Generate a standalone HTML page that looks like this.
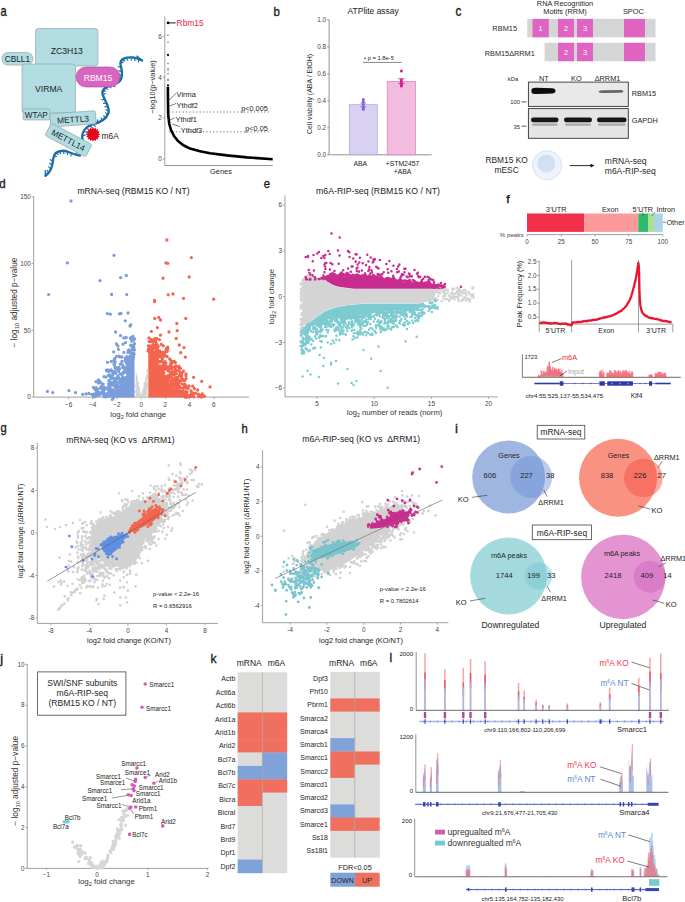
<!DOCTYPE html>
<html><head><meta charset="utf-8"><title>Figure</title>
<style>html,body{margin:0;padding:0;background:#fff;}svg{display:block;}text{font-family:"Liberation Sans", sans-serif;}</style>
</head><body>
<svg width="685" height="902" viewBox="0 0 685 902" font-family='"Liberation Sans", sans-serif'>
<rect width="685" height="902" fill="#fff"/>
<text transform="translate(0.50 15.70) scale(0.8 1)" font-size="13.8" fill="#1a1a1a" stroke="#1a1a1a" stroke-width="0.35">a</text><path d="M45.5,175.8 C49.5,173 52.5,167 53,160 C53.5,153 57,150.8 63,150.8 C69,150.8 73,155 80,155.5" fill="none" stroke="#1e6ea6" stroke-width="2.4" stroke-linecap="round"/><path d="M48.5,172.8l-1.8,-3.0M50.8,169.1l-2.4,-2.5M52.2,165.0l-2.8,-2.0M52.9,161.0l-3.1,-1.6M53.5,156.8l3.5,-0.3M55.5,153.2l3.2,1.3M59.0,151.3l2.1,2.8M63.0,150.8l1.2,3.2M67.2,151.5l0.3,3.5M71.1,153.0l-0.1,3.5M75.2,154.6l2.2,-2.7" stroke="#1e6ea6" stroke-width="1.1" fill="none"/><path d="M82.6,140 C81,133 85,127 93,124.2 C100,122.5 106,120 108.5,113 C110,106 104,100 102.5,94 C101.5,88 108,85.5 116,83.5 C123,81 122.5,72 120.6,65 C119.5,58.5 126,57 133,57.5 C137,58 140,59.5 142,60.4" fill="none" stroke="#1e6ea6" stroke-width="2.4" stroke-linecap="round"/><path d="M82.3,135.9l3.3,-1.0M83.5,131.8l3.5,0.3M86.1,128.2l3.1,1.5M89.7,125.7l2.7,2.2M93.5,124.1l2.0,2.8M97.5,122.9l0.1,-3.5M101.6,121.1l-0.5,-3.4M105.0,118.5l-1.4,-3.2M107.6,115.0l-2.3,-2.6M108.7,110.9l-3.2,-1.3M108.1,106.9l-3.5,-0.3M106.6,103.1l-3.5,0.3M104.7,99.4l-3.5,0.4M102.9,95.4l2.6,-2.3M102.6,91.2l3.5,-0.3M105.2,87.8l3.0,1.8M108.9,85.7l2.4,2.5M113.1,84.3l2.1,2.8M117.0,83.1l-0.3,-3.5M120.2,80.1l-2.1,-2.8M121.6,75.9l-3.0,-1.7M121.8,71.6l-3.3,-1.0M121.1,67.2l-3.4,-0.6M120.5,63.2l3.3,-1.1M122.2,59.6l3.1,1.6M126.1,57.8l1.9,2.9M130.4,57.4l1.3,3.2M134.5,57.7l0.6,3.4M138.5,58.9l0.0,3.5" stroke="#1e6ea6" stroke-width="1.1" fill="none"/><line x1="45.5" y1="175.8" x2="45.3" y2="170.2" stroke="#1e6ea6" stroke-width="1.5"/><line x1="142.0" y1="60.4" x2="136.5" y2="55.8" stroke="#1e6ea6" stroke-width="1.4"/><rect x="35.5" y="28.5" width="62.5" height="37.5" rx="3" fill="#b0dce2" stroke="#8a9ea2" stroke-width="0.6"/><text x="66.7" y="53.6" font-size="8.6" text-anchor="middle" fill="#222">ZC3H13</text><rect x="1.8" y="52.5" width="31.2" height="12.6" rx="6.3" fill="#b0dce2" stroke="#8a9ea2" stroke-width="0.6"/><text x="17.4" y="62.4" font-size="8.3" text-anchor="middle" fill="#222">CBLL1</text><rect x="22.0" y="64.0" width="53.5" height="49.0" rx="3" fill="#b0dce2" stroke="#8a9ea2" stroke-width="0.6"/><text x="48.7" y="92.0" font-size="8.6" text-anchor="middle" fill="#222">VIRMA</text><rect x="76.0" y="67.0" width="44.0" height="20.0" rx="10" fill="#d866c0" stroke="#a04c90" stroke-width="0.6"/><text x="98.0" y="80.6" font-size="8.6" text-anchor="middle" fill="#fff">RBM15</text><rect x="23.0" y="109.0" width="27.0" height="11.0" rx="2" fill="#b0dce2" stroke="#8a9ea2" stroke-width="0.6"/><text x="36.3" y="118.2" font-size="8.2" text-anchor="middle" fill="#222">WTAP</text><g transform="rotate(-4 73 118.8)"><rect x="50.3" y="112.2" width="45.6" height="13.2" rx="2" fill="#b0dce2" stroke="#8a9ea2" stroke-width="0.6"/><text x="73.0" y="122.5" font-size="8.4" text-anchor="middle" fill="#222">METTL3</text></g><g transform="rotate(28 68.5 140)"><rect x="45.5" y="133.0" width="46.0" height="14.0" rx="2" fill="#b0dce2" stroke="#8a9ea2" stroke-width="0.6"/><text x="68.5" y="143.2" font-size="8.4" text-anchor="middle" fill="#222">METTL14</text></g><polygon points="100.4,134.3 98.4,135.4 99.8,137.1 97.6,137.4 98.2,139.5 96.1,138.9 95.8,141.1 94.1,139.7 93.0,141.7 91.9,139.7 90.2,141.1 89.9,138.9 87.8,139.5 88.4,137.4 86.2,137.1 87.6,135.4 85.6,134.3 87.6,133.2 86.2,131.5 88.4,131.2 87.8,129.1 89.9,129.7 90.2,127.5 91.9,128.9 93.0,126.9 94.1,128.9 95.8,127.5 96.1,129.7 98.2,129.1 97.6,131.2 99.8,131.5 98.4,133.2" fill="#e8061f"/><text x="101.6" y="139.2" font-size="8.4" fill="#222">m6A</text><line x1="164.8" y1="16.3" x2="164.8" y2="165.5" stroke="#aaa" stroke-width="1.1"/><line x1="164.8" y1="165.5" x2="272.7" y2="165.5" stroke="#777" stroke-width="0.8"/><line x1="162.8" y1="159.0" x2="164.8" y2="159.0" stroke="#777" stroke-width="0.7"/><text x="161.8" y="161.3" font-size="6.4" text-anchor="end" fill="#444">0</text><line x1="162.8" y1="118.1" x2="164.8" y2="118.1" stroke="#777" stroke-width="0.7"/><text x="161.8" y="120.4" font-size="6.4" text-anchor="end" fill="#444">2</text><line x1="162.8" y1="77.2" x2="164.8" y2="77.2" stroke="#777" stroke-width="0.7"/><text x="161.8" y="79.5" font-size="6.4" text-anchor="end" fill="#444">4</text><line x1="162.8" y1="36.3" x2="164.8" y2="36.3" stroke="#777" stroke-width="0.7"/><text x="161.8" y="38.6" font-size="6.4" text-anchor="end" fill="#444">6</text><text x="155.4" y="87.0" font-size="7.4" text-anchor="middle" transform="rotate(-90 155.4 87.0)" fill="#262626">−log10(p−value)</text><text x="221.0" y="173.5" font-size="7.4" text-anchor="middle" fill="#262626">Genes</text><line x1="169" y1="112" x2="269.5" y2="112" stroke="#333" stroke-width="0.7" stroke-dasharray="1.2 2.2"/><line x1="169" y1="131.8" x2="269.5" y2="131.8" stroke="#333" stroke-width="0.7" stroke-dasharray="1.2 2.2"/><text x="267.8" y="111.3" font-size="7.3" text-anchor="end" fill="#222">p&lt;0.005</text><text x="267.8" y="131.3" font-size="7.3" text-anchor="end" fill="#222">p&lt;0.05</text><path d="M167.9,87 L168.0,100 L168.2,115 L169.3,124 L171,130 L174,136 L178,141 L183,145 L190,148.6 L200,151.3 L210,153.2 L227,155.4 L247,157.4 L272.7,159.2" fill="none" stroke="#000" stroke-width="2.6" stroke-linejoin="round"/><circle cx="168.0" cy="35.3" r="0.75" fill="#666"/><circle cx="168.0" cy="42.3" r="0.75" fill="#666"/><circle cx="168.0" cy="63.5" r="0.75" fill="#666"/><circle cx="168.0" cy="68.8" r="0.75" fill="#666"/><circle cx="168.0" cy="70.2" r="0.75" fill="#666"/><circle cx="168.0" cy="73.7" r="0.75" fill="#666"/><circle cx="168.0" cy="79.2" r="0.75" fill="#666"/><circle cx="168.0" cy="80.6" r="0.75" fill="#666"/><circle cx="168.0" cy="55.0" r="1.15" fill="#111"/><circle cx="168.0" cy="85.5" r="1.15" fill="#111"/><circle cx="168.0" cy="22.9" r="1.30" fill="#000"/><line x1="168.0" y1="22.9" x2="175.6" y2="22.9" stroke="#000" stroke-width="0.9"/><text x="176.6" y="25.6" font-size="8.4" fill="#e8243c">Rbm15</text><text x="176.6" y="97.2" font-size="7.4" fill="#222">Virma</text><line x1="168.0" y1="101.0" x2="176.0" y2="93.5" stroke="#222" stroke-width="0.6"/><text x="176.6" y="107.8" font-size="7.4" fill="#222">Ythdf2</text><line x1="168.5" y1="106.5" x2="176.0" y2="103.5" stroke="#222" stroke-width="0.6"/><text x="175.6" y="121.6" font-size="7.4" fill="#222">Ythdf1</text><line x1="169.5" y1="120.0" x2="174.5" y2="118.0" stroke="#222" stroke-width="0.6"/><text x="180.8" y="132.6" font-size="7.4" fill="#222">Ythdf3</text><line x1="172.0" y1="124.2" x2="180.0" y2="126.5" stroke="#222" stroke-width="0.6"/><text transform="translate(273.60 15.70) scale(0.85 1)" font-size="13.5" fill="#1a1a1a" stroke="#1a1a1a" stroke-width="0.35">b</text><text x="373.2" y="14.2" font-size="8.5" text-anchor="middle" fill="#222">ATPlite assay</text><line x1="329.1" y1="19.7" x2="329.1" y2="154.8" stroke="#777" stroke-width="0.8"/><line x1="329.1" y1="154.8" x2="431.6" y2="154.8" stroke="#777" stroke-width="0.8"/><line x1="327.1" y1="154.8" x2="329.1" y2="154.8" stroke="#777" stroke-width="0.7"/><text x="326.1" y="157.0" font-size="6.3" text-anchor="end" fill="#444">0.0</text><line x1="327.1" y1="127.8" x2="329.1" y2="127.8" stroke="#777" stroke-width="0.7"/><text x="326.1" y="130.0" font-size="6.3" text-anchor="end" fill="#444">0.2</text><line x1="327.1" y1="100.8" x2="329.1" y2="100.8" stroke="#777" stroke-width="0.7"/><text x="326.1" y="103.0" font-size="6.3" text-anchor="end" fill="#444">0.4</text><line x1="327.1" y1="73.9" x2="329.1" y2="73.9" stroke="#777" stroke-width="0.7"/><text x="326.1" y="76.1" font-size="6.3" text-anchor="end" fill="#444">0.6</text><line x1="327.1" y1="46.9" x2="329.1" y2="46.9" stroke="#777" stroke-width="0.7"/><text x="326.1" y="49.1" font-size="6.3" text-anchor="end" fill="#444">0.8</text><line x1="327.1" y1="19.9" x2="329.1" y2="19.9" stroke="#777" stroke-width="0.7"/><text x="326.1" y="22.1" font-size="6.3" text-anchor="end" fill="#444">1.0</text><text x="311.5" y="94.0" font-size="7.0" text-anchor="middle" transform="rotate(-90 311.5 94.0)" fill="#262626">Cell viability (ABA / EtOH)</text><rect x="349.3" y="104.7" width="28.0" height="50.1" fill="#d9d1f1" stroke="#b0a3e6" stroke-width="0.7"/><rect x="387.2" y="81.5" width="28.4" height="73.3" fill="#f2bcdf" stroke="#e07ac4" stroke-width="0.7"/><line x1="363.3" y1="103.0" x2="363.3" y2="106.8" stroke="#7a5fd0" stroke-width="0.8"/><line x1="360.5" y1="103.0" x2="366.1" y2="103.0" stroke="#7a5fd0" stroke-width="0.8"/><line x1="360.5" y1="106.8" x2="366.1" y2="106.8" stroke="#7a5fd0" stroke-width="0.8"/><line x1="401.4" y1="78.8" x2="401.4" y2="83.4" stroke="#d0208e" stroke-width="0.8"/><line x1="398.2" y1="78.8" x2="404.6" y2="78.8" stroke="#d0208e" stroke-width="0.8"/><line x1="398.2" y1="83.4" x2="404.6" y2="83.4" stroke="#d0208e" stroke-width="0.8"/><circle cx="363.3" cy="99.6" r="1.50" fill="#8462d4"/><circle cx="363.3" cy="101.8" r="1.50" fill="#8462d4"/><circle cx="363.3" cy="104.5" r="1.50" fill="#8462d4"/><circle cx="363.3" cy="107.5" r="1.50" fill="#8462d4"/><circle cx="363.3" cy="109.3" r="1.50" fill="#8462d4"/><circle cx="401.4" cy="71.0" r="1.50" fill="#d21f8e"/><circle cx="401.4" cy="80.0" r="1.50" fill="#d21f8e"/><circle cx="401.4" cy="82.0" r="1.50" fill="#d21f8e"/><circle cx="401.4" cy="84.5" r="1.50" fill="#d21f8e"/><circle cx="401.4" cy="86.0" r="1.50" fill="#d21f8e"/><text x="364.0" y="60.0" font-size="5.8" fill="#222">• p = 1.8e-5</text><line x1="363.0" y1="62.4" x2="401.5" y2="62.4" stroke="#333" stroke-width="0.6"/><text x="360.3" y="166.3" font-size="6.8" text-anchor="middle" fill="#222">ABA</text><text x="402.5" y="166.3" font-size="6.8" text-anchor="middle" fill="#222">+STM2457</text><text x="402.5" y="174.2" font-size="6.8" text-anchor="middle" fill="#222">+ABA</text><text transform="translate(455.60 16.10) scale(0.85 1)" font-size="13.8" fill="#1a1a1a" stroke="#1a1a1a" stroke-width="0.35">c</text><text x="565.0" y="5.6" font-size="7.4" text-anchor="middle" fill="#262626">RNA Recognition</text><text x="565.0" y="14.4" font-size="7.4" text-anchor="middle" fill="#262626">Motifs (RRM)</text><text x="633.4" y="14.4" font-size="7.4" text-anchor="middle" fill="#262626">SPOC</text><rect x="527.3" y="18.9" width="128.2" height="18.4" fill="#d5d5d5"/><rect x="544.6" y="42.8" width="110.9" height="18.4" fill="#d5d5d5"/><rect x="532.5" y="18.9" width="16.3" height="18.4" fill="#e065c3"/><text x="540.6" y="31.0" font-size="7.4" text-anchor="middle" fill="#fff">1</text><rect x="558.0" y="18.9" width="16.0" height="18.4" fill="#e065c3"/><text x="566.0" y="31.0" font-size="7.4" text-anchor="middle" fill="#fff">2</text><rect x="577.0" y="18.9" width="16.0" height="18.4" fill="#e065c3"/><text x="585.0" y="31.0" font-size="7.4" text-anchor="middle" fill="#fff">3</text><rect x="624.0" y="18.9" width="21.0" height="18.4" fill="#e065c3"/><rect x="558.0" y="42.8" width="16.0" height="18.4" fill="#e065c3"/><text x="566.0" y="55.0" font-size="7.4" text-anchor="middle" fill="#fff">2</text><rect x="577.0" y="42.8" width="16.0" height="18.4" fill="#e065c3"/><text x="585.0" y="55.0" font-size="7.4" text-anchor="middle" fill="#fff">3</text><rect x="624.0" y="42.8" width="21.0" height="18.4" fill="#e065c3"/><text x="504.7" y="31.3" font-size="7.4" text-anchor="middle" fill="#262626">RBM15</text><text x="509.8" y="55.6" font-size="7.3" text-anchor="middle" fill="#262626">RBM15ΔRRM1</text><text x="513.0" y="81.4" font-size="5.8" text-anchor="middle" fill="#262626">kDa</text><text x="543.8" y="80.8" font-size="7.3" text-anchor="middle" fill="#222">NT</text><text x="576.3" y="80.8" font-size="7.3" text-anchor="middle" fill="#222">KO</text><text x="607.5" y="80.8" font-size="7.3" text-anchor="middle" fill="#222">ΔRRM1</text><rect x="528.4" y="82.1" width="99.9" height="24.3" fill="#e9e9e9" stroke="#333" stroke-width="0.9"/><rect x="528.4" y="108.6" width="99.9" height="29.7" fill="#e4e4e4" stroke="#333" stroke-width="0.9"/><filter id="bl" x="-20%" y="-50%" width="140%" height="200%"><feGaussianBlur stdDeviation="0.7"/></filter><g filter="url(#bl)"><path d="M531.5,89.2 Q533,87.6 537,87.8 L552,88.2 Q555.5,88.6 555.5,90.8 Q555.5,93.2 552,93.6 L537,94 Q532.5,94 531.5,92.5 Z" fill="#080808"/><path d="M598.5,91.5 Q600,90.2 604,90.3 L621,89.9 Q623.5,90 623.5,91.3 Q623.5,92.7 621,92.8 L604,93 Q599.5,93 598.5,91.9 Z" fill="#666"/><rect x="531" y="117.6" width="27.5" height="4.6" rx="2.2" fill="#151515"/><rect x="532" y="123.4" width="25.5" height="2.4" rx="1.2" fill="#a8a8a8"/><rect x="564" y="117.6" width="28" height="4.6" rx="2.2" fill="#151515"/><rect x="565" y="123.4" width="26" height="2.4" rx="1.2" fill="#a8a8a8"/><rect x="597" y="117.6" width="29.5" height="4.6" rx="2.2" fill="#151515"/><rect x="598" y="123.4" width="27.5" height="2.4" rx="1.2" fill="#a8a8a8"/></g><text x="520.0" y="104.2" font-size="5.8" text-anchor="end" fill="#262626">100</text><line x1="521.5" y1="101.9" x2="526.5" y2="101.9" stroke="#333" stroke-width="0.8"/><text x="520.0" y="128.5" font-size="5.8" text-anchor="end" fill="#262626">35</text><line x1="521.5" y1="126.2" x2="526.5" y2="126.2" stroke="#333" stroke-width="0.8"/><text x="631.8" y="96.4" font-size="7.3" fill="#222">RBM15</text><text x="631.8" y="123.4" font-size="7.3" fill="#222">GAPDH</text><text x="506.6" y="163.0" font-size="8.4" text-anchor="middle" fill="#262626">RBM15 KO</text><text x="506.6" y="172.8" font-size="8.4" text-anchor="middle" fill="#262626">mESC</text><circle cx="547.0" cy="165.3" r="14.60" fill="#edf3fc" stroke="#c6d6f1" stroke-width="0.7"/><circle cx="546.3" cy="163.4" r="9.00" fill="#d2e0f5"/><line x1="569.7" y1="165.6" x2="592.0" y2="165.6" stroke="#111" stroke-width="0.9"/><polygon points="594.5,165.6 590.5,163.8 590.5,167.4" fill="#111"/><text x="604.8" y="163.8" font-size="8.5" fill="#262626">mRNA-seq</text><text x="604.8" y="173.6" font-size="8.5" fill="#262626">m6A-RIP-seq</text><text transform="translate(-0.80 187.90) scale(0.9 1)" font-size="12.8" fill="#1a1a1a" stroke="#1a1a1a" stroke-width="0.35">d</text><text x="133.5" y="194.4" font-size="8.6" text-anchor="middle" fill="#222">mRNA-seq (RBM15 KO / NT)</text><line x1="33.7" y1="196.3" x2="33.7" y2="397.1" stroke="#888" stroke-width="0.8"/><line x1="33.7" y1="397.1" x2="249.2" y2="397.1" stroke="#888" stroke-width="0.8"/><line x1="31.7" y1="397.1" x2="33.7" y2="397.1" stroke="#888" stroke-width="0.7"/><text x="30.9" y="399.3" font-size="6.4" text-anchor="end" fill="#444">0</text><line x1="31.7" y1="330.3" x2="33.7" y2="330.3" stroke="#888" stroke-width="0.7"/><text x="30.9" y="332.5" font-size="6.4" text-anchor="end" fill="#444">50</text><line x1="31.7" y1="263.5" x2="33.7" y2="263.5" stroke="#888" stroke-width="0.7"/><text x="30.9" y="265.7" font-size="6.4" text-anchor="end" fill="#444">100</text><line x1="31.7" y1="196.7" x2="33.7" y2="196.7" stroke="#888" stroke-width="0.7"/><text x="30.9" y="198.9" font-size="6.4" text-anchor="end" fill="#444">150</text><line x1="68.6" y1="397.1" x2="68.6" y2="399.1" stroke="#888" stroke-width="0.7"/><text x="68.6" y="406.5" font-size="6.4" text-anchor="middle" fill="#444">−6</text><line x1="92.8" y1="397.1" x2="92.8" y2="399.1" stroke="#888" stroke-width="0.7"/><text x="92.8" y="406.5" font-size="6.4" text-anchor="middle" fill="#444">−4</text><line x1="117.0" y1="397.1" x2="117.0" y2="399.1" stroke="#888" stroke-width="0.7"/><text x="117.0" y="406.5" font-size="6.4" text-anchor="middle" fill="#444">−2</text><line x1="141.2" y1="397.1" x2="141.2" y2="399.1" stroke="#888" stroke-width="0.7"/><text x="141.2" y="406.5" font-size="6.4" text-anchor="middle" fill="#444">0</text><line x1="165.4" y1="397.1" x2="165.4" y2="399.1" stroke="#888" stroke-width="0.7"/><text x="165.4" y="406.5" font-size="6.4" text-anchor="middle" fill="#444">2</text><line x1="189.6" y1="397.1" x2="189.6" y2="399.1" stroke="#888" stroke-width="0.7"/><text x="189.6" y="406.5" font-size="6.4" text-anchor="middle" fill="#444">4</text><line x1="213.8" y1="397.1" x2="213.8" y2="399.1" stroke="#888" stroke-width="0.7"/><text x="213.8" y="406.5" font-size="6.4" text-anchor="middle" fill="#444">6</text><text x="138.2" y="416.8" font-size="7.8" text-anchor="middle" fill="#333">log<tspan font-size="5.5" dy="2">2</tspan><tspan dy="-2"> fold change</tspan></text><text transform="translate(17.3 302.6) rotate(-90)" font-size="8.3" text-anchor="middle" fill="#333">− log<tspan font-size="5.8" dy="2">10</tspan><tspan dy="-2"> adjusted p−value</tspan></text><path d="M135.7,397 L135.7,369.5 L141.3,396.5 L147.5,369.5 L147.5,397 Z" fill="#d6d6d6"/><path d="M141.0 396.1h0M146.6 386.0h0M141.7 395.7h0M137.9 389.1h0M143.1 390.3h0M136.8 390.9h0M136.8 380.6h0M143.9 396.5h0M147.3 371.4h0M143.4 391.0h0M137.6 396.7h0M141.9 396.8h0M137.9 393.3h0M136.1 386.2h0M140.9 395.1h0M141.8 395.2h0M141.6 395.8h0M141.1 396.6h0M147.5 369.7h0M145.6 383.3h0M139.4 395.0h0M139.1 396.3h0M144.7 390.8h0M145.7 389.4h0M147.0 375.5h0M135.7 391.8h0M146.4 386.2h0M147.3 386.5h0M136.6 383.7h0M144.9 392.7h0M136.7 390.2h0M147.1 377.6h0M137.1 392.4h0M136.9 395.8h0M145.1 394.0h0M142.3 394.8h0M138.0 386.0h0M137.2 385.3h0M137.1 389.0h0M138.2 393.2h0M147.2 376.1h0M139.3 388.8h0M138.2 391.5h0M145.8 384.2h0M136.9 377.5h0M138.2 393.4h0M144.8 391.8h0M139.2 396.3h0M136.8 385.2h0M138.6 389.5h0M140.1 394.4h0M147.0 384.7h0M142.5 392.1h0M137.9 394.6h0M146.4 378.4h0M138.6 394.7h0M144.4 383.7h0M138.0 383.0h0M146.1 384.1h0M140.7 396.7h0" stroke="#d4d4d4" stroke-width="2.0" stroke-linecap="round" fill="none"/><path d="M113.0,396.5 L114.5,394.2 L116.0,392.0 L117.5,390.8 L119.0,389.6 L120.5,388.4 L122.0,386.5 L123.5,384.2 L125.0,382.0 L126.5,378.5 L128.0,375.0 L129.5,370.0 L131.0,365.0 L132.5,359.0 L134.0,354.3 L134.5,352.9 L134.5,397.5 L134.0,397.5 L132.5,397.5 L131.0,397.5 L129.5,397.5 L128.0,397.5 L126.5,397.5 L125.0,397.5 L123.5,397.5 L122.0,397.5 L120.5,397.5 L119.0,397.5 L117.5,397.5 L116.0,397.5 L114.5,397.5 L113.0,397.5Z" fill="#7a9edc"/><path d="M93.7 394.2h0M128.8 368.1h0M131.6 337.3h0M120.4 373.8h0M105.8 397.0h0M116.7 368.9h0M117.2 367.7h0M111.0 384.9h0M131.8 341.2h0M111.1 388.9h0M93.4 387.5h0M122.6 364.8h0M112.4 375.6h0M112.0 370.9h0M123.2 383.4h0M115.2 381.3h0M113.3 393.2h0M114.6 385.3h0M114.6 365.0h0M93.2 394.7h0M113.2 373.8h0M118.4 386.3h0M131.0 345.7h0M123.9 352.4h0M124.2 380.4h0M122.0 379.5h0M109.5 376.2h0M119.6 368.8h0M118.6 377.4h0M131.1 363.3h0M132.8 353.6h0M120.3 364.1h0M123.0 344.2h0M112.6 395.0h0M114.6 392.3h0M112.2 395.4h0M119.0 356.2h0M119.3 378.5h0M115.8 369.3h0M131.8 354.1h0M96.2 387.6h0M112.9 373.4h0M110.9 382.2h0M116.4 381.8h0M128.1 364.2h0M104.6 394.7h0M120.0 380.2h0M127.3 358.0h0M103.9 396.3h0M122.8 367.5h0M98.5 379.8h0M112.2 393.7h0M110.0 390.8h0M112.2 375.6h0M111.9 394.5h0M108.3 375.3h0M116.4 356.4h0M128.2 366.5h0M126.1 371.5h0M106.8 370.8h0M127.6 367.9h0M100.5 392.9h0M127.3 367.1h0M106.3 370.1h0M131.1 361.5h0M110.7 389.8h0M117.8 378.4h0M113.7 351.8h0M122.0 361.5h0M120.8 387.0h0M116.5 389.8h0M100.3 388.0h0M132.5 355.4h0M114.8 361.8h0M111.9 378.3h0M117.8 375.6h0M121.8 384.3h0M102.4 388.8h0M93.5 396.7h0M132.3 349.3h0M117.5 388.5h0M109.0 385.2h0M98.6 392.2h0M108.7 386.9h0M130.5 364.4h0M125.3 369.1h0M108.5 390.2h0M133.9 347.0h0M125.4 358.1h0M113.9 381.7h0M127.8 364.6h0M96.6 392.0h0M130.6 345.2h0M109.4 374.9h0M104.1 389.9h0M115.6 373.0h0M100.8 388.0h0M110.6 394.2h0M109.6 375.0h0M107.4 396.2h0M109.4 387.1h0M115.2 386.9h0M116.0 381.0h0M122.0 357.0h0M104.3 387.4h0M111.7 392.0h0M124.1 367.1h0M97.7 389.2h0M128.7 366.3h0M96.3 389.2h0M123.2 372.2h0M127.8 370.8h0M109.3 371.2h0M115.2 362.0h0M98.7 394.8h0M133.6 353.0h0M105.0 394.5h0M96.8 390.9h0M113.6 389.8h0M114.3 378.5h0M129.2 352.2h0M111.0 378.4h0M105.8 377.1h0M115.2 384.9h0M129.7 357.4h0M132.1 359.0h0M108.8 380.4h0M116.8 385.2h0M115.1 367.7h0M107.7 393.3h0M128.9 367.7h0M102.0 393.2h0M95.1 389.6h0M125.9 361.1h0M127.8 373.6h0M128.0 352.6h0M103.0 387.8h0M126.1 362.5h0M109.9 396.2h0M112.6 383.4h0M132.9 336.5h0M103.8 392.4h0M123.8 337.9h0M120.2 356.9h0M130.2 365.6h0M134.5 343.7h0M98.8 393.1h0M131.9 360.6h0M119.3 356.7h0M103.0 389.7h0M128.3 359.7h0M121.6 381.8h0M102.5 391.0h0M120.2 380.1h0M104.6 393.4h0M114.6 358.6h0M129.3 362.2h0M121.6 379.2h0M116.8 377.8h0M130.0 356.1h0M124.9 378.0h0M114.8 359.1h0M107.5 362.3h0M108.2 371.3h0M126.3 377.4h0M113.1 374.2h0M106.6 387.9h0M127.1 364.8h0M134.6 338.8h0M128.3 362.7h0M107.3 395.9h0M120.8 374.2h0M130.6 338.8h0M126.4 368.5h0M95.3 396.5h0M123.3 378.9h0M112.5 393.9h0M103.2 384.1h0M108.5 383.8h0M133.8 340.0h0M134.5 349.8h0M112.2 385.3h0M124.2 379.1h0M96.9 395.5h0M132.4 353.6h0M127.6 373.3h0M129.0 349.9h0M118.1 383.8h0M114.0 360.3h0M113.8 382.3h0M131.8 358.3h0M130.4 338.0h0M130.3 358.2h0M132.4 347.1h0M126.2 337.5h0M124.1 379.0h0M99.6 395.1h0M121.2 385.3h0M104.0 376.7h0M119.6 382.2h0M117.9 346.0h0M124.7 370.4h0M125.6 372.2h0M122.8 373.7h0M133.4 345.2h0M132.5 337.7h0M110.4 392.7h0M128.2 350.6h0M100.7 382.4h0M128.3 373.1h0M110.1 392.7h0M116.4 343.8h0M111.2 361.4h0M108.2 393.1h0M105.3 388.3h0M125.6 342.6h0M122.6 376.9h0M107.1 396.4h0M125.2 360.2h0M114.7 371.7h0M107.9 370.0h0M126.7 356.7h0M129.5 367.7h0M118.4 349.3h0M117.6 386.0h0M130.8 351.8h0M110.3 382.2h0M105.0 389.2h0M119.0 367.4h0M103.6 395.6h0M127.4 359.2h0M118.3 387.6h0M118.6 371.4h0M111.1 382.6h0M132.7 337.7h0M114.9 395.4h0M130.6 366.4h0M123.1 386.6h0M126.9 379.1h0M115.1 393.6h0M126.9 377.1h0M131.2 365.9h0M119.1 391.1h0M123.4 386.3h0M132.1 360.4h0M130.8 366.3h0M133.2 356.1h0M131.2 363.6h0M117.0 392.2h0M113.3 395.7h0M123.0 384.1h0M118.7 390.5h0M132.1 359.7h0M129.6 369.2h0M133.4 357.0h0M126.3 380.8h0M127.7 374.8h0M123.7 385.5h0M125.2 383.3h0M122.7 387.2h0M121.7 386.5h0M129.2 370.6h0M122.6 386.3h0M113.3 395.7h0M125.2 382.3h0M115.4 393.6h0M113.5 397.5h0M113.8 396.0h0M115.2 392.7h0M126.2 378.7h0M124.8 383.8h0M118.4 389.6h0M125.6 380.7h0M126.7 379.9h0M116.6 392.2h0M131.6 361.8h0M125.7 381.6h0M113.1 396.7h0M121.5 386.5h0M116.8 392.8h0M112.4 399.4h0M130.7 365.3h0M115.6 394.6h0M125.4 382.4h0M126.3 378.3h0M129.3 371.7h0M126.1 380.6h0M129.6 370.8h0M132.2 360.3h0M132.7 359.2h0M134.1 354.2h0M118.0 390.5h0M119.2 391.1h0M112.9 396.8h0M117.6 392.4h0M71.0 201.0h0M67.4 262.9h0M48.6 294.6h0M100.0 280.7h0M114.0 255.3h0M120.6 277.6h0M126.3 275.5h0M126.7 294.6h0M111.6 294.5h0M107.3 313.6h0M110.3 314.2h0M119.4 313.8h0M121.0 313.5h0M128.0 313.0h0M125.3 320.8h0M130.0 326.0h0M130.8 325.0h0M115.5 332.0h0M120.5 335.6h0M47.4 391.4h0M52.8 392.6h0M68.9 390.6h0M75.5 392.6h0M82.7 394.3h0M86.0 394.0h0M89.0 393.5h0M92.0 394.5h0M95.0 393.8h0M98.0 394.5h0M96.0 381.7h0M98.6 383.0h0M100.0 382.0h0M101.5 386.0h0M103.0 389.0h0M114.0 364.0h0M111.0 370.0h0M112.0 377.0h0M114.5 381.0h0" stroke="#7a9edc" stroke-width="3.3" stroke-linecap="round" fill="none"/><path d="M148.3,350.5 L149.8,349.2 L151.3,350.6 L152.8,352.5 L154.3,354.6 L155.8,357.6 L157.3,360.8 L158.8,364.8 L160.3,368.7 L161.8,372.2 L163.3,375.4 L164.8,377.4 L166.3,379.4 L167.8,381.2 L169.3,383.1 L170.8,384.9 L172.3,386.5 L173.8,388.1 L175.3,389.7 L176.8,390.9 L178.3,391.6 L179.8,392.4 L181.3,393.1 L182.8,394.0 L184.3,394.9 L185.8,395.9 L186.0,396.0 L186.0,397.5 L185.8,397.5 L184.3,397.5 L182.8,397.5 L181.3,397.5 L179.8,397.5 L178.3,397.5 L176.8,397.5 L175.3,397.5 L173.8,397.5 L172.3,397.5 L170.8,397.5 L169.3,397.5 L167.8,397.5 L166.3,397.5 L164.8,397.5 L163.3,397.5 L161.8,397.5 L160.3,397.5 L158.8,397.5 L157.3,397.5 L155.8,397.5 L154.3,397.5 L152.8,397.5 L151.3,397.5 L149.8,397.5 L148.3,397.5Z" fill="#f4654f"/><path d="M182.3 392.4h0M169.5 366.5h0M152.7 342.2h0M159.4 339.7h0M175.3 369.5h0M174.3 374.9h0M179.2 380.5h0M157.2 351.3h0M179.1 387.6h0M163.3 370.0h0M172.8 374.6h0M157.9 361.2h0M148.9 337.8h0M150.9 348.4h0M175.9 383.2h0M173.7 380.6h0M185.5 391.4h0M165.9 363.3h0M170.2 380.9h0M175.3 362.4h0M172.4 374.6h0M175.3 378.5h0M160.5 335.1h0M176.9 382.8h0M162.0 369.5h0M173.4 372.3h0M148.4 345.8h0M176.2 384.0h0M162.4 359.4h0M167.9 367.2h0M177.8 378.4h0M156.7 353.4h0M175.5 385.8h0M161.2 369.8h0M186.1 392.8h0M166.6 377.3h0M158.2 346.4h0M201.5 397.0h0M164.4 353.9h0M185.5 392.0h0M158.2 362.1h0M157.3 345.0h0M183.4 371.2h0M168.7 378.0h0M151.4 346.0h0M163.6 369.1h0M155.1 338.6h0M174.9 372.0h0M182.2 384.1h0M160.4 355.2h0M165.5 368.6h0M197.9 394.1h0M176.4 382.9h0M157.7 355.8h0M176.3 383.4h0M158.7 361.6h0M170.5 374.3h0M193.9 396.9h0M182.9 379.5h0M193.1 395.3h0M180.1 372.9h0M153.0 348.3h0M184.7 393.7h0M163.2 362.9h0M153.1 346.0h0M171.2 377.4h0M167.1 356.4h0M167.8 348.8h0M172.2 367.1h0M194.4 388.7h0M198.3 394.1h0M192.6 393.1h0M180.4 376.1h0M190.9 396.4h0M171.1 360.7h0M178.6 387.4h0M153.0 349.4h0M182.1 372.6h0M186.1 378.7h0M190.0 396.3h0M195.5 393.1h0M176.0 382.9h0M177.5 384.7h0M168.9 378.9h0M159.6 352.3h0M155.0 352.4h0M171.2 374.1h0M162.1 367.4h0M191.3 394.5h0M169.5 367.5h0M157.2 357.5h0M180.2 387.3h0M172.3 372.3h0M154.5 347.6h0M179.1 369.3h0M174.0 373.3h0M176.1 387.0h0M171.4 376.3h0M172.6 379.9h0M191.6 395.7h0M164.7 362.8h0M160.9 366.6h0M159.9 366.0h0M188.1 388.4h0M175.4 384.8h0M163.3 365.0h0M162.5 366.5h0M162.8 352.8h0M162.9 372.2h0M170.8 365.0h0M150.0 341.3h0M189.0 396.5h0M173.6 383.7h0M167.8 377.1h0M186.1 387.5h0M174.2 385.3h0M168.6 375.6h0M198.7 396.6h0M191.9 392.4h0M159.9 352.5h0M155.4 348.3h0M176.8 377.3h0M199.8 396.2h0M166.2 349.4h0M173.7 384.0h0M157.9 347.3h0M157.9 347.0h0M175.2 381.7h0M156.5 355.4h0M173.3 361.6h0M156.6 338.6h0M179.1 366.5h0M163.8 373.3h0M168.2 370.8h0M177.9 366.8h0M148.6 349.1h0M159.8 361.5h0M176.2 380.0h0M174.4 378.6h0M168.4 370.8h0M180.1 372.5h0M184.2 386.8h0M157.4 355.8h0M163.3 345.8h0M179.4 375.5h0M171.6 363.8h0M186.0 373.9h0M178.9 370.5h0M157.0 351.8h0M157.2 358.8h0M155.6 340.6h0M175.2 377.8h0M165.4 362.6h0M154.6 353.0h0M156.2 342.9h0M164.9 355.5h0M179.7 391.1h0M164.2 364.9h0M150.3 346.2h0M179.1 382.7h0M174.7 370.7h0M180.0 391.0h0M174.9 379.7h0M189.4 395.5h0M157.5 348.3h0M194.2 393.3h0M161.3 353.3h0M149.3 341.6h0M178.2 385.4h0M176.3 370.7h0M170.7 364.4h0M159.7 351.0h0M162.6 352.1h0M174.5 367.2h0M164.2 366.3h0M174.5 380.0h0M165.6 369.2h0M186.0 375.6h0M182.8 388.4h0M181.8 378.6h0M169.7 359.0h0M200.2 395.3h0M165.5 351.8h0M159.9 353.8h0M160.6 357.1h0M179.2 386.0h0M164.6 368.5h0M163.2 373.4h0M151.3 331.3h0M173.4 384.4h0M184.8 393.9h0M181.6 375.1h0M184.9 384.5h0M154.7 341.0h0M156.3 351.1h0M204.4 396.2h0M170.5 365.0h0M151.1 339.6h0M176.4 373.7h0M170.4 372.6h0M180.2 381.3h0M176.7 379.2h0M178.4 382.5h0M165.1 361.7h0M177.8 388.2h0M167.8 378.9h0M157.5 360.0h0M158.0 354.7h0M186.8 395.1h0M152.7 339.9h0M163.3 356.0h0M155.4 345.7h0M187.0 392.0h0M172.5 385.0h0M149.4 348.1h0M186.5 392.3h0M163.5 356.6h0M181.5 377.5h0M166.3 366.5h0M190.7 394.9h0M176.1 365.9h0M158.9 356.7h0M180.5 380.7h0M157.7 350.8h0M163.5 372.1h0M184.9 387.9h0M192.7 386.2h0M167.7 347.1h0M169.1 368.6h0M168.6 375.4h0M156.3 357.6h0M174.3 361.5h0M173.6 385.6h0M168.6 378.8h0M182.5 391.2h0M159.6 362.1h0M184.6 380.8h0M171.2 362.5h0M161.2 361.3h0M183.4 380.5h0M160.5 366.3h0M177.6 380.2h0M161.3 344.4h0M167.9 369.1h0M166.5 348.5h0M175.7 365.8h0M200.0 395.7h0M185.6 385.5h0M159.8 353.6h0M166.0 376.4h0M179.3 387.9h0M171.8 383.2h0M167.3 351.3h0M153.6 345.1h0M171.6 369.4h0M189.1 396.9h0M190.7 395.6h0M180.5 368.3h0M175.3 362.3h0M181.1 373.3h0M166.0 380.8h0M174.2 389.2h0M156.3 358.6h0M179.1 393.4h0M148.1 351.0h0M185.1 397.2h0M179.3 392.3h0M175.4 391.8h0M163.3 377.3h0M184.9 394.4h0M175.7 390.4h0M178.2 393.2h0M186.4 397.2h0M164.6 379.1h0M151.0 349.4h0M155.5 357.4h0M176.2 390.4h0M165.1 377.7h0M180.5 394.1h0M162.9 375.0h0M174.9 389.7h0M149.0 351.1h0M161.8 371.6h0M172.0 387.3h0M170.0 385.1h0M185.7 395.7h0M182.3 394.5h0M152.9 352.3h0M154.9 355.2h0M177.9 390.9h0M170.2 384.3h0M148.9 351.1h0M152.5 353.9h0M168.7 384.2h0M167.2 382.0h0M155.2 356.0h0M186.5 396.6h0M171.9 387.5h0M164.4 376.3h0M150.6 350.6h0M157.3 362.2h0M153.7 353.4h0M161.1 369.6h0M160.4 368.8h0M162.1 372.5h0M150.1 348.2h0M157.5 361.2h0M160.5 371.0h0M168.9 384.3h0M178.5 393.1h0M149.8 349.6h0M170.7 384.9h0M175.8 392.1h0M183.3 393.9h0M177.1 393.0h0M159.2 367.2h0M182.4 394.9h0M163.4 376.9h0M176.5 392.4h0M166.1 378.8h0M166.9 240.0h0M166.0 262.9h0M167.8 263.3h0M191.4 257.6h0M163.0 278.2h0M189.2 276.9h0M168.2 294.8h0M173.0 294.0h0M154.6 300.5h0M183.5 298.3h0M213.7 299.2h0M154.5 301.6h0M154.7 318.4h0M158.8 317.4h0M160.5 320.0h0M185.8 318.4h0M176.8 323.5h0M177.2 330.7h0M169.0 332.0h0M157.4 327.6h0M176.2 338.4h0M179.3 345.0h0M184.0 347.6h0M180.7 352.7h0M185.4 357.2h0M193.6 377.3h0M201.7 381.3h0M210.0 386.9h0M197.7 390.0h0M202.4 394.0h0M189.0 386.0h0M191.0 391.0h0" stroke="#f4654f" stroke-width="3.3" stroke-linecap="round" fill="none"/><text transform="translate(263.80 188.20) scale(0.85 1)" font-size="13.3" fill="#1a1a1a" stroke="#1a1a1a" stroke-width="0.35">e</text><text x="378.0" y="194.4" font-size="8.75" text-anchor="middle" fill="#222">m6A-RIP-seq (RBM15 KO / NT)</text><line x1="285.0" y1="195.4" x2="285.0" y2="396.9" stroke="#888" stroke-width="0.8"/><line x1="285.0" y1="396.9" x2="497.5" y2="396.9" stroke="#888" stroke-width="0.8"/><line x1="283.0" y1="388.0" x2="285.0" y2="388.0" stroke="#888" stroke-width="0.7"/><text x="282.0" y="390.2" font-size="6.4" text-anchor="end" fill="#444">−6</text><line x1="283.0" y1="342.3" x2="285.0" y2="342.3" stroke="#888" stroke-width="0.7"/><text x="282.0" y="344.5" font-size="6.4" text-anchor="end" fill="#444">−3</text><line x1="283.0" y1="296.6" x2="285.0" y2="296.6" stroke="#888" stroke-width="0.7"/><text x="282.0" y="298.8" font-size="6.4" text-anchor="end" fill="#444">0</text><line x1="283.0" y1="250.9" x2="285.0" y2="250.9" stroke="#888" stroke-width="0.7"/><text x="282.0" y="253.1" font-size="6.4" text-anchor="end" fill="#444">3</text><line x1="283.0" y1="205.2" x2="285.0" y2="205.2" stroke="#888" stroke-width="0.7"/><text x="282.0" y="207.4" font-size="6.4" text-anchor="end" fill="#444">6</text><line x1="317.0" y1="396.9" x2="317.0" y2="398.9" stroke="#888" stroke-width="0.7"/><text x="317.0" y="405.9" font-size="6.4" text-anchor="middle" fill="#444">5</text><line x1="374.2" y1="396.9" x2="374.2" y2="398.9" stroke="#888" stroke-width="0.7"/><text x="374.2" y="405.9" font-size="6.4" text-anchor="middle" fill="#444">10</text><line x1="431.4" y1="396.9" x2="431.4" y2="398.9" stroke="#888" stroke-width="0.7"/><text x="431.4" y="405.9" font-size="6.4" text-anchor="middle" fill="#444">15</text><line x1="488.6" y1="396.9" x2="488.6" y2="398.9" stroke="#888" stroke-width="0.7"/><text x="488.6" y="405.9" font-size="6.4" text-anchor="middle" fill="#444">20</text><text x="394.5" y="415.3" font-size="7.65" text-anchor="middle" fill="#333">log<tspan font-size="5.4" dy="2">2</tspan><tspan dy="-2"> number of reads (norm)</tspan></text><text transform="translate(274.2 296.7) rotate(-90)" font-size="7.7" text-anchor="middle" fill="#333">log<tspan font-size="5.8" dy="2">2</tspan><tspan dy="-2"> fold change</tspan></text><path d="M302.5,280.6 L304.5,278.4 L306.5,276.7 L308.5,275.2 L310.5,274.9 L312.5,276.0 L314.5,277.1 L316.5,278.5 L318.5,278.9 L320.5,279.1 L322.5,279.3 L324.5,279.7 L326.5,281.1 L328.5,282.5 L330.5,283.9 L332.5,285.0 L334.5,285.7 L336.5,286.4 L338.5,287.1 L340.5,287.4 L342.5,287.7 L344.5,287.9 L346.5,288.1 L348.5,288.4 L350.5,288.6 L352.5,288.9 L354.5,289.0 L356.5,289.0 L358.5,289.0 L360.5,289.0 L362.5,289.0 L364.5,289.0 L366.5,289.0 L368.5,289.0 L370.5,289.0 L372.5,289.0 L374.5,289.0 L376.5,289.0 L378.5,289.0 L380.5,289.0 L382.5,289.0 L384.5,289.0 L386.5,289.0 L388.5,289.0 L390.5,289.0 L392.5,289.0 L394.5,289.0 L396.5,289.0 L398.5,289.0 L400.5,289.0 L402.5,289.0 L404.5,289.0 L406.5,289.0 L408.5,289.0 L410.5,289.0 L412.5,289.0 L414.5,289.0 L416.5,289.0 L418.5,289.0 L420.5,289.0 L422.5,289.0 L424.5,289.0 L426.5,289.0 L428.5,289.0 L430.5,289.0 L432.5,289.1 L434.0,289.2 L434.0,300.1 L432.5,300.6 L430.5,301.0 L428.5,301.4 L426.5,301.8 L424.5,302.2 L422.5,302.6 L420.5,303.0 L418.5,303.4 L416.5,303.4 L414.5,303.4 L412.5,303.4 L410.5,303.4 L408.5,303.4 L406.5,303.4 L404.5,303.4 L402.5,303.4 L400.5,303.4 L398.5,303.4 L396.5,303.4 L394.5,303.4 L392.5,303.4 L390.5,303.4 L388.5,303.4 L386.5,303.4 L384.5,303.4 L382.5,303.4 L380.5,303.4 L378.5,303.4 L376.5,303.4 L374.5,303.4 L372.5,303.4 L370.5,303.4 L368.5,303.4 L366.5,303.5 L364.5,303.6 L362.5,303.7 L360.5,303.8 L358.5,303.9 L356.5,304.0 L354.5,304.1 L352.5,304.3 L350.5,304.6 L348.5,304.9 L346.5,305.2 L344.5,305.5 L342.5,305.8 L340.5,306.1 L338.5,306.5 L336.5,307.1 L334.5,307.6 L332.5,308.2 L330.5,308.9 L328.5,309.7 L326.5,310.6 L324.5,311.4 L322.5,312.7 L320.5,314.1 L318.5,315.5 L316.5,317.0 L314.5,318.6 L312.5,320.1 L310.5,321.7 L308.5,323.0 L306.5,324.1 L304.5,325.2 L302.5,326.3Z" fill="#d4d4d4"/><path d="M310.0,322.4 L312.0,320.8 L314.0,319.3 L316.0,317.7 L318.0,316.2 L320.0,314.8 L322.0,313.4 L324.0,311.9 L326.0,311.1 L328.0,310.2 L330.0,309.4 L332.0,308.7 L334.0,308.1 L336.0,307.5 L338.0,306.9 L340.0,306.5 L342.0,306.2 L344.0,305.9 L346.0,305.6 L348.0,305.3 L350.0,305.0 L352.0,304.7 L354.0,304.5 L356.0,304.4 L358.0,304.2 L360.0,304.1 L362.0,304.0 L364.0,303.9 L366.0,303.8 L368.0,303.7 L370.0,303.7 L372.0,303.7 L374.0,303.7 L376.0,303.7 L378.0,303.7 L380.0,303.7 L382.0,303.7 L384.0,303.7 L386.0,303.7 L388.0,303.7 L390.0,303.7 L392.0,303.7 L394.0,303.7 L396.0,303.7 L398.0,303.7 L400.0,303.7 L402.0,303.7 L404.0,303.7 L406.0,303.7 L408.0,303.7 L410.0,303.7 L412.0,303.7 L414.0,303.7 L416.0,303.7 L418.0,303.7 L420.0,303.4 L422.0,303.0 L424.0,302.6 L424.0,304.2 L422.0,304.8 L420.0,305.3 L418.0,305.9 L416.0,306.5 L414.0,307.1 L412.0,307.8 L410.0,308.4 L408.0,308.7 L406.0,309.0 L404.0,309.3 L402.0,309.6 L400.0,309.9 L398.0,310.2 L396.0,310.5 L394.0,310.7 L392.0,310.9 L390.0,311.1 L388.0,311.3 L386.0,311.5 L384.0,311.8 L382.0,312.0 L380.0,312.3 L378.0,312.5 L376.0,312.8 L374.0,313.1 L372.0,313.4 L370.0,313.6 L368.0,313.9 L366.0,314.1 L364.0,314.3 L362.0,314.5 L360.0,314.7 L358.0,314.9 L356.0,315.1 L354.0,315.3 L352.0,315.7 L350.0,316.1 L348.0,316.4 L346.0,316.8 L344.0,317.2 L342.0,317.6 L340.0,318.0 L338.0,318.3 L336.0,318.5 L334.0,318.8 L332.0,319.0 L330.0,319.2 L328.0,319.5 L326.0,319.7 L324.0,319.9 L322.0,320.3 L320.0,320.7 L318.0,321.0 L316.0,321.4 L314.0,321.9 L312.0,322.3 L310.0,322.8Z" fill="#7ccbd1"/><path d="M320.0,279.5 L322.0,278.8 L324.0,278.2 L326.0,277.7 L328.0,277.3 L330.0,276.9 L332.0,276.6 L334.0,276.5 L336.0,276.3 L338.0,276.2 L340.0,276.1 L342.0,276.2 L344.0,276.2 L346.0,276.2 L348.0,276.3 L350.0,276.4 L352.0,276.4 L354.0,276.5 L356.0,276.5 L358.0,276.6 L360.0,276.6 L362.0,276.8 L364.0,277.1 L366.0,277.3 L368.0,277.5 L370.0,277.8 L372.0,278.0 L374.0,278.2 L376.0,278.4 L378.0,278.7 L380.0,278.9 L382.0,279.2 L384.0,279.4 L386.0,279.7 L388.0,279.9 L390.0,280.2 L392.0,280.5 L394.0,280.7 L396.0,281.0 L398.0,281.3 L400.0,281.6 L402.0,282.0 L404.0,282.4 L406.0,282.7 L408.0,283.1 L410.0,283.4 L412.0,283.7 L414.0,284.0 L416.0,284.3 L418.0,284.5 L420.0,284.8 L422.0,285.1 L424.0,285.3 L426.0,285.6 L428.0,285.9 L430.0,286.2 L432.0,286.5 L434.0,286.8 L436.0,287.1 L438.0,287.3 L440.0,287.6 L442.0,287.8 L444.0,288.1 L444.0,289.0 L442.0,289.0 L440.0,289.0 L438.0,289.0 L436.0,289.0 L434.0,288.9 L432.0,288.8 L430.0,288.7 L428.0,288.7 L426.0,288.7 L424.0,288.7 L422.0,288.7 L420.0,288.7 L418.0,288.7 L416.0,288.7 L414.0,288.7 L412.0,288.7 L410.0,288.7 L408.0,288.7 L406.0,288.7 L404.0,288.7 L402.0,288.7 L400.0,288.7 L398.0,288.7 L396.0,288.7 L394.0,288.7 L392.0,288.7 L390.0,288.7 L388.0,288.7 L386.0,288.7 L384.0,288.7 L382.0,288.7 L380.0,288.7 L378.0,288.7 L376.0,288.7 L374.0,288.7 L372.0,288.7 L370.0,288.7 L368.0,288.7 L366.0,288.7 L364.0,288.7 L362.0,288.7 L360.0,288.7 L358.0,288.7 L356.0,288.7 L354.0,288.7 L352.0,288.5 L350.0,288.3 L348.0,288.0 L346.0,287.8 L344.0,287.5 L342.0,287.3 L340.0,287.0 L338.0,286.6 L336.0,285.9 L334.0,285.2 L332.0,284.5 L330.0,283.3 L328.0,281.9 L326.0,280.5 L324.0,279.2 L322.0,279.0 L320.0,278.8Z" fill="#c92c8f"/><path d="M302.2 322.5h0M302.6 333.8h0M302.4 332.7h0M300.7 307.1h0M303.0 317.3h0M302.9 287.3h0M301.8 294.8h0M302.0 313.1h0M300.6 293.1h0M301.3 332.3h0M302.5 289.9h0M302.6 288.8h0M302.1 288.1h0M300.6 329.8h0M301.1 293.1h0M303.1 329.9h0M301.3 334.8h0M301.9 319.0h0M301.1 333.7h0M302.3 335.1h0M302.8 297.7h0M301.5 290.3h0M301.0 284.6h0M301.4 314.8h0M300.6 319.0h0M301.4 298.4h0M302.6 307.9h0M301.4 307.9h0M302.4 284.2h0M303.0 282.3h0M302.5 328.3h0M300.6 325.1h0M301.5 313.4h0M300.6 283.6h0M301.1 334.5h0M301.1 323.3h0M302.9 333.8h0M301.5 300.9h0M301.9 324.4h0M300.9 322.9h0M302.6 329.1h0M300.7 334.0h0M300.8 300.1h0M302.1 332.4h0M301.4 332.8h0M302.0 298.5h0M301.4 290.9h0M300.8 289.3h0M302.3 336.8h0M301.0 283.7h0M303.1 310.9h0M301.6 294.3h0M302.1 327.3h0M301.7 304.6h0M300.7 332.3h0M300.7 308.6h0M302.7 288.3h0M302.4 334.2h0M302.2 325.1h0M300.9 305.3h0M301.0 328.3h0M301.3 306.4h0M303.1 328.7h0M303.0 306.4h0M301.8 321.9h0M301.8 297.3h0M301.6 289.2h0M301.5 336.3h0M303.0 316.1h0M301.8 300.0h0M300.8 296.2h0M302.6 329.6h0M301.5 325.0h0M302.5 319.9h0M302.3 323.5h0M301.5 320.5h0M301.3 308.2h0M302.5 319.7h0M301.3 334.0h0M302.2 313.5h0M434.5 293.8h0M444.0 292.1h0M452.5 290.1h0M459.9 290.3h0M447.9 292.5h0M463.5 289.9h0M448.0 289.7h0M468.8 291.9h0M473.0 288.1h0M454.7 294.1h0M440.6 289.8h0M471.5 294.8h0M461.7 291.4h0M463.2 299.1h0M465.2 293.4h0M460.6 295.6h0M458.9 290.7h0M459.5 291.4h0M435.1 299.3h0M451.6 292.4h0M442.8 291.9h0M459.2 300.9h0M452.9 298.3h0M436.2 299.6h0M446.7 299.0h0M441.7 301.0h0M452.6 296.2h0M458.5 293.2h0M443.5 288.9h0M434.0 295.8h0M445.1 295.8h0M438.6 289.9h0M449.0 301.0h0M458.5 300.2h0M455.8 296.7h0M457.2 288.1h0M466.7 295.6h0M466.5 292.5h0M448.8 299.5h0M457.8 293.6h0M472.3 287.9h0M458.3 296.6h0M469.7 301.5h0M438.3 293.6h0M458.6 299.5h0M459.2 289.0h0M449.0 295.5h0M443.1 297.4h0M472.9 296.2h0M472.4 288.7h0M457.8 297.9h0M473.2 294.6h0M450.6 297.0h0M473.4 294.6h0M445.5 294.8h0M438.9 292.8h0M451.7 297.4h0M465.3 289.9h0M434.5 294.0h0M445.0 288.4h0M465.3 298.1h0M444.7 299.3h0M473.6 297.4h0M458.3 294.9h0M459.8 293.0h0M463.7 299.8h0M464.4 297.3h0M455.3 296.8h0M445.9 294.1h0M452.6 296.4h0M463.8 293.2h0M435.5 298.0h0M452.2 288.7h0M469.5 293.9h0M434.6 290.6h0M451.1 293.4h0M462.3 292.6h0M453.3 288.7h0M449.4 296.0h0M468.1 298.7h0M445.9 289.9h0M436.6 289.8h0M461.8 295.4h0M445.5 290.6h0M470.4 299.5h0M453.1 293.8h0M453.9 296.9h0M440.1 293.3h0M466.5 300.5h0M443.2 290.0h0M465.7 292.2h0M435.0 291.4h0M473.1 287.5h0M462.0 300.8h0M467.7 298.4h0M459.8 288.2h0M462.5 299.6h0M445.7 288.6h0M440.0 293.0h0M450.6 299.2h0M458.9 300.9h0M438.3 296.2h0M436.9 300.7h0M457.0 291.1h0M469.1 299.6h0M451.3 297.1h0M458.0 294.6h0M471.5 296.3h0M436.2 291.7h0M440.0 292.7h0M454.2 288.8h0M456.2 292.8h0M444.5 293.8h0M444.2 291.0h0M454.7 299.6h0M443.4 296.3h0M463.5 299.0h0M462.5 292.3h0M437.4 292.1h0M437.6 299.8h0M315.1 278.2h0M321.3 279.5h0M309.1 274.4h0M302.6 280.2h0M303.2 280.7h0M322.9 279.2h0M306.9 277.4h0M323.4 279.3h0M320.1 280.0h0M315.7 278.5h0M307.2 276.7h0M315.5 278.3h0M310.5 275.8h0M320.3 279.0h0M319.7 279.4h0M320.7 279.3h0M315.0 277.5h0M318.3 279.3h0M304.1 279.9h0M306.5 277.8h0M321.6 279.5h0M318.7 280.2h0M312.3 275.3h0M315.6 278.2h0M312.2 276.8h0M305.4 278.4h0M310.2 275.2h0M321.4 280.1h0M307.6 276.5h0M305.6 278.0h0M307.2 276.4h0M302.7 279.7h0M310.1 274.0h0M317.1 278.7h0M312.4 275.2h0M304.6 278.1h0M308.4 275.1h0M318.0 279.8h0M306.4 277.9h0M307.1 277.3h0" stroke="#d4d4d4" stroke-width="2.5" stroke-linecap="round" fill="none"/><path d="M355.1 337.8h0M350.9 318.8h0M362.8 316.8h0M393.2 321.0h0M327.8 321.6h0M386.3 329.6h0M383.3 316.2h0M421.2 305.6h0M316.0 338.5h0M356.2 315.8h0M372.1 335.0h0M368.7 317.1h0M319.8 321.4h0M412.4 312.0h0M416.6 307.0h0M337.0 319.1h0M354.7 316.0h0M338.4 322.8h0M344.2 317.8h0M313.3 348.5h0M329.6 326.4h0M355.3 322.3h0M318.7 324.1h0M321.4 328.8h0M414.9 312.9h0M407.5 310.1h0M311.0 331.2h0M365.0 322.1h0M352.3 325.3h0M392.4 327.1h0M344.4 322.5h0M404.0 310.8h0M322.3 323.4h0M319.1 337.4h0M403.2 311.7h0M323.9 320.7h0M337.2 319.2h0M358.3 323.1h0M337.2 319.1h0M389.6 311.8h0M332.0 321.6h0M352.0 316.5h0M357.4 317.9h0M395.5 316.8h0M412.1 315.1h0M396.4 317.0h0M359.9 330.5h0M384.4 330.6h0M392.7 320.7h0M339.8 334.4h0M353.0 316.5h0M316.6 322.7h0M339.2 329.7h0M341.8 318.3h0M396.8 316.6h0M312.2 323.0h0M324.0 323.9h0M407.9 324.0h0M379.4 314.0h0M358.3 318.5h0M347.0 317.2h0M376.2 327.8h0M392.6 311.6h0M370.0 314.9h0M390.6 315.5h0M416.9 316.3h0M322.6 323.4h0M414.2 310.9h0M358.9 319.9h0M397.3 326.6h0M370.2 334.6h0M377.5 313.4h0M402.6 313.1h0M315.0 348.3h0M312.8 331.9h0M364.4 332.2h0M354.2 317.0h0M340.9 319.4h0M373.7 316.4h0M395.4 312.2h0M349.5 318.2h0M422.0 315.3h0M406.7 315.8h0M355.1 316.3h0M404.6 313.9h0M313.3 323.4h0M320.4 334.9h0M412.5 308.8h0M400.7 312.3h0M387.5 326.6h0M380.7 325.9h0M352.3 316.2h0M367.9 322.1h0M330.2 323.6h0M345.5 317.5h0M344.9 321.1h0M363.8 326.0h0M354.9 338.2h0M402.8 324.7h0M388.7 320.6h0M370.7 328.0h0M350.7 324.7h0M387.1 317.4h0M341.7 318.4h0M319.0 324.8h0M375.7 325.6h0M391.2 313.4h0M415.9 308.3h0M391.3 311.7h0M395.6 319.3h0M419.0 317.9h0M388.1 325.7h0M393.9 318.2h0M333.0 326.1h0M412.1 309.3h0M421.1 309.8h0M354.2 315.9h0M353.9 316.7h0M384.1 328.6h0M413.7 313.7h0M353.5 316.3h0M388.2 317.9h0M391.3 314.3h0M411.0 309.4h0M344.1 319.5h0M380.5 329.4h0M328.3 330.2h0M397.1 311.9h0M316.2 330.7h0M404.5 322.8h0M392.7 314.7h0M357.9 321.9h0M413.0 309.5h0M341.3 327.1h0M420.2 306.4h0M312.5 323.2h0M373.7 321.5h0M330.1 320.7h0M377.4 322.0h0M388.4 322.3h0M316.1 328.4h0M405.0 325.1h0M345.6 334.6h0M383.2 329.8h0M335.3 331.1h0M405.7 313.4h0M320.6 322.2h0M327.0 320.4h0M326.5 330.0h0M321.1 336.4h0M393.7 323.7h0M401.4 319.1h0M415.3 321.3h0M380.9 331.9h0M320.9 321.4h0M316.4 323.1h0M352.1 321.2h0M387.3 322.9h0M318.6 325.9h0M371.5 317.1h0M322.5 330.2h0M352.1 327.2h0M366.0 335.2h0M417.7 306.7h0M396.4 320.4h0M343.0 318.3h0M364.1 317.7h0M393.8 327.0h0M352.9 318.1h0M366.4 325.4h0M399.7 316.4h0M343.0 320.7h0M406.5 314.0h0M314.8 327.1h0M336.4 329.9h0M317.4 323.7h0M320.0 327.3h0M422.2 309.4h0M353.4 336.3h0M319.6 324.7h0M402.2 310.2h0M397.1 313.3h0M310.9 324.9h0M361.7 318.4h0M368.4 314.5h0M334.1 342.7h0M359.9 320.4h0M318.8 323.6h0M418.8 313.2h0M367.4 314.6h0M354.2 330.0h0M359.0 323.4h0M412.8 314.6h0M382.1 312.6h0M311.7 339.3h0M356.5 333.3h0M404.0 324.1h0M352.5 339.4h0M396.0 325.5h0M326.0 336.1h0M357.5 337.2h0M423.3 305.6h0M357.5 317.3h0M363.0 316.8h0M385.6 312.5h0M328.5 325.3h0M317.5 325.6h0M412.2 320.6h0M331.6 319.6h0M404.3 325.4h0M377.9 313.5h0M336.2 339.7h0M416.8 306.9h0M330.3 324.4h0M339.7 332.2h0M351.9 330.3h0M326.5 327.2h0M421.1 312.6h0M319.4 321.7h0M383.0 315.3h0M351.4 321.7h0M375.9 333.1h0M336.7 326.9h0M339.3 325.8h0M393.1 311.7h0M364.3 326.0h0M309.9 339.8h0M357.2 321.4h0M379.2 326.0h0M315.4 329.0h0M313.4 326.7h0M348.8 316.9h0M343.2 322.8h0M384.3 329.5h0M351.6 322.9h0M391.0 328.4h0M418.2 320.8h0M343.7 318.5h0M416.2 307.2h0M360.6 327.5h0M369.8 317.5h0M415.3 308.7h0M372.4 328.7h0M324.9 323.6h0M365.8 321.8h0M332.8 324.6h0M315.9 322.3h0M348.3 317.5h0M420.3 306.8h0M340.7 333.1h0M394.2 312.6h0M404.4 316.5h0M353.7 325.2h0M337.3 320.7h0M409.8 312.1h0M412.2 308.8h0M324.8 320.5h0M394.1 317.1h0M310.1 323.4h0M403.8 314.1h0M409.2 309.1h0M376.7 313.6h0M391.9 318.6h0M379.4 314.0h0M418.1 306.6h0M316.4 334.6h0M319.7 321.4h0M361.9 324.6h0M411.6 316.7h0M317.0 333.0h0M406.0 309.9h0M395.8 312.3h0M343.3 317.9h0M396.2 315.9h0M412.7 311.5h0M326.9 321.4h0M339.3 340.2h0M332.6 319.7h0M349.6 316.9h0M357.9 324.4h0M383.8 313.0h0M325.0 326.7h0M388.0 315.8h0M374.9 331.2h0M325.7 322.2h0M365.8 321.1h0M412.5 313.0h0M385.2 315.7h0M399.2 322.9h0M342.8 318.3h0M338.8 321.9h0M411.3 309.7h0M381.4 321.1h0M419.0 306.4h0M397.5 312.9h0M320.8 331.7h0M406.1 315.2h0M314.7 348.1h0M353.2 325.5h0M392.3 312.8h0M356.0 318.2h0M320.0 321.4h0M391.4 314.8h0M409.0 309.2h0M343.7 318.6h0M417.5 315.9h0M412.1 312.4h0M321.0 325.7h0M335.0 319.3h0M374.0 315.5h0M321.4 328.0h0M416.3 320.5h0M362.6 315.3h0M397.4 311.2h0M370.8 314.3h0M422.5 309.3h0M359.3 317.1h0M372.4 334.3h0M358.2 316.5h0M368.2 332.9h0M352.9 325.5h0M414.7 309.2h0M402.3 315.0h0M325.0 320.5h0M417.0 310.1h0M360.0 334.4h0M375.0 318.8h0M341.7 331.4h0M338.5 324.2h0M396.2 317.7h0M324.4 321.5h0M388.9 322.2h0M320.8 347.6h0M324.3 321.2h0M319.3 326.7h0M380.3 328.0h0M327.8 332.6h0M321.1 330.0h0M338.0 322.0h0M315.0 336.4h0M323.1 336.1h0M347.7 325.3h0M382.5 317.4h0M409.5 322.7h0M341.4 321.0h0M409.8 309.3h0M357.3 319.5h0M421.3 305.8h0M384.3 323.8h0M392.8 311.4h0M417.5 308.1h0M407.1 316.6h0M357.4 331.7h0M386.7 314.4h0M393.2 316.2h0M390.8 318.9h0M400.5 310.9h0M365.9 314.7h0M399.9 320.9h0M405.3 309.8h0M370.6 319.1h0M322.7 321.8h0M421.1 316.0h0M336.4 335.8h0M383.9 315.4h0M383.1 313.5h0M340.5 318.5h0M384.5 319.1h0M394.5 315.9h0M359.0 317.6h0M393.6 313.9h0M377.6 325.2h0M360.1 326.0h0M316.1 323.9h0M405.7 310.0h0M315.5 322.1h0M397.1 311.2h0M361.7 319.5h0M401.3 314.3h0M369.0 314.4h0M400.5 320.7h0M380.7 327.1h0M379.6 323.5h0M406.9 315.8h0M311.3 344.6h0M422.8 305.7h0M316.6 325.0h0M320.5 324.8h0M319.3 322.7h0M309.4 328.6h0M343.5 330.5h0M353.7 316.6h0M418.6 318.0h0M388.3 312.8h0M355.3 320.5h0M356.0 315.7h0M361.4 328.5h0M388.7 326.3h0M387.5 323.4h0M409.1 322.7h0M400.2 313.5h0M384.9 320.9h0M410.5 316.9h0M360.0 316.1h0M346.7 318.8h0M387.4 323.6h0M331.1 326.8h0M405.6 311.9h0M319.9 331.1h0M350.7 317.0h0M342.1 318.2h0M326.1 325.0h0M321.1 321.1h0M372.2 333.7h0M404.9 311.6h0M415.3 307.4h0M326.3 320.3h0M315.7 331.9h0M396.1 315.2h0M401.4 313.8h0M414.7 313.2h0M370.7 314.8h0M358.0 320.0h0M403.6 310.9h0M342.9 333.9h0M317.2 329.6h0M334.3 330.2h0M377.4 313.4h0M393.0 314.5h0M345.9 334.7h0M398.6 312.5h0M386.9 312.3h0M368.7 314.6h0M382.7 329.6h0M382.2 312.6h0M368.0 319.3h0M360.0 315.8h0M341.0 323.2h0M317.2 334.1h0M337.0 321.1h0M319.4 323.8h0M416.1 308.4h0M320.0 324.4h0M417.7 306.7h0M348.4 318.0h0M387.4 316.2h0M320.3 341.1h0M346.7 328.4h0M361.1 332.4h0M315.7 323.5h0M341.8 319.9h0M403.5 314.3h0M348.9 322.9h0M406.3 314.9h0M360.9 325.0h0M379.7 316.3h0M358.0 315.9h0M359.5 332.9h0M344.2 320.9h0M378.4 320.3h0M329.2 325.0h0M393.4 311.4h0M321.5 336.1h0M413.1 308.1h0M318.4 332.1h0M341.7 328.5h0M312.9 328.4h0M327.6 322.9h0M388.8 316.9h0M407.1 321.1h0M380.2 327.6h0M329.4 325.6h0M345.7 326.7h0M321.8 341.7h0M351.6 330.7h0M417.4 319.8h0M353.9 333.0h0M423.7 305.1h0M395.0 320.9h0M361.6 316.9h0M328.9 324.2h0M416.2 309.5h0M338.4 328.1h0M359.3 324.0h0M361.3 317.0h0M313.1 341.0h0M384.8 313.5h0M366.4 322.1h0M366.9 332.5h0M398.5 312.4h0M348.0 325.8h0M327.7 342.4h0M314.2 329.2h0M340.4 325.1h0M314.2 323.8h0M422.7 313.8h0M334.4 324.4h0M312.7 323.2h0M331.1 344.0h0M344.9 319.1h0M316.5 322.2h0M423.5 312.5h0M414.8 318.1h0M399.0 311.8h0M328.4 321.9h0M316.5 322.7h0M391.8 316.1h0M310.2 325.9h0M406.7 321.4h0M392.9 321.4h0M413.9 312.6h0M353.1 323.7h0M341.5 318.3h0M338.9 323.8h0M322.8 320.9h0M337.4 322.2h0M419.1 309.7h0M405.2 319.0h0M377.1 315.4h0M354.2 318.3h0M381.9 327.5h0M399.9 312.1h0M326.2 320.3h0M376.2 314.5h0M309.6 326.0h0M335.3 320.2h0M385.4 319.0h0M341.4 331.0h0M332.7 340.6h0M322.7 330.0h0M390.1 322.1h0M365.0 331.7h0M381.4 322.5h0M318.1 322.5h0M362.6 321.7h0M319.9 336.0h0M348.9 322.2h0M369.0 329.7h0M343.7 325.3h0M378.6 322.0h0M344.9 319.5h0M363.1 323.1h0M383.1 312.8h0M360.3 322.4h0M331.4 319.9h0M415.8 307.2h0M366.3 316.6h0M312.6 324.8h0M327.6 324.2h0M413.6 308.0h0M349.4 328.1h0M380.9 312.7h0M335.3 321.1h0M411.9 311.5h0M338.6 324.4h0M364.8 315.3h0M385.7 322.5h0M363.9 321.4h0M397.6 327.2h0M379.5 313.0h0M367.1 324.2h0M347.1 328.2h0M351.3 325.3h0M379.6 322.2h0M415.4 314.9h0M390.6 321.2h0M335.5 328.4h0M380.3 312.9h0M395.7 312.1h0M365.6 320.8h0M392.1 322.6h0M362.8 334.8h0M359.9 322.6h0M423.0 306.5h0M391.1 329.0h0M318.7 337.7h0M384.0 318.2h0M399.8 323.5h0M325.9 326.4h0M379.8 323.0h0M419.2 315.5h0M404.3 310.0h0M358.0 334.6h0M417.8 315.0h0M347.4 331.1h0M370.1 323.9h0M382.3 327.8h0M391.1 329.6h0M365.8 320.1h0M384.6 318.6h0M314.6 347.4h0M345.7 323.4h0M313.9 323.5h0M415.8 308.3h0M343.3 333.6h0M336.8 329.9h0M374.4 330.7h0M363.8 317.3h0M338.8 322.0h0M309.0 323.9h0M326.1 322.8h0M397.4 326.8h0M349.7 318.2h0M342.7 327.5h0M364.1 315.2h0M369.2 315.9h0M325.6 336.4h0M321.1 326.2h0M397.1 316.3h0M409.5 310.7h0M417.8 306.6h0M411.9 311.2h0M309.4 325.4h0M422.7 312.3h0M393.8 323.5h0M309.7 326.1h0M362.6 333.6h0M413.4 308.3h0M422.5 309.5h0M344.0 318.0h0M430.8 307.9h0M427.9 306.4h0M434.8 307.9h0M425.9 306.1h0M434.8 305.1h0M429.0 307.5h0M437.6 307.3h0M428.7 310.8h0M434.6 300.8h0M437.4 309.0h0M432.3 302.7h0M431.9 311.9h0M435.6 301.1h0M434.9 300.6h0M429.5 302.6h0M432.3 305.6h0M424.5 313.3h0M430.8 302.9h0M429.6 306.2h0M436.5 307.4h0M424.7 306.9h0M434.2 305.4h0M430.7 302.4h0M435.0 305.0h0M434.7 305.4h0M306.9 349.2h0M307.2 328.4h0M309.9 326.1h0M306.0 340.9h0M303.2 350.5h0M306.3 342.9h0M301.8 349.2h0M303.2 341.5h0M307.5 330.8h0M303.0 333.4h0M309.8 339.3h0M305.0 338.9h0M306.7 329.7h0M301.2 331.9h0M306.0 339.4h0M309.8 338.2h0M308.6 351.2h0M305.2 334.7h0M305.0 333.4h0M307.7 337.8h0M301.7 353.6h0M305.5 344.5h0M305.7 339.3h0M306.0 326.9h0M301.7 345.9h0M303.8 328.3h0M308.2 343.1h0M307.8 332.3h0M301.8 346.8h0M302.5 343.4h0M307.1 329.7h0M300.5 345.9h0M308.0 338.1h0M309.9 327.1h0M307.4 333.8h0M306.0 331.0h0M302.7 339.7h0M306.3 349.6h0M306.2 336.3h0M306.7 340.0h0M304.4 331.0h0M307.0 332.7h0M300.9 335.5h0M303.9 343.3h0M306.7 335.8h0M308.3 330.5h0M303.8 345.5h0M307.0 333.8h0M308.9 323.8h0M305.6 348.2h0M308.9 326.9h0M308.2 336.3h0M309.4 329.9h0M306.8 340.4h0M309.9 329.8h0M304.2 328.0h0M307.0 325.5h0M308.6 326.1h0M302.3 353.1h0M305.2 344.9h0M303.8 330.8h0M304.0 353.4h0M302.3 351.5h0M308.9 340.5h0M303.0 345.2h0M309.1 337.7h0M302.6 341.6h0M309.6 337.3h0M301.9 330.9h0M306.5 325.4h0M300.5 341.4h0M302.9 337.9h0M301.2 342.3h0M306.9 330.9h0M306.0 337.3h0M308.0 337.7h0M306.6 338.1h0M308.3 325.2h0M301.6 350.5h0M308.4 323.9h0M309.0 338.2h0M308.6 341.4h0M304.1 327.9h0M307.8 342.1h0M305.0 330.8h0M304.0 351.7h0M304.9 329.4h0M309.9 350.3h0M302.2 330.6h0M307.4 332.5h0M302.5 376.5h0M307.6 370.8h0M310.5 374.6h0M318.8 376.9h0M323.3 366.0h0M319.6 355.0h0M324.0 358.0h0M338.0 383.5h0M347.5 369.0h0M356.5 381.0h0M351.5 383.0h0M353.5 385.0h0M336.0 361.0h0M331.0 362.7h0M331.0 364.6h0M363.5 350.0h0M380.7 371.0h0M387.6 387.7h0M371.2 358.8h0M378.5 346.4h0M388.5 328.5h0M405.6 341.4h0M416.7 336.8h0M402.0 313.5h0M430.0 309.0h0M437.0 308.5h0M433.0 307.5h0M413.0 323.0h0M407.0 329.0h0" stroke="#7ccbd1" stroke-width="2.5" stroke-linecap="round" fill="none"/><path d="M371.4 270.3h0M343.2 270.3h0M333.6 275.6h0M381.4 276.9h0M430.2 285.6h0M433.3 286.0h0M353.0 275.8h0M349.3 252.3h0M355.7 261.7h0M441.7 285.7h0M330.8 274.1h0M328.4 276.2h0M351.9 275.7h0M400.2 278.6h0M345.7 275.2h0M324.9 277.3h0M366.4 276.7h0M378.2 277.7h0M413.1 283.0h0M424.9 276.7h0M435.1 286.3h0M435.1 285.7h0M428.8 284.6h0M380.7 278.0h0M411.0 282.3h0M428.7 282.5h0M365.1 276.6h0M342.6 273.7h0M356.8 271.1h0M305.7 277.1h0M430.0 279.0h0M401.4 275.9h0M389.4 260.9h0M415.6 282.3h0M374.4 260.0h0M382.2 274.3h0M348.1 268.4h0M373.4 259.5h0M445.0 284.0h0M438.1 286.8h0M315.2 278.5h0M420.8 282.3h0M340.9 275.5h0M340.0 275.4h0M325.1 266.6h0M332.0 275.9h0M391.8 279.8h0M421.7 281.4h0M427.9 282.1h0M407.3 282.0h0M364.2 275.2h0M359.9 257.8h0M366.0 265.0h0M393.3 280.0h0M334.5 270.9h0M415.5 283.4h0M340.0 274.1h0M369.3 275.4h0M434.5 284.8h0M343.9 274.6h0M376.1 277.8h0M359.9 276.0h0M396.9 269.1h0M430.8 284.2h0M358.9 271.7h0M382.8 278.6h0M380.7 275.9h0M332.6 273.7h0M422.1 281.6h0M351.1 275.4h0M393.2 277.0h0M346.7 273.1h0M361.9 270.4h0M428.0 284.9h0M380.3 274.7h0M398.4 280.5h0M339.6 255.5h0M325.4 269.1h0M341.4 272.5h0M368.2 276.6h0M329.7 254.1h0M310.4 279.4h0M408.4 281.8h0M332.3 264.2h0M442.4 287.3h0M404.0 280.7h0M444.7 286.8h0M430.3 283.4h0M323.4 275.5h0M403.8 281.6h0M317.3 253.4h0M434.3 284.4h0M313.9 270.6h0M443.4 285.5h0M405.1 280.6h0M393.5 265.7h0M374.9 277.7h0M325.3 255.0h0M404.3 268.7h0M325.7 277.2h0M400.6 279.8h0M369.8 276.8h0M411.9 276.3h0M406.6 281.0h0M373.7 276.2h0M370.2 276.4h0M370.7 257.6h0M417.2 283.8h0M398.9 271.4h0M353.3 258.6h0M436.7 286.6h0M392.5 278.9h0M370.3 273.5h0M425.3 282.6h0M429.4 285.4h0M416.6 283.0h0M330.5 263.1h0M385.8 278.8h0M430.1 284.7h0M399.4 264.5h0M350.8 271.8h0M381.5 278.0h0M379.8 259.9h0M402.6 281.2h0M400.7 277.2h0M356.6 268.6h0M357.6 264.4h0M359.3 262.5h0M346.6 275.5h0M351.1 275.7h0M427.5 276.8h0M363.3 276.1h0M428.5 280.3h0M339.2 274.8h0M374.6 277.6h0M334.5 274.2h0M321.7 278.2h0M389.7 279.0h0M433.2 280.0h0M398.8 280.5h0M411.4 282.5h0M426.8 284.4h0M401.9 274.3h0M403.4 274.7h0M352.9 275.7h0M356.6 254.5h0M310.2 278.9h0M348.3 273.6h0M426.9 285.1h0M319.6 279.0h0M352.6 266.4h0M368.4 270.9h0M376.8 277.0h0M362.1 276.2h0M438.3 284.6h0M318.7 279.1h0M414.6 281.7h0M409.8 276.5h0M325.4 262.9h0M333.2 275.8h0M409.6 274.7h0M347.4 274.3h0M407.8 282.0h0M367.3 254.7h0M323.2 255.9h0M429.2 277.7h0M339.3 275.3h0M366.3 276.6h0M434.5 285.1h0M422.9 283.3h0M374.8 259.1h0M322.5 277.7h0M424.9 282.9h0M414.5 270.0h0M413.1 280.1h0M410.2 280.6h0M335.7 274.9h0M434.5 285.3h0M309.5 273.0h0M444.1 286.6h0M373.9 275.6h0M393.3 275.8h0M373.4 261.7h0M429.2 281.7h0M406.6 276.4h0M332.6 273.0h0M342.3 275.3h0M438.0 286.7h0M419.1 277.2h0M361.7 276.2h0M329.8 269.5h0M404.3 281.1h0M388.9 279.4h0M397.1 272.2h0M414.6 281.0h0M385.3 279.0h0M342.3 273.9h0M315.1 279.5h0M439.0 285.2h0M383.7 272.3h0M426.6 282.8h0M364.8 275.2h0M440.9 283.0h0M326.3 263.0h0M395.0 279.5h0M402.2 281.1h0M409.4 280.1h0M386.9 279.2h0M431.5 279.5h0M411.6 282.7h0M406.2 282.1h0M381.5 277.7h0M371.0 276.7h0M314.9 277.3h0M338.2 275.5h0M351.4 275.7h0M308.1 257.0h0M312.7 261.3h0M363.8 276.4h0M365.1 273.6h0M312.8 275.4h0M306.0 278.9h0M404.5 272.2h0M329.9 274.6h0M437.6 286.5h0M321.5 278.0h0M426.2 284.7h0M398.2 266.5h0M392.0 279.7h0M372.3 276.7h0M372.1 272.3h0M441.6 285.7h0M376.2 266.7h0M376.0 277.7h0M398.8 280.5h0M334.7 274.3h0M372.9 277.5h0M355.5 254.3h0M376.4 276.8h0M369.0 269.4h0M375.4 276.4h0M386.3 278.7h0M400.6 279.9h0M403.8 281.0h0M394.4 280.0h0M372.9 274.9h0M307.1 279.5h0M369.4 267.1h0M418.6 276.7h0M417.9 272.7h0M332.4 275.9h0M324.4 264.6h0M331.5 275.2h0M324.4 258.0h0M334.3 275.5h0M388.2 272.8h0M310.4 274.6h0M379.2 274.7h0M377.2 267.4h0M420.2 276.9h0M351.3 275.8h0M370.9 277.3h0M394.1 278.1h0M409.5 274.1h0M407.6 277.3h0M351.6 266.4h0M394.5 280.0h0M426.7 284.2h0M379.3 278.1h0M421.4 283.2h0M408.9 273.6h0M377.7 273.9h0M369.9 276.8h0M416.9 273.8h0M309.9 279.5h0M370.8 277.2h0M366.4 275.8h0M338.7 263.7h0M386.4 264.1h0M332.2 274.6h0M391.4 271.3h0M364.9 276.4h0M359.0 271.6h0M440.4 285.7h0M423.2 278.7h0M365.0 273.6h0M421.7 280.3h0M361.0 275.9h0M407.4 282.0h0M342.1 275.2h0M401.1 276.7h0M436.2 285.3h0M372.7 262.5h0M324.4 272.2h0M443.2 287.2h0M326.3 277.0h0M308.8 269.9h0M362.7 263.3h0M422.0 284.5h0M347.9 275.2h0M353.0 274.8h0M323.6 279.0h0M351.9 275.8h0M362.5 275.3h0M376.6 279.4h0M386.4 279.5h0M443.1 286.5h0M333.5 276.9h0M336.8 276.1h0M432.9 286.4h0M356.0 277.0h0M387.3 278.7h0M358.1 275.3h0M431.9 286.1h0M436.8 285.7h0M391.3 280.4h0M331.8 275.9h0M366.4 275.8h0M408.0 281.3h0M390.8 278.7h0M355.0 276.1h0M369.6 278.3h0M327.7 277.7h0M370.4 278.2h0M423.1 284.8h0M368.4 277.9h0M378.3 277.6h0M341.0 275.1h0M409.1 283.9h0M372.1 276.7h0M368.2 277.3h0M416.7 284.0h0M357.1 274.6h0M329.7 276.6h0M400.3 282.0h0M412.3 284.3h0M326.6 276.8h0M363.1 277.6h0M430.7 284.3h0M383.6 280.0h0M370.9 277.8h0M336.3 276.7h0M356.0 275.7h0M393.4 280.3h0M434.4 287.2h0M402.8 280.7h0M441.1 286.2h0M370.9 278.0h0M328.6 277.7h0M362.6 275.5h0M365.8 276.8h0M327.1 276.9h0M330.2 275.7h0M433.9 287.2h0M431.9 285.2h0M336.6 276.5h0M330.3 276.0h0M442.6 286.3h0M340.8 276.9h0M357.7 274.9h0M348.2 274.5h0M346.1 274.2h0M323.9 277.2h0M377.7 276.6h0M417.0 282.8h0M328.9 277.9h0M381.4 277.7h0M336.5 276.4h0M418.5 283.1h0M433.0 284.6h0M429.4 284.0h0M386.7 278.0h0M337.7 277.0h0M409.7 282.6h0M328.7 275.8h0M416.9 282.4h0M357.5 276.4h0M431.5 285.3h0M355.6 274.9h0M412.5 283.0h0M381.9 279.2h0M349.9 275.3h0M381.4 278.7h0M373.8 276.7h0M339.5 275.7h0M388.3 278.0h0M386.5 280.4h0M407.5 283.7h0M362.5 276.5h0M396.8 280.4h0M344.8 275.3h0M385.3 279.7h0M350.0 276.0h0M418.2 284.6h0M343.9 275.4h0M356.4 275.6h0M328.7 277.2h0M357.4 275.0h0M387.7 278.8h0M348.5 274.9h0M335.1 274.9h0M431.7 286.9h0M358.8 275.4h0M347.0 276.4h0M369.9 275.8h0M425.2 286.2h0M413.3 283.2h0M432.8 286.8h0M388.2 278.2h0M361.8 276.5h0M382.7 279.6h0M327.3 276.2h0M405.3 280.8h0M424.9 284.5h0M434.4 287.1h0M423.8 285.5h0M400.9 279.9h0M420.5 283.7h0M356.4 277.2h0M390.3 279.0h0M331.5 233.5h0M339.7 237.6h0M305.7 257.0h0M308.0 256.0h0M313.5 255.0h0M319.0 252.0h0M321.3 258.0h0M328.3 250.9h0M338.0 250.5h0M348.0 251.0h0M349.5 257.1h0M355.8 261.4h0M357.5 267.6h0M368.5 261.4h0M378.5 268.5h0M387.6 269.2h0M405.5 268.8h0M418.2 276.0h0M461.0 286.7h0M434.0 282.0h0M441.0 285.5h0M437.0 286.0h0" stroke="#c92c8f" stroke-width="2.5" stroke-linecap="round" fill="none"/><text transform="translate(506.30 203.00) scale(1.15 1)" font-size="10.8" fill="#1a1a1a" stroke="#1a1a1a" stroke-width="0.35">f</text><rect x="527.0" y="213.5" width="57.3" height="18.4" fill="#f0304b"/><rect x="584.3" y="213.5" width="54.0" height="18.4" fill="#fb9a9b"/><rect x="638.3" y="213.5" width="10.2" height="18.4" fill="#2fb96b"/><rect x="648.5" y="213.5" width="5.5" height="18.4" fill="#addf8f"/><rect x="654.0" y="213.5" width="8.8" height="18.4" fill="#a9d3e8"/><text x="556.2" y="211.6" font-size="7.3" text-anchor="middle" fill="#262626">3’UTR</text><text x="610.3" y="211.6" font-size="7.3" text-anchor="middle" fill="#262626">Exon</text><text x="642.8" y="211.6" font-size="7.3" text-anchor="middle" fill="#262626">5’UTR</text><text x="656.4" y="211.6" font-size="7.3" fill="#262626">Intron</text><text x="666.4" y="225.4" font-size="7.3" fill="#262626">Other</text><line x1="643.0" y1="212.5" x2="643.0" y2="216.5" stroke="#333" stroke-width="0.6"/><line x1="655.5" y1="211.8" x2="651.5" y2="216.0" stroke="#333" stroke-width="0.6"/><line x1="663.0" y1="222.3" x2="666.0" y2="222.3" stroke="#333" stroke-width="0.6"/><line x1="527.0" y1="234.6" x2="662.8" y2="234.6" stroke="#888" stroke-width="0.8"/><line x1="527.0" y1="234.6" x2="527.0" y2="236.6" stroke="#888" stroke-width="0.7"/><text x="527.0" y="244.0" font-size="6.3" text-anchor="middle" fill="#444">0</text><line x1="561.3" y1="234.6" x2="561.3" y2="236.6" stroke="#888" stroke-width="0.7"/><text x="561.3" y="244.0" font-size="6.3" text-anchor="middle" fill="#444">25</text><line x1="595.0" y1="234.6" x2="595.0" y2="236.6" stroke="#888" stroke-width="0.7"/><text x="595.0" y="244.0" font-size="6.3" text-anchor="middle" fill="#444">50</text><line x1="628.8" y1="234.6" x2="628.8" y2="236.6" stroke="#888" stroke-width="0.7"/><text x="628.8" y="244.0" font-size="6.3" text-anchor="middle" fill="#444">75</text><line x1="662.8" y1="234.6" x2="662.8" y2="236.6" stroke="#888" stroke-width="0.7"/><text x="662.8" y="244.0" font-size="6.3" text-anchor="middle" fill="#444">100</text><text x="523.5" y="236.6" font-size="6.2" text-anchor="end" fill="#444">% peaks</text><line x1="539.2" y1="260.8" x2="539.2" y2="332.4" stroke="#777" stroke-width="0.7"/><line x1="539.2" y1="324.1" x2="672.8" y2="324.1" stroke="#777" stroke-width="0.7"/><line x1="537.2" y1="317.2" x2="539.2" y2="317.2" stroke="#777" stroke-width="0.7"/><text x="536.4" y="319.4" font-size="6.3" text-anchor="end" fill="#444">0.5</text><line x1="537.2" y1="303.2" x2="539.2" y2="303.2" stroke="#777" stroke-width="0.7"/><text x="536.4" y="305.4" font-size="6.3" text-anchor="end" fill="#444">1.0</text><line x1="537.2" y1="289.2" x2="539.2" y2="289.2" stroke="#777" stroke-width="0.7"/><text x="536.4" y="291.4" font-size="6.3" text-anchor="end" fill="#444">1.5</text><line x1="537.2" y1="275.5" x2="539.2" y2="275.5" stroke="#777" stroke-width="0.7"/><text x="536.4" y="277.7" font-size="6.3" text-anchor="end" fill="#444">2.0</text><line x1="537.2" y1="261.6" x2="539.2" y2="261.6" stroke="#777" stroke-width="0.7"/><text x="536.4" y="263.8" font-size="6.3" text-anchor="end" fill="#444">2.5</text><line x1="571.6" y1="260.0" x2="571.6" y2="332.4" stroke="#777" stroke-width="0.7"/><line x1="638.5" y1="260.0" x2="638.5" y2="332.4" stroke="#777" stroke-width="0.7"/><line x1="672.8" y1="324.1" x2="672.8" y2="332.4" stroke="#777" stroke-width="0.7"/><text x="555.5" y="333.3" font-size="7.0" text-anchor="middle" fill="#262626">5’UTR</text><text x="606.3" y="333.3" font-size="7.0" text-anchor="middle" fill="#262626">Exon</text><text x="656.2" y="333.3" font-size="7.0" text-anchor="middle" fill="#262626">3’UTR</text><text x="521.8" y="294.0" font-size="7.3" text-anchor="middle" transform="rotate(-90 521.8 294.0)" fill="#262626">Peak Frequency (%)</text><path d="M539.4,322.6 L540.1,322.8 L540.8,322.7 L541.5,322.8 L542.2,322.8 L542.9,322.4 L543.6,322.4 L544.3,322.8 L545.0,322.5 L545.7,322.6 L546.4,323.1 L547.1,322.9 L547.8,323.2 L548.5,323.1 L549.2,323.4 L549.9,323.2 L550.6,323.4 L551.3,323.5 L552.0,323.3 L552.7,323.3 L553.4,323.2 L554.1,322.8 L554.8,323.2 L555.5,323.1 L556.2,323.1 L556.9,323.0 L557.6,323.6 L558.3,323.5 L559.0,323.8 L559.7,324.0 L560.4,323.9 L561.1,324.0 L561.8,323.7 L562.5,323.9 L563.2,323.6 L563.9,323.9 L564.6,323.8 L565.3,323.4 L566.0,323.7 L566.7,323.9 L567.4,324.6 L568.1,324.4 L568.8,324.7 L569.5,324.7 L570.2,325.1 L570.9,325.3 L571.6,325.2 L572.3,322.8 L573.0,322.4 L573.7,322.5 L574.4,322.4 L575.1,322.4 L575.8,322.3 L576.5,322.4 L577.2,322.1 L577.9,321.8 L578.6,322.1 L579.3,322.1 L580.0,322.0 L580.7,321.8 L581.4,321.8 L582.1,321.4 L582.8,321.7 L583.5,321.4 L584.2,321.2 L584.9,321.0 L585.6,321.3 L586.3,321.3 L587.0,320.7 L587.7,321.1 L588.4,320.7 L589.1,320.5 L589.8,320.5 L590.5,320.7 L591.2,320.6 L591.9,320.0 L592.6,320.2 L593.3,319.7 L594.0,320.0 L594.7,319.7 L595.4,319.9 L596.1,319.8 L596.8,319.4 L597.5,319.5 L598.2,319.0 L598.9,318.7 L599.6,318.9 L600.3,318.4 L601.0,318.3 L601.7,318.2 L602.4,318.1 L603.1,317.6 L603.8,317.3 L604.5,317.6 L605.2,317.1 L605.9,317.4 L606.6,317.2 L607.3,316.7 L608.0,316.6 L608.7,316.5 L609.4,316.4 L610.1,316.2 L610.8,315.9 L611.5,315.7 L612.2,315.6 L612.9,315.1 L613.6,314.8 L614.3,314.7 L615.0,314.1 L615.7,313.8 L616.4,313.8 L617.1,313.1 L617.8,312.7 L618.5,312.0 L619.2,311.9 L619.9,311.6 L620.6,310.8 L621.3,310.8 L622.0,310.2 L622.7,309.2 L623.4,308.9 L624.1,308.2 L624.8,307.5 L625.5,306.6 L626.2,306.1 L626.9,305.1 L627.6,303.5 L628.3,302.4 L629.0,301.6 L629.7,300.2 L630.4,298.2 L630.7,297.8 L630.9,297.3 L631.2,296.4 L631.4,295.5 L631.7,294.6 L631.9,293.8 L632.2,293.1 L632.4,292.0 L632.7,291.1 L632.9,290.4 L633.2,289.0 L633.4,288.3 L633.7,287.5 L633.9,286.3 L634.2,285.2 L634.4,284.6 L634.7,283.2 L634.9,282.2 L635.2,281.4 L635.4,280.5 L635.7,279.0 L635.9,277.7 L636.2,276.4 L636.4,275.4 L636.7,273.8 L636.9,272.5 L637.2,270.4 L637.4,268.7 L637.7,267.1 L637.9,265.7 L638.2,264.2 L638.4,262.8 L638.7,265.3 L638.9,268.0 L639.2,278.4 L639.4,288.4 L639.7,296.6 L639.9,300.1 L640.2,303.1 L640.4,305.7 L640.7,306.8 L640.9,308.2 L641.2,309.2 L641.4,310.0 L641.7,310.8 L641.9,311.8 L642.2,312.1 L642.9,313.4 L643.6,314.1 L644.3,314.8 L645.0,315.4 L645.7,316.1 L646.4,315.9 L647.1,316.2 L647.8,317.1 L648.5,317.4 L649.2,317.8 L649.9,317.7 L650.6,318.1 L651.3,318.3 L652.0,318.0 L652.7,318.4 L653.4,318.6 L654.1,318.7 L654.8,318.8 L655.5,318.8 L656.2,319.0 L656.9,319.1 L657.6,319.2 L658.3,319.6 L659.0,319.6 L659.7,320.1 L660.4,319.8 L661.1,320.5 L661.8,320.5 L662.5,320.8 L663.2,320.9 L663.9,321.0 L664.6,321.0 L665.3,320.8 L666.0,321.3 L666.7,321.1 L667.4,321.3 L668.1,321.7 L668.8,321.8 L669.5,321.8 L670.2,322.3 L670.9,322.2 L671.6,322.2" fill="none" stroke="#ea1530" stroke-width="2.3" stroke-linejoin="round"/><line x1="522.4" y1="354.4" x2="522.4" y2="377.3" stroke="#444" stroke-width="0.7"/><line x1="522.4" y1="377.3" x2="680.8" y2="377.3" stroke="#444" stroke-width="0.8"/><text x="524.4" y="358.6" font-size="5.8" fill="#222">1723</text><path d="M538.0,377.3V376.0M538.5,377.3V375.0M539.0,377.3V375.1M539.5,377.3V375.8M540.0,377.3V375.4M540.5,377.3V375.5M541.0,377.3V370.4M541.5,377.3V370.5M542.0,377.3V374.2M542.5,377.3V374.0M543.0,377.3V370.8M543.5,377.3V371.2M544.0,377.3V371.4M544.5,377.3V372.9M545.0,377.3V371.6M545.5,377.3V371.6M546.0,377.3V371.7M546.5,377.3V373.6M547.0,377.3V367.4M547.5,377.3V365.6M548.0,377.3V370.6M548.5,377.3V365.7M549.0,377.3V361.5M549.5,377.3V361.7M550.0,377.3V366.1M550.5,377.3V366.6M551.0,377.3V369.5M551.5,377.3V370.5M552.0,377.3V368.5M552.5,377.3V366.4M553.0,377.3V370.7M553.5,377.3V370.3M554.0,377.3V367.9M554.5,377.3V367.4M555.0,377.3V367.6M555.5,377.3V369.4M556.0,377.3V369.4M556.5,377.3V369.5M557.0,377.3V368.7M557.5,377.3V371.6M558.0,377.3V368.9M558.5,377.3V368.6M559.0,377.3V368.5M559.5,377.3V369.6M560.0,377.3V371.9M560.5,377.3V371.6M561.0,377.3V368.5M561.5,377.3V372.7M562.0,377.3V369.7M562.5,377.3V373.4M563.0,377.3V373.6M599.4,377.3V372.3M599.9,377.3V370.7M600.4,377.3V371.6M600.9,377.3V370.4M601.4,377.3V370.3M601.9,377.3V373.5M602.4,377.3V374.1M602.9,377.3V369.4M603.4,377.3V372.2M603.9,377.3V372.3M606.8,377.3V372.9M607.3,377.3V373.7M607.8,377.3V372.1M608.3,377.3V373.4M608.8,377.3V373.9M609.3,377.3V372.1M609.8,377.3V370.1M610.3,377.3V370.5M610.8,377.3V370.6M611.3,377.3V373.0M611.8,377.3V371.5M612.3,377.3V372.7M612.8,377.3V373.2M613.3,377.3V373.7M613.8,377.3V373.0M614.3,377.3V370.1M614.8,377.3V370.4M615.3,377.3V370.5M615.8,377.3V370.5M616.3,377.3V373.1M616.8,377.3V372.5M617.3,377.3V371.2M617.8,377.3V370.8M618.3,377.3V370.3M618.8,377.3V370.2M619.3,377.3V373.8M619.8,377.3V371.2M620.3,377.3V371.0M620.8,377.3V371.6M621.3,377.3V373.2M621.8,377.3V371.8M622.3,377.3V373.8M622.8,377.3V370.0M623.3,377.3V370.3M623.8,377.3V371.5M624.3,377.3V372.6M624.8,377.3V370.1M625.3,377.3V371.4M625.8,377.3V370.2M626.3,377.3V370.3M626.8,377.3V371.6M627.3,377.3V372.0M627.8,377.3V371.3M628.3,377.3V372.0M628.8,377.3V373.3M629.3,377.3V372.6M629.8,377.3V370.5M630.3,377.3V374.1M630.8,377.3V374.1M631.3,377.3V371.2M631.8,377.3V372.7M632.3,377.3V371.5M632.8,377.3V371.8M649.0,377.3V374.8M649.5,377.3V374.7M650.0,377.3V374.6M650.5,377.3V374.4M651.0,377.3V374.7M651.5,377.3V374.4M652.0,377.3V376.1M652.5,377.3V375.1M655.0,377.3V372.8M655.5,377.3V373.5M656.0,377.3V375.4M656.5,377.3V373.3M657.0,377.3V373.4M657.5,377.3V373.4M658.0,377.3V372.0M658.5,377.3V372.2M659.0,377.3V373.2M659.5,377.3V371.7M660.0,377.3V371.7M660.5,377.3V372.0M661.0,377.3V374.4M661.5,377.3V372.5M662.0,377.3V374.8M662.5,377.3V373.1M663.0,377.3V372.4M663.5,377.3V374.5M664.0,377.3V374.0M664.5,377.3V372.5M665.0,377.3V373.2M665.5,377.3V372.8M666.0,377.3V375.3" stroke="#f25563" stroke-width="0.65" fill="none"/><path d="M541.0,377.3V375.5M541.5,377.3V375.6M542.0,377.3V376.0M542.5,377.3V375.0M543.0,377.3V376.4M543.5,377.3V375.4M544.0,377.3V374.9M544.5,377.3V376.1M545.0,377.3V375.3M545.5,377.3V375.3M546.0,377.3V376.3M546.5,377.3V375.6M547.0,377.3V375.2M547.5,377.3V375.5M548.0,377.3V375.1M548.5,377.3V376.0M549.0,377.3V375.8M549.5,377.3V376.1M550.0,377.3V375.4M550.5,377.3V374.9M551.0,377.3V375.3M551.5,377.3V375.1M552.0,377.3V375.6M552.5,377.3V375.1M553.0,377.3V376.1M553.5,377.3V375.7M554.0,377.3V375.2M554.5,377.3V375.1M555.0,377.3V375.5M555.5,377.3V376.1M556.0,377.3V375.8M556.5,377.3V375.9M557.0,377.3V375.8M557.5,377.3V375.0M558.0,377.3V375.9M558.5,377.3V374.9M559.0,377.3V374.9M559.5,377.3V376.2M560.0,377.3V375.6M560.5,377.3V375.4M561.0,377.3V376.3M561.5,377.3V375.5M562.0,377.3V374.9M562.5,377.3V376.1" stroke="#b0a0a0" stroke-width="0.65" fill="none"/><text x="562.0" y="360.0" font-size="7.3" fill="#f0283c">m6A</text><line x1="552.0" y1="362.4" x2="561.6" y2="358.6" stroke="#222" stroke-width="0.6"/><text x="567.9" y="374.3" font-size="7.3" fill="#aaa">Input</text><line x1="559.7" y1="376.0" x2="567.0" y2="371.0" stroke="#222" stroke-width="0.6"/><line x1="534.4" y1="383.5" x2="559.7" y2="383.5" stroke="#2b3aa6" stroke-width="1.6"/><line x1="559.7" y1="383.5" x2="599.4" y2="383.5" stroke="#6a74c4" stroke-width="0.9"/><line x1="604.8" y1="383.5" x2="649.0" y2="383.5" stroke="#6a74c4" stroke-width="0.9"/><line x1="652.2" y1="383.5" x2="655.2" y2="383.5" stroke="#6a74c4" stroke-width="0.9"/><line x1="655.2" y1="383.5" x2="670.8" y2="383.5" stroke="#2b3aa6" stroke-width="1.6"/><rect x="559.7" y="381.3" width="3.7" height="4.4" fill="#2b3aa6"/><rect x="599.4" y="381.3" width="5.4" height="4.4" fill="#2b3aa6"/><rect x="607.3" y="381.3" width="25.6" height="4.4" fill="#2b3aa6"/><rect x="649.0" y="381.3" width="3.2" height="4.4" fill="#2b3aa6"/><rect x="611.6" y="382.8" width="0.8" height="1.4" fill="#fff"/><rect x="619.6" y="382.8" width="0.8" height="1.4" fill="#fff"/><rect x="627.6" y="382.8" width="0.8" height="1.4" fill="#fff"/><rect x="574.6" y="382.8" width="0.8" height="1.4" fill="#2b3aa6"/><rect x="582.6" y="382.8" width="0.8" height="1.4" fill="#2b3aa6"/><rect x="590.6" y="382.8" width="0.8" height="1.4" fill="#2b3aa6"/><rect x="639.6" y="382.8" width="0.8" height="1.4" fill="#2b3aa6"/><rect x="644.6" y="382.8" width="0.8" height="1.4" fill="#2b3aa6"/><text x="525.4" y="398.4" font-size="6.2" fill="#222">chr4:55,525,137-55,534,475</text><text x="636.6" y="398.4" font-size="6.8" text-anchor="middle" fill="#222">Klf4</text><text transform="translate(0.50 432.40) scale(0.82 1)" font-size="13.6" fill="#1a1a1a" stroke="#1a1a1a" stroke-width="0.35">g</text><text x="120.5" y="442.6" font-size="8.6" text-anchor="middle" fill="#222">mRNA-seq (KO vs  ΔRRM1)</text><line x1="37.3" y1="442.8" x2="37.3" y2="623.4" stroke="#888" stroke-width="0.8"/><line x1="37.3" y1="623.4" x2="218.0" y2="623.4" stroke="#888" stroke-width="0.8"/><line x1="35.3" y1="618.0" x2="37.3" y2="618.0" stroke="#888" stroke-width="0.7"/><text x="34.3" y="620.2" font-size="6.3" text-anchor="end" fill="#444">-8</text><line x1="50.7" y1="623.4" x2="50.7" y2="625.4" stroke="#888" stroke-width="0.7"/><text x="50.7" y="632.6" font-size="6.3" text-anchor="middle" fill="#444">-8</text><line x1="35.3" y1="575.5" x2="37.3" y2="575.5" stroke="#888" stroke-width="0.7"/><text x="34.3" y="577.7" font-size="6.3" text-anchor="end" fill="#444">-4</text><line x1="89.3" y1="623.4" x2="89.3" y2="625.4" stroke="#888" stroke-width="0.7"/><text x="89.3" y="632.6" font-size="6.3" text-anchor="middle" fill="#444">-4</text><line x1="35.3" y1="533.0" x2="37.3" y2="533.0" stroke="#888" stroke-width="0.7"/><text x="34.3" y="535.2" font-size="6.3" text-anchor="end" fill="#444">0</text><line x1="127.9" y1="623.4" x2="127.9" y2="625.4" stroke="#888" stroke-width="0.7"/><text x="127.9" y="632.6" font-size="6.3" text-anchor="middle" fill="#444">0</text><line x1="35.3" y1="490.5" x2="37.3" y2="490.5" stroke="#888" stroke-width="0.7"/><text x="34.3" y="492.7" font-size="6.3" text-anchor="end" fill="#444">4</text><line x1="166.5" y1="623.4" x2="166.5" y2="625.4" stroke="#888" stroke-width="0.7"/><text x="166.5" y="632.6" font-size="6.3" text-anchor="middle" fill="#444">4</text><line x1="35.3" y1="448.0" x2="37.3" y2="448.0" stroke="#888" stroke-width="0.7"/><text x="34.3" y="450.2" font-size="6.3" text-anchor="end" fill="#444">8</text><line x1="205.1" y1="623.4" x2="205.1" y2="625.4" stroke="#888" stroke-width="0.7"/><text x="205.1" y="632.6" font-size="6.3" text-anchor="middle" fill="#444">8</text><text x="129.0" y="642.6" font-size="7.4" text-anchor="middle" fill="#222">log2 fold change (KO/NT)</text><text x="23.5" y="530.9" font-size="7.05" text-anchor="middle" transform="rotate(-90 23.5 530.9)" fill="#222">log2 fold change (ΔRRM1/NT)</text><path d="M92.1,529.4 L99.6,522.0 L114.4,517.0 L126.8,512.0 L134.3,503.3 L144.2,500.9 L154.1,499.6 L164.0,503.3 L161.6,514.5 L156.6,524.4 L146.7,534.4 L141.7,544.3 L139.3,554.2 L131.8,564.1 L121.9,566.6 L112.0,564.1 L104.5,561.7 L97.0,554.2 L92.1,544.3Z" fill="#d2d2d2" stroke="#d2d2d2" stroke-width="2" stroke-linejoin="round"/><path d="M122.9 512.3h0M159.4 525.4h0M132.4 507.1h0M154.5 532.0h0M152.9 528.1h0M162.8 503.0h0M139.7 540.5h0M135.1 504.9h0M139.5 508.5h0M123.4 564.2h0M97.5 555.3h0M154.4 499.3h0M151.2 524.1h0M161.0 506.0h0M121.5 514.7h0M91.5 545.4h0M161.0 519.9h0M156.5 525.5h0M130.7 514.0h0M135.0 504.0h0M115.5 563.4h0M100.7 549.1h0M120.6 566.0h0M126.5 568.4h0M113.3 513.1h0M129.9 509.3h0M94.4 545.1h0M162.1 501.0h0M164.3 521.1h0M159.0 504.4h0M98.3 527.4h0M94.0 531.0h0M156.3 528.7h0M121.9 566.5h0M130.8 504.0h0M142.1 550.2h0M126.9 513.0h0M94.1 544.3h0M158.4 499.6h0M110.5 517.2h0M103.6 522.2h0M164.8 499.9h0M135.8 562.3h0M87.9 538.4h0M157.2 508.5h0M142.7 543.3h0M94.8 554.6h0M136.9 502.8h0M98.0 554.5h0M110.1 562.8h0M115.5 569.3h0M100.5 522.2h0M139.0 501.6h0M125.3 515.0h0M103.1 518.2h0M96.1 533.0h0M122.8 568.1h0M92.3 538.3h0M149.8 531.4h0M130.6 506.8h0M104.4 559.8h0M145.7 546.3h0M165.4 514.5h0M149.5 498.1h0M148.9 533.1h0M96.3 530.5h0M133.5 561.1h0M142.1 543.8h0M137.9 553.2h0M138.4 499.9h0M158.2 508.4h0M116.5 514.8h0M109.2 519.2h0M159.7 517.7h0M119.3 517.4h0M114.7 514.3h0M148.6 534.1h0M133.8 507.4h0M123.9 514.1h0M129.4 562.7h0M143.3 533.7h0M98.7 554.5h0M116.4 565.1h0M158.5 521.2h0M102.7 521.1h0M129.9 566.0h0M137.9 501.8h0M97.3 521.7h0M165.1 506.2h0M147.5 504.9h0M156.8 531.4h0M109.4 517.0h0M145.0 546.1h0M91.9 536.5h0M150.1 499.3h0M147.5 538.5h0M103.5 523.2h0M161.5 496.5h0M152.1 500.9h0M105.2 520.0h0M105.2 521.7h0M162.9 519.6h0M137.4 548.7h0M160.0 516.8h0M152.2 531.2h0M134.0 505.8h0M99.2 520.5h0M131.0 563.6h0M107.3 563.0h0M134.0 500.9h0M166.6 505.8h0M92.4 537.4h0M106.4 517.0h0M128.3 564.6h0M96.5 552.0h0M119.0 569.0h0M134.4 557.1h0M136.3 562.6h0M136.9 504.6h0M141.8 548.3h0M107.8 556.0h0M92.0 527.4h0M150.6 499.2h0M120.2 516.9h0M144.5 535.1h0M93.0 541.7h0M123.4 567.3h0M92.3 538.9h0M131.1 563.7h0M137.6 553.3h0M134.6 561.0h0M153.5 505.1h0M138.5 503.0h0M135.2 561.3h0M128.2 508.2h0M164.9 504.0h0M89.8 542.3h0M140.2 548.5h0M144.1 501.9h0M142.6 503.3h0M128.1 511.3h0M108.8 563.2h0M92.0 543.6h0M153.8 527.8h0M96.3 521.5h0M134.9 501.0h0M92.6 527.6h0M149.9 499.9h0M157.7 518.5h0M116.8 514.6h0M113.0 563.1h0M98.9 519.7h0M125.8 509.6h0M134.1 506.0h0M111.4 561.0h0M93.0 555.4h0M94.3 526.2h0M94.7 550.6h0M122.1 566.5h0M101.4 519.9h0M107.1 565.1h0M159.2 523.4h0M110.7 564.6h0M158.7 502.9h0M147.2 497.3h0M103.2 517.3h0M102.5 517.5h0M127.7 510.6h0M141.7 502.1h0M154.3 526.4h0M135.0 561.0h0M110.7 517.1h0M90.2 545.4h0M133.6 562.7h0M126.4 566.4h0M105.3 562.1h0M132.8 508.1h0M148.3 532.0h0M138.6 550.5h0M152.4 524.2h0M123.6 515.8h0M91.6 550.6h0M134.0 559.9h0M98.2 548.2h0M145.1 529.0h0M166.5 506.8h0M95.7 542.0h0M92.8 526.6h0M159.7 499.3h0M119.8 568.1h0M136.8 553.1h0M145.1 529.9h0M98.7 553.0h0M139.1 532.8h0M116.1 565.4h0M162.6 497.9h0M106.3 518.5h0M147.0 533.0h0M107.7 563.5h0M96.9 525.9h0M162.3 513.2h0M136.7 558.1h0M133.8 509.9h0M147.9 528.7h0M94.6 551.8h0M135.3 503.0h0M164.2 513.8h0M120.5 569.3h0M138.4 555.4h0M161.7 503.1h0M155.5 525.9h0M156.3 518.9h0M98.5 524.9h0M109.6 566.1h0M124.5 566.8h0M166.4 496.8h0M160.1 506.2h0M143.1 541.3h0M142.4 539.7h0M133.2 504.6h0M124.6 564.9h0M100.2 519.3h0M162.3 503.9h0M160.5 521.7h0M165.4 506.4h0M134.6 564.0h0M99.3 556.5h0M137.0 500.4h0M115.1 563.5h0M125.5 506.1h0M102.5 558.7h0M149.7 499.6h0M137.4 551.5h0M141.3 505.0h0M134.6 561.1h0M131.4 508.9h0M154.3 527.2h0M134.9 562.5h0M155.9 499.0h0M127.1 509.1h0M119.7 518.3h0M161.1 510.8h0M115.8 519.0h0M93.8 524.6h0M127.3 567.3h0M154.5 528.4h0M89.9 537.6h0M137.5 552.0h0M162.5 500.5h0M136.8 551.8h0M160.3 520.5h0M113.2 564.5h0M94.1 525.3h0M130.9 504.3h0M143.4 542.7h0M155.5 526.2h0M123.6 513.9h0M154.8 497.9h0M132.5 507.4h0M120.8 514.9h0M88.8 550.1h0M104.6 568.5h0M149.4 535.5h0M86.7 559.2h0M95.2 561.0h0M122.8 567.1h0M114.3 565.7h0M151.0 497.8h0M163.8 496.1h0M106.5 569.7h0M160.6 517.9h0M107.7 572.4h0M103.6 565.8h0M162.4 531.6h0M86.8 556.3h0M119.9 567.5h0M87.0 538.4h0M98.0 587.6h0M93.6 549.9h0M126.4 507.6h0M153.3 494.7h0M103.7 564.8h0M96.2 569.5h0M108.3 566.1h0M91.7 547.5h0M143.1 498.0h0M105.3 569.6h0M93.5 576.8h0M174.0 485.3h0M98.5 565.9h0M68.9 560.8h0M154.1 489.0h0M164.9 511.8h0M81.8 578.3h0M166.9 516.3h0M186.0 494.7h0M98.8 568.9h0M179.9 500.0h0M93.4 569.3h0M93.8 549.3h0M90.2 563.0h0M82.9 550.8h0M141.1 550.3h0M93.1 560.3h0M100.3 557.8h0M164.8 496.0h0M104.7 565.4h0M76.6 541.7h0M81.1 560.9h0M89.1 537.1h0M146.6 541.1h0M185.9 499.4h0M149.1 532.1h0M92.4 586.8h0M87.5 562.9h0M110.4 511.3h0M109.1 563.4h0M150.4 496.7h0M107.2 563.4h0M170.4 503.9h0M123.1 506.9h0M113.8 575.3h0M113.1 566.4h0M81.5 588.0h0M91.0 540.9h0M125.6 499.4h0M81.9 577.4h0M181.4 478.5h0M141.8 563.2h0M98.4 563.6h0M182.9 511.0h0M88.4 566.2h0M92.6 569.9h0M89.8 547.9h0M98.7 563.4h0M81.4 549.6h0M152.9 542.8h0M164.7 490.8h0M89.3 586.1h0M152.4 537.0h0M158.9 531.0h0M96.2 559.1h0M85.5 568.2h0M180.5 473.2h0M98.3 564.7h0M154.7 529.7h0M101.7 566.2h0M89.9 571.0h0M67.4 585.8h0M99.2 561.2h0M150.7 496.3h0M119.8 513.5h0M53.9 586.7h0M70.8 592.3h0M86.4 560.3h0M88.5 566.4h0M165.2 516.1h0M156.1 528.1h0M177.2 503.5h0M99.1 561.3h0M159.6 521.3h0M123.8 510.7h0M167.1 496.8h0M80.2 593.1h0M172.6 515.5h0M162.0 512.7h0M173.6 507.7h0M117.9 514.2h0M151.1 534.8h0M174.2 514.9h0M106.3 564.0h0M148.6 533.7h0M95.1 558.7h0M148.0 497.9h0M169.2 479.9h0M169.8 511.1h0M97.2 558.2h0M149.6 538.7h0M174.0 480.5h0M172.7 474.0h0M155.2 494.5h0M179.4 515.4h0M112.4 564.5h0M83.2 563.4h0M83.6 564.3h0M100.8 572.6h0M72.7 583.8h0M90.6 554.7h0M174.4 493.5h0M158.9 521.0h0M64.0 581.6h0M116.1 513.1h0M167.5 495.1h0M61.5 583.2h0M187.6 502.6h0M151.1 544.5h0M169.4 497.4h0M151.8 539.6h0M150.5 485.5h0M77.8 562.2h0M82.3 566.1h0M150.5 498.6h0M164.7 484.9h0M80.9 554.6h0M88.3 553.5h0M94.1 570.7h0M150.1 492.7h0M64.6 603.6h0M94.7 582.2h0M90.3 572.1h0M169.6 495.4h0M187.1 483.3h0M99.2 567.7h0M88.7 538.5h0M184.2 478.6h0M73.1 572.1h0M176.2 482.0h0M179.2 477.4h0M152.7 496.5h0M84.5 570.7h0M166.8 503.2h0M146.9 538.8h0M91.4 521.2h0M153.4 529.9h0M101.2 573.3h0M109.2 578.7h0M122.6 508.1h0M86.0 565.7h0M64.7 596.3h0M91.3 539.4h0M96.7 553.7h0M103.3 574.7h0M101.4 575.6h0M167.5 514.3h0M74.0 567.2h0M154.7 536.6h0M90.3 574.7h0M150.4 534.2h0M139.2 496.2h0M114.0 512.9h0M182.1 494.8h0M131.7 501.7h0M91.8 573.8h0M99.8 566.6h0M100.6 512.3h0M96.1 558.1h0M149.4 533.0h0M185.0 481.2h0M89.5 572.4h0M58.5 582.1h0M165.3 508.9h0M69.9 554.6h0M112.5 512.5h0M147.9 539.5h0M111.7 565.2h0M90.7 561.6h0M82.7 562.3h0M130.8 506.0h0M160.6 500.5h0M95.7 559.9h0M178.1 496.7h0M95.5 558.3h0M97.7 557.0h0M84.2 577.8h0M121.3 513.4h0M78.6 549.6h0M123.6 511.8h0M168.8 465.5h0M71.1 561.7h0M166.1 505.3h0M95.5 568.8h0M174.2 504.0h0M157.2 497.6h0M180.8 465.0h0M89.7 571.2h0M140.8 548.4h0M164.4 504.1h0M94.7 579.2h0M106.2 571.3h0M92.7 569.0h0M154.8 486.4h0M145.9 536.3h0M147.6 536.3h0M169.0 517.1h0M91.0 548.0h0M133.7 503.8h0M82.7 544.5h0M162.7 497.3h0M93.9 571.7h0M148.1 560.9h0M96.4 571.6h0M117.2 511.2h0M98.4 561.5h0M95.1 560.5h0M92.6 553.3h0M90.5 580.5h0M87.3 559.8h0M160.9 490.3h0M92.9 560.2h0M91.4 557.2h0M170.5 501.9h0M115.1 565.9h0M94.6 557.0h0M85.4 541.7h0M77.8 579.3h0M153.7 499.5h0M126.8 504.6h0M165.4 500.2h0M154.9 495.2h0M86.0 544.5h0M162.6 491.8h0M97.5 567.8h0M118.5 511.4h0M92.4 551.3h0M97.4 576.2h0M106.2 571.4h0M93.1 569.5h0M187.8 482.2h0M167.0 504.3h0M82.4 580.4h0M157.5 486.1h0M97.8 558.2h0M181.7 484.7h0M153.8 487.3h0M171.4 508.6h0M157.2 496.9h0M170.8 492.5h0M95.4 561.2h0M159.6 500.2h0M99.1 556.9h0M163.6 513.0h0M97.2 571.7h0M151.1 541.1h0M90.1 542.3h0M150.2 535.9h0M97.0 555.7h0M109.4 573.3h0M101.2 565.4h0M122.0 500.2h0M107.8 572.9h0M178.3 487.0h0M91.6 554.5h0M111.4 568.5h0M119.1 493.3h0M103.0 560.2h0M82.1 558.2h0M161.9 518.9h0M92.2 574.2h0M92.8 568.8h0M86.5 587.5h0M120.1 580.6h0M164.1 502.9h0M101.5 574.0h0M83.1 564.6h0M132.1 501.6h0M128.4 502.1h0M108.1 564.5h0M168.8 499.8h0M158.8 522.6h0M176.7 513.8h0M179.4 507.1h0M168.8 488.7h0M91.9 523.6h0M156.9 525.3h0M150.0 538.3h0M152.1 531.4h0M106.7 571.2h0M161.6 486.2h0M102.4 584.4h0M78.6 567.6h0M163.3 496.4h0M88.6 572.6h0M142.8 493.4h0M165.4 538.5h0M72.5 592.7h0M93.6 565.1h0M165.1 519.8h0M104.5 564.5h0M149.9 498.5h0M155.6 497.0h0M158.2 500.9h0M110.5 568.0h0M158.9 492.8h0M87.2 562.5h0M158.8 520.4h0M133.1 504.2h0M126.0 504.6h0M177.2 489.8h0M93.8 549.1h0M82.3 559.8h0M172.0 528.3h0M81.8 569.7h0M104.3 577.5h0M100.9 560.4h0M159.7 520.2h0M91.0 523.7h0M91.0 565.0h0M148.5 538.0h0M183.8 494.9h0M146.0 548.3h0M105.1 586.1h0M88.8 581.2h0M152.3 540.8h0M160.8 526.2h0M105.0 562.9h0M93.7 561.8h0M83.7 547.4h0M156.0 490.3h0M95.3 567.1h0M166.4 506.4h0M163.0 521.9h0M168.7 507.7h0M91.8 547.4h0M198.2 487.0h0M127.5 499.9h0M149.1 541.8h0M90.5 553.0h0M60.7 580.6h0M153.8 538.1h0M150.6 499.5h0M129.6 507.2h0M139.7 558.2h0M168.0 526.9h0M150.4 537.5h0M175.5 506.0h0M187.1 489.6h0M92.5 567.8h0M178.9 492.1h0M68.1 571.4h0M95.9 563.4h0M90.4 564.5h0M143.5 500.5h0M105.2 563.6h0M121.1 513.4h0M94.2 570.9h0M92.1 574.6h0M92.6 575.1h0M178.4 513.3h0M198.9 484.1h0M191.5 480.0h0M87.2 557.7h0M164.0 509.5h0M168.7 478.5h0M152.1 496.5h0M169.5 489.6h0M77.2 572.0h0M61.1 584.4h0M84.7 580.4h0M125.5 510.5h0M180.3 463.3h0M95.5 559.1h0M163.4 514.9h0M177.9 489.6h0M181.4 492.7h0M168.4 519.1h0M130.0 570.7h0M115.0 513.4h0M154.9 542.8h0M176.2 475.6h0M122.9 510.5h0M151.4 533.3h0M181.7 492.8h0M90.4 537.9h0M75.7 547.4h0M161.9 488.9h0M88.2 565.7h0M165.0 503.1h0M154.8 531.0h0M178.9 503.2h0M163.4 497.4h0M93.7 586.5h0M167.3 494.6h0M168.7 494.6h0M156.3 545.5h0M193.7 480.2h0M119.8 512.0h0M124.4 504.3h0M143.9 547.2h0M94.6 552.3h0M103.0 580.9h0M158.4 522.9h0M122.1 501.3h0M87.3 559.9h0M91.2 577.2h0M97.2 561.9h0M158.6 488.6h0M149.9 549.0h0M158.3 521.0h0M166.2 511.3h0M77.6 568.3h0M91.5 539.5h0M171.7 506.4h0M120.5 568.3h0M103.1 567.5h0M150.5 538.4h0M165.0 521.5h0M171.9 503.7h0M110.4 564.9h0M183.7 489.4h0M170.2 499.8h0M188.7 495.6h0M148.2 536.8h0M97.5 564.2h0M80.2 580.1h0M176.9 482.2h0M86.8 572.1h0M117.5 569.0h0M178.3 503.3h0M86.0 570.2h0M110.5 515.0h0M67.9 568.9h0M77.8 570.1h0M99.6 575.6h0M87.1 586.2h0M92.1 564.6h0M178.1 491.8h0M163.2 524.3h0M90.6 587.1h0M173.6 497.0h0M149.2 543.8h0M87.7 562.2h0M171.4 510.3h0M155.5 493.5h0M167.8 510.5h0M147.6 535.9h0M158.6 539.1h0M103.2 573.0h0M94.0 548.5h0M168.1 518.8h0M92.3 562.9h0M136.2 502.2h0M90.3 545.8h0M127.0 574.9h0M171.4 530.8h0M167.2 511.4h0M126.2 510.0h0M111.0 573.6h0M89.0 556.7h0M87.9 567.9h0M103.9 566.9h0M154.4 499.1h0M201.8 484.3h0M93.3 578.2h0M99.8 573.7h0M196.8 486.1h0M91.1 564.8h0M180.0 472.3h0M174.0 502.9h0M59.5 557.6h0M151.0 540.6h0M155.5 495.3h0M122.5 513.2h0M132.3 491.0h0M109.6 568.7h0M176.3 512.8h0M116.9 570.9h0M86.3 532.8h0M96.8 580.0h0M160.3 517.1h0M101.2 564.3h0M78.3 557.9h0M100.3 568.5h0M192.6 500.5h0M86.3 565.3h0M166.7 534.8h0M83.9 575.8h0M82.7 557.3h0M167.8 513.8h0M154.4 498.0h0M153.5 498.2h0M68.9 565.5h0M186.8 505.1h0M163.6 527.8h0M102.8 575.5h0M180.2 479.8h0M163.5 505.8h0M105.2 565.9h0M168.3 496.5h0M92.0 576.4h0M87.1 573.6h0M91.4 550.1h0M91.8 546.9h0M83.1 531.6h0M85.0 556.3h0M81.8 528.3h0M91.7 545.5h0M88.0 543.1h0M91.1 522.2h0M83.9 553.9h0M85.5 536.3h0M90.1 532.2h0M89.2 548.9h0M88.6 550.3h0M78.8 531.2h0M82.0 556.4h0M89.9 546.2h0M77.8 535.9h0M81.2 545.9h0M90.3 533.0h0M84.7 531.9h0M77.3 543.0h0M78.0 556.7h0M82.0 547.5h0M86.2 547.9h0M83.2 522.9h0M80.8 542.6h0M86.8 531.9h0M88.1 542.7h0M87.5 554.6h0M83.9 556.6h0M77.6 532.8h0M78.1 546.0h0M77.8 537.7h0M77.3 552.7h0M86.2 549.2h0M83.4 528.0h0M80.8 545.1h0M89.3 542.3h0M82.2 536.3h0M89.0 555.0h0M86.8 525.3h0M82.5 540.5h0M81.9 537.8h0M82.1 523.7h0M82.3 554.8h0M60.8 606.6h0M77.1 589.6h0M68.3 598.4h0M76.7 589.0h0M60.0 608.0h0M67.6 599.2h0M85.4 579.6h0M58.3 609.5h0M71.3 595.2h0M74.7 592.0h0M82.3 582.9h0M67.9 599.1h0M75.5 590.6h0M85.2 580.9h0M74.6 591.7h0M59.3 609.1h0M67.7 600.3h0M77.4 588.7h0M75.2 590.1h0M80.0 585.4h0M62.4 604.8h0M84.1 582.5h0M130.2 573.8h0M125.8 597.7h0M127.9 590.7h0M96.5 600.3h0M106.5 576.2h0M127.0 582.3h0M100.0 573.6h0M136.3 574.7h0M104.4 595.7h0M124.1 571.5h0M123.8 587.3h0M114.2 592.7h0M104.4 577.7h0M120.1 587.7h0M123.8 572.0h0M103.5 598.9h0M123.1 586.8h0M135.6 586.3h0M106.9 584.0h0M102.4 586.3h0M129.8 573.4h0M110.0 584.8h0M107.4 576.6h0M123.9 577.3h0M98.5 604.0h0M127.1 602.3h0M97.2 579.8h0M120.2 597.6h0M96.7 598.9h0M120.3 605.3h0M182.0 483.6h0M187.3 476.9h0M182.0 481.8h0M173.2 489.9h0M179.1 488.5h0M169.9 496.4h0M175.7 489.4h0M177.1 488.6h0M195.0 470.1h0M178.0 486.2h0M185.2 478.9h0M166.3 493.5h0M168.9 492.3h0M169.8 493.0h0M176.9 488.5h0M182.3 482.8h0M194.7 469.3h0M192.1 471.0h0M192.0 472.2h0M179.6 484.8h0M175.9 485.7h0M172.0 492.5h0M166.3 492.5h0M167.9 494.3h0M174.5 489.6h0M190.4 469.6h0M179.2 484.8h0M180.3 483.4h0M177.8 484.0h0M190.0 473.8h0M47.0 527.0h0M55.0 529.0h0M60.0 527.0h0M66.0 525.0h0M73.0 523.0h0M80.0 520.0h0M85.0 522.0h0M45.5 519.5h0" stroke="#d2d2d2" stroke-width="2.7" stroke-linecap="round" fill="none"/><path d="M128.6,531.5 L133.5,525.0 L139.4,520.4 L145.2,516.0 L152.2,510.0 L155.7,508.6 L159.2,509.8 L159.8,512.5 L156.6,516.8 L153.2,520.4 L148.5,523.4 L141.7,526.8 L134.7,529.7 L129.2,532.2Z" fill="#f4654f" stroke="#f4654f" stroke-width="1.5" stroke-linejoin="round"/><path d="M138.1 529.8h0M151.5 523.7h0M149.2 509.0h0M150.6 508.7h0M132.2 525.6h0M143.8 514.7h0M144.4 515.2h0M150.7 524.9h0M134.8 532.4h0M134.6 531.6h0M162.2 512.1h0M162.9 509.5h0M156.7 507.0h0M130.8 528.4h0M135.6 531.6h0M159.4 508.1h0M144.7 513.8h0M158.1 518.1h0M160.0 508.4h0M148.8 510.8h0M129.5 532.5h0M158.4 515.9h0M147.9 526.7h0M143.2 515.3h0M147.3 512.0h0M134.6 523.1h0M161.4 514.0h0M149.9 524.8h0M160.4 509.4h0M143.2 514.2h0M155.9 505.4h0M159.3 507.0h0M156.9 517.0h0M135.9 530.6h0M152.2 506.7h0M139.4 511.0h0M144.0 511.0h0M149.0 510.5h0M158.6 513.4h0M162.7 509.9h0M165.0 515.7h0M145.2 501.7h0M149.9 498.2h0M153.5 501.5h0M158.6 494.7h0M162.7 501.1h0M167.4 493.5h0M169.2 490.6h0M175.2 481.8h0M185.1 479.8h0M195.8 467.4h0M181.0 486.0h0M171.0 489.0h0" stroke="#f4654f" stroke-width="2.9" stroke-linecap="round" fill="none"/><path d="M127.7,533.6 L121.9,535.5 L114.9,536.6 L109.0,538.4 L104.6,541.6 L102.6,546.0 L103.6,550.2 L107.8,552.5 L113.5,551.3 L118.0,548.0 L121.5,542.4 L125.2,536.9Z" fill="#5e8fe4" stroke="#5e8fe4" stroke-width="1.5" stroke-linejoin="round"/><path d="M112.0 552.0h0M122.0 533.2h0M105.0 551.0h0M119.4 545.8h0M127.9 536.6h0M107.3 553.2h0M100.9 544.9h0M110.8 537.0h0M110.6 553.9h0M101.8 544.2h0M122.9 541.9h0M106.3 553.8h0M123.2 542.1h0M109.1 554.2h0M108.9 553.8h0M121.3 542.9h0M119.6 547.4h0M108.5 554.7h0M103.1 548.8h0M125.5 537.1h0M107.3 552.6h0M103.8 542.0h0M121.2 535.0h0M118.5 533.7h0M108.1 538.9h0M119.4 545.8h0M108.4 538.7h0M103.1 544.6h0M109.6 552.2h0M104.8 551.1h0M69.3 536.1h0M71.8 546.8h0M66.0 567.1h0M92.6 576.6h0M83.4 560.4h0M92.0 559.0h0M94.6 555.5h0M96.2 548.4h0M98.0 549.0h0M95.0 554.2h0M98.5 556.6h0M107.8 557.2h0M112.5 556.6h0M116.6 558.9h0" stroke="#5e8fe4" stroke-width="2.9" stroke-linecap="round" fill="none"/><line x1="47.3" y1="581.2" x2="195.5" y2="492.5" stroke="#666" stroke-width="0.7"/><text x="153.0" y="596.0" font-size="5.9" fill="#222">p-value &lt; 2.2e-16</text><text x="153.0" y="608.4" font-size="5.9" fill="#222">R = 0.6562916</text><text transform="translate(241.50 433.10) scale(0.92 1)" font-size="12.2" fill="#1a1a1a" stroke="#1a1a1a" stroke-width="0.35">h</text><text x="361.2" y="441.6" font-size="8.6" text-anchor="middle" fill="#222">m6A-RIP-seq (KO vs  ΔRRM1)</text><line x1="262.6" y1="450.1" x2="262.6" y2="622.7" stroke="#888" stroke-width="0.8"/><line x1="262.6" y1="622.7" x2="448.4" y2="622.7" stroke="#888" stroke-width="0.8"/><line x1="260.6" y1="605.5" x2="262.6" y2="605.5" stroke="#888" stroke-width="0.7"/><text x="259.6" y="607.7" font-size="6.3" text-anchor="end" fill="#444">-4</text><line x1="290.1" y1="622.7" x2="290.1" y2="624.7" stroke="#888" stroke-width="0.7"/><text x="290.1" y="631.9" font-size="6.3" text-anchor="middle" fill="#444">-4</text><line x1="260.6" y1="570.9" x2="262.6" y2="570.9" stroke="#888" stroke-width="0.7"/><text x="259.6" y="573.1" font-size="6.3" text-anchor="end" fill="#444">-2</text><line x1="326.9" y1="622.7" x2="326.9" y2="624.7" stroke="#888" stroke-width="0.7"/><text x="326.9" y="631.9" font-size="6.3" text-anchor="middle" fill="#444">-2</text><line x1="260.6" y1="536.3" x2="262.6" y2="536.3" stroke="#888" stroke-width="0.7"/><text x="259.6" y="538.5" font-size="6.3" text-anchor="end" fill="#444">0</text><line x1="363.7" y1="622.7" x2="363.7" y2="624.7" stroke="#888" stroke-width="0.7"/><text x="363.7" y="631.9" font-size="6.3" text-anchor="middle" fill="#444">0</text><line x1="260.6" y1="501.7" x2="262.6" y2="501.7" stroke="#888" stroke-width="0.7"/><text x="259.6" y="503.9" font-size="6.3" text-anchor="end" fill="#444">2</text><line x1="400.5" y1="622.7" x2="400.5" y2="624.7" stroke="#888" stroke-width="0.7"/><text x="400.5" y="631.9" font-size="6.3" text-anchor="middle" fill="#444">2</text><line x1="260.6" y1="467.1" x2="262.6" y2="467.1" stroke="#888" stroke-width="0.7"/><text x="259.6" y="469.3" font-size="6.3" text-anchor="end" fill="#444">4</text><line x1="437.3" y1="622.7" x2="437.3" y2="624.7" stroke="#888" stroke-width="0.7"/><text x="437.3" y="631.9" font-size="6.3" text-anchor="middle" fill="#444">4</text><text x="361.0" y="642.6" font-size="7.4" text-anchor="middle" fill="#222">log2 fold change (KO/NT)</text><text x="248.6" y="526.2" font-size="7.1" text-anchor="middle" transform="rotate(-90 248.6 526.2)" fill="#222">log2 fold change (ΔRRM1/NT)</text><path d="M309.3,551.4 L318.1,540.9 L332.1,532.1 L342.6,525.1 L356.6,519.9 L370.7,514.6 L384.7,509.3 L395.2,505.8 L402.2,507.6 L398.7,516.4 L388.2,525.1 L377.7,535.6 L367.2,546.1 L356.6,554.9 L346.1,561.9 L335.6,567.2 L325.1,570.7 L314.6,567.2Z" fill="#d2d2d2" stroke="#d2d2d2" stroke-width="2" stroke-linejoin="round"/><path d="M386.2 530.6h0M362.8 514.7h0M368.5 540.1h0M342.7 522.1h0M372.1 543.7h0M310.3 559.5h0M394.6 525.6h0M372.4 538.6h0M368.7 514.4h0M318.9 543.3h0M378.4 535.2h0M333.8 570.0h0M314.0 570.0h0M329.4 532.6h0M319.0 542.3h0M349.5 522.3h0M321.9 569.6h0M373.2 512.6h0M356.1 520.1h0M392.3 521.4h0M369.3 514.0h0M328.9 535.0h0M316.1 546.9h0M387.9 528.8h0M331.6 533.2h0M372.7 514.7h0M317.9 540.8h0M345.5 525.4h0M372.1 544.3h0M381.8 511.0h0M389.6 523.5h0M319.6 538.0h0M401.8 515.4h0M329.9 536.3h0M326.5 567.6h0M400.7 507.5h0M373.0 516.3h0M337.9 525.9h0M398.1 517.4h0M323.8 536.9h0M379.4 534.3h0M396.4 503.8h0M395.8 519.2h0M316.0 558.7h0M397.6 513.9h0M342.3 563.5h0M374.6 514.2h0M359.8 551.2h0M376.3 537.9h0M349.5 556.4h0M312.8 558.6h0M341.9 566.1h0M316.2 565.3h0M383.5 533.3h0M393.8 518.4h0M360.0 555.0h0M353.3 522.5h0M381.7 530.4h0M383.7 529.0h0M314.2 562.2h0M322.4 541.8h0M385.0 530.5h0M309.5 552.4h0M313.7 565.1h0M394.9 509.2h0M333.0 529.3h0M318.0 546.4h0M344.7 562.1h0M353.4 522.7h0M342.7 562.2h0M353.0 553.1h0M354.3 561.1h0M335.5 567.0h0M329.6 569.2h0M376.7 537.3h0M376.2 513.5h0M376.6 510.0h0M347.2 523.5h0M323.0 538.1h0M327.1 536.5h0M394.9 508.5h0M387.1 522.6h0M402.2 510.2h0M312.0 546.4h0M321.7 537.5h0M358.8 520.8h0M370.2 514.9h0M402.1 507.3h0M386.9 507.9h0M353.2 524.5h0M318.0 545.7h0M380.5 515.9h0M331.4 535.9h0M312.1 561.3h0M375.7 512.9h0M354.8 520.0h0M345.8 566.0h0M387.6 508.0h0M325.7 567.9h0M344.6 525.8h0M347.1 525.1h0M341.1 566.0h0M365.0 516.2h0M378.1 541.3h0M353.5 518.5h0M344.8 567.4h0M401.0 506.5h0M349.2 559.2h0M338.1 528.2h0M339.4 527.8h0M386.9 507.3h0M396.4 506.3h0M351.0 557.6h0M392.4 520.8h0M321.0 567.0h0M324.1 535.6h0M325.7 566.0h0M391.4 522.7h0M386.1 505.7h0M308.0 553.3h0M399.2 518.3h0M389.6 524.0h0M389.2 524.8h0M318.4 566.2h0M354.6 520.6h0M329.9 567.3h0M370.2 517.1h0M327.9 574.1h0M341.8 563.2h0M337.3 564.1h0M355.6 516.8h0M312.0 567.0h0M380.0 511.5h0M372.5 514.3h0M388.8 525.5h0M368.6 539.6h0M375.4 536.7h0M372.3 543.3h0M379.9 510.9h0M345.0 561.4h0M322.1 566.4h0M319.3 540.9h0M394.3 504.3h0M397.4 510.4h0M395.5 520.2h0M356.6 521.2h0M320.3 542.5h0M355.3 555.5h0M368.0 545.8h0M325.4 543.3h0M398.2 505.9h0M313.3 559.8h0M359.1 551.7h0M340.6 563.7h0M384.6 508.8h0M374.9 514.7h0M382.1 532.7h0M320.5 542.3h0M391.5 524.4h0M328.7 570.4h0M314.5 568.4h0M338.5 525.7h0M375.4 538.3h0M390.3 521.9h0M345.9 521.6h0M309.1 547.6h0M373.6 538.8h0M357.1 552.3h0M310.7 559.6h0M380.2 514.3h0M315.0 564.2h0M324.4 540.0h0M386.3 527.2h0M352.5 562.9h0M389.5 527.0h0M370.3 540.7h0M378.2 536.2h0M311.0 566.5h0M374.4 535.6h0M385.7 506.5h0M343.7 565.9h0M325.0 567.8h0M322.7 567.2h0M398.3 518.9h0M365.3 513.7h0M380.5 507.4h0M349.0 522.9h0M346.5 519.0h0M335.3 532.3h0M335.6 565.4h0M357.2 519.8h0M348.5 522.3h0M388.3 524.9h0M366.1 550.0h0M381.3 508.7h0M310.9 552.1h0M346.2 521.9h0M346.7 526.1h0M357.3 522.7h0M393.3 506.3h0M409.7 500.8h0M373.7 540.6h0M363.1 513.3h0M376.8 538.0h0M315.6 541.9h0M313.1 567.4h0M341.1 566.8h0M295.4 561.0h0M364.1 561.0h0M401.0 512.8h0M294.6 577.7h0M393.4 524.1h0M324.2 571.7h0M333.3 568.6h0M381.7 507.8h0M312.2 538.0h0M380.9 538.8h0M404.5 511.1h0M384.9 533.5h0M393.7 520.9h0M408.9 515.6h0M358.9 515.6h0M310.6 566.5h0M405.9 528.0h0M366.0 549.6h0M399.9 519.3h0M326.0 535.2h0M410.1 521.4h0M341.1 525.4h0M337.3 527.4h0M385.4 539.5h0M400.8 520.5h0M393.4 528.1h0M313.6 544.9h0M384.0 531.2h0M362.5 555.1h0M327.0 526.9h0M378.3 540.9h0M359.1 554.4h0M389.7 535.8h0M311.8 564.3h0M304.8 556.6h0M423.8 511.1h0M400.1 535.1h0M361.3 555.7h0M411.4 501.5h0M400.6 524.6h0M370.6 550.6h0M407.8 514.2h0M407.2 513.9h0M302.1 567.7h0M303.4 551.2h0M332.1 529.6h0M403.1 524.2h0M392.1 532.1h0M384.8 528.7h0M350.0 566.8h0M313.9 574.6h0M336.1 569.0h0M306.7 569.9h0M400.0 517.2h0M394.7 497.0h0M301.5 557.6h0M312.3 560.9h0M373.9 541.3h0M368.2 556.0h0M357.1 519.5h0M307.4 553.9h0M375.4 538.0h0M314.0 570.9h0M311.1 549.2h0M369.0 545.5h0M384.4 529.7h0M408.3 522.3h0M403.8 533.8h0M357.8 564.5h0M319.2 588.2h0M335.9 574.1h0M360.1 553.5h0M303.3 562.8h0M385.4 538.5h0M316.4 536.1h0M359.4 518.1h0M363.1 553.7h0M360.3 556.8h0M306.3 571.3h0M346.6 523.6h0M302.5 556.3h0M387.9 531.8h0M334.6 520.6h0M383.7 532.8h0M404.8 506.7h0M382.4 510.0h0M407.2 496.6h0M406.6 507.5h0M413.9 532.5h0M377.7 535.6h0M377.7 535.8h0M365.7 516.2h0M387.5 526.8h0M333.7 572.0h0M283.0 566.7h0M391.9 506.7h0M390.1 530.6h0M394.5 537.4h0M318.0 538.5h0M376.7 548.7h0M370.2 544.4h0M384.3 537.3h0M373.0 512.3h0M306.3 549.9h0M336.6 528.7h0M396.2 523.8h0M385.2 531.1h0M366.9 506.3h0M397.1 519.7h0M388.5 504.5h0M321.7 534.7h0M313.1 564.2h0M387.5 533.7h0M392.0 534.4h0M379.8 541.6h0M415.6 506.6h0M367.5 545.9h0M403.9 501.2h0M395.0 503.1h0M366.5 511.2h0M361.2 561.3h0M309.7 542.3h0M386.6 526.8h0M340.1 518.0h0M367.5 513.0h0M388.6 531.1h0M374.8 540.5h0M398.5 529.4h0M403.5 520.4h0M376.9 540.7h0M300.8 569.4h0M369.6 549.1h0M384.4 529.4h0M412.9 519.1h0M379.9 533.8h0M372.3 545.2h0M370.6 511.8h0M367.1 548.8h0M407.3 519.8h0M410.6 510.8h0M428.3 511.2h0M368.5 556.5h0M405.1 512.4h0M390.3 534.1h0M377.0 541.5h0M405.1 516.5h0M306.1 557.2h0M368.9 548.0h0M386.3 538.6h0M401.6 505.4h0M407.5 531.3h0M385.5 532.9h0M307.8 564.3h0M327.4 571.8h0M341.1 566.5h0M361.4 554.3h0M292.2 556.0h0M383.5 547.0h0M405.2 529.7h0M390.6 524.4h0M365.5 550.3h0M327.2 571.7h0M390.6 540.6h0M308.2 555.0h0M300.8 573.8h0M399.6 506.5h0M365.5 554.4h0M383.7 530.4h0M403.4 516.1h0M381.0 544.5h0M306.6 571.0h0M381.2 541.9h0M380.3 533.3h0M400.3 514.1h0M373.9 545.9h0M365.3 547.8h0M397.7 504.8h0M387.4 527.1h0M379.2 537.8h0M309.2 547.6h0M338.6 523.8h0M318.8 539.1h0M363.1 514.1h0M362.4 502.2h0M369.5 551.9h0M401.9 513.3h0M301.7 564.5h0M394.1 521.1h0M397.7 517.6h0M366.5 548.9h0M414.1 502.8h0M352.7 519.9h0M322.4 533.9h0M375.9 540.9h0M363.0 510.5h0M341.6 565.8h0M409.7 505.8h0M396.0 523.5h0M430.0 505.5h0M370.7 544.7h0M307.4 571.8h0M311.9 577.2h0M283.6 571.6h0M382.9 547.2h0M368.5 550.5h0M351.0 562.2h0M307.1 573.1h0M389.9 524.7h0M378.4 535.2h0M302.0 560.7h0M379.2 537.5h0M384.9 535.8h0M308.2 554.3h0M382.0 535.3h0M311.6 561.3h0M383.8 530.9h0M392.8 526.0h0M368.0 548.8h0M377.0 545.1h0M408.3 523.2h0M387.9 530.0h0M372.3 550.8h0M395.4 523.1h0M300.9 564.4h0M361.2 553.5h0M391.6 522.5h0M294.4 558.4h0M288.2 578.3h0M385.2 531.4h0M382.7 531.5h0M375.1 506.6h0M389.6 528.0h0M398.8 517.3h0M356.7 555.0h0M383.3 530.7h0M365.2 514.0h0M339.5 568.0h0M393.4 526.4h0M305.2 564.8h0M402.5 495.4h0M368.3 506.3h0M312.6 561.5h0M379.6 537.3h0M380.9 532.8h0M387.3 536.4h0M356.6 564.0h0M402.5 517.8h0M343.7 511.8h0M378.0 506.5h0M358.4 554.1h0M348.8 520.5h0M396.4 522.5h0M388.1 530.2h0M402.7 511.6h0M339.2 565.6h0M393.0 526.1h0M398.8 520.0h0M315.7 542.9h0M357.0 558.4h0M366.9 515.0h0M382.6 533.0h0M393.0 530.1h0M399.5 517.5h0M306.3 567.2h0M301.5 560.9h0M402.2 501.8h0M402.0 539.0h0M360.5 552.1h0M367.1 547.8h0M350.6 521.7h0M393.4 528.0h0M354.3 563.1h0M394.3 504.7h0M413.1 503.8h0M332.6 531.7h0M304.7 558.5h0M375.3 547.5h0M307.6 562.3h0M351.5 521.2h0M307.6 542.8h0M309.4 572.3h0M384.5 541.1h0M310.8 568.4h0M378.2 547.7h0M315.9 570.2h0M389.3 535.2h0M385.3 547.2h0M382.2 535.4h0M406.3 506.2h0M372.2 552.2h0M382.6 538.1h0M352.7 516.6h0M390.4 525.7h0M387.4 529.0h0M304.8 560.4h0M307.2 556.7h0M313.6 536.9h0M382.1 507.2h0M389.5 527.7h0M327.7 534.0h0M393.9 522.2h0M386.8 533.0h0M350.3 517.7h0M378.6 535.6h0M303.0 553.5h0M376.3 539.9h0M316.9 570.0h0M308.9 558.5h0M377.9 544.7h0M397.6 519.7h0M372.6 542.5h0M379.7 504.0h0M375.2 541.6h0M377.4 544.9h0M393.2 536.0h0M380.2 507.8h0M310.5 545.0h0M323.7 534.9h0M326.6 572.2h0M383.8 532.6h0M400.7 533.2h0M385.3 534.4h0M381.6 540.0h0M310.3 557.9h0M399.5 525.1h0M350.0 520.0h0M329.3 530.1h0M310.0 564.4h0M376.6 545.7h0M369.4 544.8h0M377.0 538.6h0M318.7 570.6h0M362.0 553.0h0M393.3 527.4h0M361.5 551.5h0M389.9 524.9h0M298.0 574.0h0M385.2 530.5h0M288.6 558.3h0M293.3 563.3h0M358.8 555.8h0M381.6 531.8h0M340.5 572.4h0M342.2 523.2h0M397.7 523.4h0M351.0 520.3h0M373.9 544.2h0M393.2 505.8h0M374.9 541.6h0M400.3 539.6h0M314.4 576.4h0M386.7 529.2h0M373.7 542.9h0M392.9 523.1h0M375.2 541.4h0M394.3 526.5h0M388.9 537.3h0M375.7 548.0h0M368.7 549.7h0M384.5 541.0h0M405.0 510.9h0M396.2 519.5h0M395.6 524.3h0M359.0 518.0h0M358.0 514.9h0M310.7 559.7h0M310.4 559.5h0M418.9 496.0h0M321.9 574.1h0M375.2 540.3h0M372.4 548.0h0M389.6 524.0h0M357.7 558.0h0M331.9 530.5h0M398.1 526.2h0M385.5 503.6h0M366.3 514.7h0M364.7 549.7h0M366.7 557.9h0M397.3 528.2h0M302.8 559.8h0M402.2 513.0h0M371.3 543.7h0M404.3 505.9h0M383.0 530.5h0M300.2 565.9h0M393.0 501.7h0M403.4 506.1h0M325.1 572.3h0M310.2 559.3h0M416.2 504.2h0M308.3 563.6h0M407.8 502.1h0M303.0 553.7h0M422.8 513.6h0M393.5 522.7h0M306.6 558.3h0M403.4 524.6h0M370.4 553.6h0M388.9 530.3h0M313.0 537.0h0M292.8 563.9h0M372.4 546.1h0M381.5 532.5h0M389.7 501.2h0M396.7 528.1h0M381.4 548.2h0M382.4 539.0h0M358.8 518.7h0M373.2 543.5h0M352.5 520.1h0M395.1 523.9h0M380.3 506.9h0M305.1 504.8h0M284.1 530.7h0M412.0 495.3h0M435.5 515.3h0M402.0 491.0h0M330.0 575.0h0M340.0 578.0h0M350.0 573.0h0M360.0 566.0h0M366.0 561.0h0" stroke="#d2d2d2" stroke-width="2.7" stroke-linecap="round" fill="none"/><path d="M370.7,525.1 L381.2,521.6 L391.7,516.4 L402.2,512.9 L409.2,511.8 L407.5,518.1 L395.2,523.4 L381.2,526.9 L370.7,527.9Z" fill="#c92c8f" stroke="#c92c8f" stroke-width="1.6" stroke-linejoin="round"/><path d="M393.8 506.1h0M391.5 516.1h0M393.0 513.6h0M406.7 520.1h0M391.6 513.4h0M391.4 513.2h0M387.8 500.2h0M381.0 521.0h0M396.6 526.6h0M401.0 513.0h0M396.3 513.8h0M391.7 513.7h0M412.0 515.5h0M379.2 516.3h0M411.1 510.0h0M408.5 523.1h0M380.2 516.3h0M401.6 512.0h0M414.3 515.0h0M392.6 526.2h0M400.8 512.9h0M372.5 523.6h0M394.4 513.1h0M397.1 523.9h0M391.1 515.4h0M379.2 522.2h0M395.0 515.3h0M403.2 511.0h0M389.4 513.0h0M377.3 514.7h0M387.2 516.8h0M368.3 525.2h0M402.5 512.4h0M407.6 520.7h0M379.1 516.2h0M377.1 521.5h0M413.7 514.0h0M398.1 522.7h0M392.2 524.2h0M415.6 512.0h0M397.7 513.0h0M410.0 510.4h0M368.4 525.6h0M368.2 526.4h0M417.4 512.6h0M390.8 511.9h0M408.4 519.9h0M380.9 518.4h0M410.5 509.0h0M391.1 524.9h0M380.5 517.4h0M395.9 523.8h0M380.4 516.2h0M388.2 510.2h0M404.4 520.6h0M382.4 520.1h0M391.9 515.4h0M417.4 506.9h0M395.3 527.1h0M399.9 511.7h0M379.0 517.1h0M387.5 526.8h0M375.6 519.0h0M410.4 512.9h0M409.7 511.6h0M402.8 510.7h0M401.4 522.0h0M409.5 510.9h0M368.7 524.5h0M400.0 511.6h0M441.8 466.6h0M419.7 469.0h0M412.7 472.6h0M412.0 474.0h0M436.5 482.4h0M402.2 500.6h0M397.0 498.8h0M405.0 503.0h0M414.0 506.0h0M418.0 507.5h0M410.0 500.0h0" stroke="#c92c8f" stroke-width="2.8" stroke-linecap="round" fill="none"/><path d="M312.0,551.0 L325.0,546.0 L340.0,543.0 L352.0,541.5 L357.0,543.0 L354.0,548.0 L342.0,552.0 L328.0,556.0 L315.0,559.0Z" fill="#79c4cc" stroke="#79c4cc" stroke-width="1.6" stroke-linejoin="round"/><path d="M308.4 556.3h0M327.8 540.1h0M356.6 545.4h0M310.8 547.9h0M339.9 542.8h0M325.6 541.7h0M327.5 558.6h0M336.3 542.5h0M359.1 543.2h0M329.1 556.4h0M308.3 560.8h0M315.9 559.2h0M321.6 547.2h0M339.2 542.1h0M335.7 543.5h0M353.6 549.4h0M340.6 552.5h0M343.2 540.7h0M337.5 541.5h0M309.3 552.6h0M312.4 558.1h0M311.5 563.7h0M344.8 551.1h0M343.1 554.1h0M339.1 542.1h0M314.2 557.5h0M313.4 554.8h0M339.3 540.8h0M340.6 552.4h0M343.7 542.1h0M321.6 564.5h0M311.9 547.1h0M311.6 559.5h0M323.5 542.5h0M315.6 561.8h0M311.3 555.4h0M332.4 556.0h0M332.9 542.5h0M314.6 559.5h0M356.6 540.3h0M325.4 545.3h0M312.6 559.5h0M358.4 544.0h0M310.3 549.0h0M313.7 558.4h0M295.9 584.4h0M285.8 584.0h0M281.2 581.7h0M303.6 579.0h0M301.1 566.1h0M293.6 559.5h0M300.3 578.6h0M302.6 580.9h0M311.4 584.7h0M308.6 569.2h0M293.1 573.8h0M296.8 585.6h0M328.4 573.2h0M310.7 547.2h0M302.5 572.7h0M305.0 583.1h0M304.4 584.5h0M291.0 589.1h0M300.9 581.5h0M296.4 572.0h0M303.7 572.3h0M296.5 572.3h0M309.7 571.3h0M286.6 590.3h0M290.5 581.0h0M308.8 580.4h0M298.7 593.2h0M309.9 568.1h0M290.4 573.8h0M309.4 585.5h0M283.7 584.9h0M311.5 563.5h0M313.5 565.1h0M306.0 578.8h0M300.1 586.3h0M295.7 571.9h0M293.8 568.5h0M297.0 587.6h0M316.2 570.5h0M288.4 585.1h0M314.4 570.8h0M282.5 584.0h0M297.8 576.2h0M301.7 592.5h0M307.6 578.8h0M307.6 574.1h0M296.0 578.7h0M298.5 572.6h0M310.8 571.2h0M291.6 578.9h0M290.8 581.8h0M310.6 575.8h0M297.9 561.6h0M309.6 576.6h0M301.2 582.6h0M296.3 574.2h0M295.9 581.4h0M314.9 568.1h0M302.0 582.1h0M309.1 579.0h0M307.6 577.8h0M313.6 568.4h0M313.6 571.5h0M283.0 587.5h0M318.2 574.9h0M302.3 568.8h0M295.5 581.0h0M296.2 581.4h0M310.7 587.3h0M290.1 570.9h0M292.2 592.6h0M296.1 580.2h0M318.0 572.9h0M298.2 601.9h0M299.7 579.5h0M310.0 580.8h0M299.5 575.3h0M299.6 572.2h0M291.8 581.0h0M285.2 583.8h0M298.3 577.0h0M311.9 575.9h0M306.7 587.4h0M295.2 588.3h0M283.6 577.5h0M280.8 574.4h0M299.2 576.9h0M315.8 570.7h0M305.6 578.6h0M312.1 585.7h0M308.0 567.3h0M304.5 571.9h0M294.8 592.2h0M288.5 579.6h0M304.5 577.8h0M294.9 582.2h0M291.3 589.5h0M305.5 561.8h0M310.2 583.6h0M307.0 573.6h0M289.5 587.3h0M297.1 560.3h0M303.0 581.6h0M301.4 569.6h0M295.2 587.1h0M302.7 568.5h0M286.8 570.6h0M300.7 578.0h0M300.1 581.8h0M303.7 567.9h0M301.7 567.6h0M305.3 582.5h0M298.3 576.9h0M308.8 581.1h0M304.2 584.2h0M309.7 562.2h0M312.8 565.1h0M297.8 584.8h0M298.9 583.9h0M296.1 582.6h0M304.1 568.0h0M303.1 576.4h0M308.8 577.7h0M311.3 576.4h0M318.3 569.2h0M310.8 597.5h0M305.6 579.7h0M290.7 573.2h0M286.2 601.2h0M312.7 579.7h0M304.7 583.7h0M302.7 575.6h0M291.2 586.9h0M303.7 566.3h0M309.1 570.3h0M284.9 581.6h0M293.9 569.4h0M308.4 582.7h0M306.9 583.6h0M306.2 570.9h0M295.3 573.3h0M302.7 587.9h0M302.0 576.2h0M309.2 575.2h0M310.3 570.2h0M296.6 565.1h0M301.1 589.1h0M321.6 577.1h0M304.7 570.2h0M318.5 587.7h0M295.6 594.9h0M297.3 580.6h0M293.8 581.9h0M307.9 574.3h0M309.5 582.9h0M300.7 564.1h0M309.5 583.4h0M314.6 573.1h0M307.4 567.2h0M293.4 597.2h0M317.5 577.5h0M313.9 582.5h0M305.9 575.2h0M308.2 569.6h0M303.0 571.8h0M293.4 594.7h0M316.6 568.8h0M298.7 577.1h0M306.8 576.1h0M305.1 573.3h0M308.7 585.0h0M299.7 575.9h0M310.2 580.6h0M315.7 570.8h0M311.7 569.0h0M318.5 574.4h0M302.6 577.5h0M316.1 574.0h0M312.4 574.7h0M312.0 567.8h0M317.4 574.3h0M306.1 574.5h0M318.9 570.6h0M308.2 579.3h0M303.3 586.9h0M304.7 574.3h0M306.6 573.4h0M299.9 582.1h0M275.5 590.7h0M317.9 578.2h0M275.4 590.0h0M285.9 614.5h0M309.3 607.5h0M290.0 581.0h0M272.0 585.0h0M295.0 596.0h0M284.0 562.0h0M287.0 565.0h0M300.0 594.0h0M304.0 598.0h0" stroke="#79c4cc" stroke-width="2.8" stroke-linecap="round" fill="none"/><line x1="275.4" y1="578.4" x2="442.5" y2="499.9" stroke="#777" stroke-width="0.7"/><text x="379.8" y="591.0" font-size="5.9" fill="#222">p-value &lt; 2.2e-16</text><text x="379.8" y="603.4" font-size="5.9" fill="#222">R = 0.7802614</text><text transform="translate(454.90 433.10) scale(1.0 1)" font-size="13.2" fill="#1a1a1a" stroke="#1a1a1a" stroke-width="0.35">i</text><rect x="537.2" y="425.3" width="47.6" height="13.7" fill="#fff" stroke="#444" stroke-width="0.8"/><text x="561.0" y="435.4" font-size="8.4" text-anchor="middle" fill="#222">mRNA-seq</text><rect x="532.3" y="525.0" width="59.3" height="14.7" fill="#fff" stroke="#444" stroke-width="0.8"/><text x="562.0" y="535.6" font-size="8.4" text-anchor="middle" fill="#222">m6A-RIP-seq</text><clipPath id="clip508477"><circle cx="508.6" cy="477" r="36.4"/></clipPath><circle cx="531.2" cy="477.0" r="21.00" fill="#bccbeb"/><circle cx="508.6" cy="477.0" r="36.40" fill="#9fb6e1"/><circle cx="531.2" cy="477" r="21" fill="#88a4dc" clip-path="url(#clip508477)"/><text x="509.0" y="457.7" font-size="7.3" text-anchor="middle" fill="#262626">Genes</text><text x="489.9" y="478.3" font-size="7.6" text-anchor="middle" fill="#222">606</text><text x="526.5" y="478.3" font-size="7.6" text-anchor="middle" fill="#222">227</text><text x="550.2" y="478.3" font-size="7.6" text-anchor="middle" fill="#222">38</text><text x="463.3" y="502.2" font-size="7.6" text-anchor="middle" fill="#222">KO</text><line x1="471.9" y1="497.4" x2="487.3" y2="495.3" stroke="#333" stroke-width="0.6"/><text x="538.3" y="505.4" font-size="7.3" fill="#222">ΔRRM1</text><line x1="543.7" y1="490.0" x2="547.2" y2="496.7" stroke="#333" stroke-width="0.6"/><clipPath id="clip618477"><circle cx="618" cy="477.8" r="39"/></clipPath><circle cx="643.4" cy="478.0" r="19.30" fill="#fbab9f"/><circle cx="618.0" cy="477.8" r="39.00" fill="#fa9282"/><circle cx="643.4" cy="478" r="19.3" fill="#f77262" clip-path="url(#clip618477)"/><text x="618.4" y="457.7" font-size="7.3" text-anchor="middle" fill="#262626">Genes</text><text x="607.0" y="478.3" font-size="7.6" text-anchor="middle" fill="#222">838</text><text x="640.2" y="478.3" font-size="7.6" text-anchor="middle" fill="#222">226</text><text x="661.8" y="478.3" font-size="7.6" text-anchor="middle" fill="#222">27</text><text x="654.0" y="460.2" font-size="7.3" fill="#222">ΔRRM1</text><line x1="662.2" y1="461.2" x2="657.9" y2="467.7" stroke="#333" stroke-width="0.6"/><text x="651.4" y="513.3" font-size="7.6" fill="#222">KO</text><line x1="638.6" y1="505.8" x2="650.8" y2="509.3" stroke="#333" stroke-width="0.6"/><clipPath id="clip508576"><circle cx="508.5" cy="576" r="38.4"/></clipPath><circle cx="538.6" cy="576.0" r="13.60" fill="#bde5e8"/><circle cx="508.5" cy="576.0" r="38.40" fill="#a4dade"/><circle cx="538.6" cy="576" r="13.6" fill="#8dd0d7" clip-path="url(#clip508576)"/><text x="509.0" y="558.3" font-size="7.3" text-anchor="middle" fill="#262626">m6A peaks</text><text x="504.3" y="578.3" font-size="7.6" text-anchor="middle" fill="#222">1744</text><text x="533.6" y="578.3" font-size="7.6" text-anchor="middle" fill="#222">199</text><text x="551.3" y="578.3" font-size="7.6" text-anchor="middle" fill="#222">33</text><text x="461.2" y="605.0" font-size="7.6" text-anchor="middle" fill="#222">KO</text><line x1="469.8" y1="601.0" x2="485.2" y2="598.3" stroke="#333" stroke-width="0.6"/><text x="541.3" y="601.2" font-size="7.3" fill="#222">ΔRRM1</text><line x1="547.2" y1="586.0" x2="550.4" y2="592.2" stroke="#333" stroke-width="0.6"/><text x="510.3" y="628.2" font-size="8.6" text-anchor="middle" fill="#262626">Downregulated</text><clipPath id="clip623577"><circle cx="623.3" cy="577" r="42.2"/></clipPath><circle cx="649.8" cy="576.7" r="16.00" fill="#e9a9dc"/><circle cx="623.3" cy="577.0" r="42.20" fill="#e394d1"/><circle cx="649.8" cy="576.7" r="16" fill="#da7dc8" clip-path="url(#clip623577)"/><text x="622.0" y="555.6" font-size="7.3" text-anchor="middle" fill="#262626">m6A peaks</text><text x="613.0" y="578.3" font-size="7.6" text-anchor="middle" fill="#222">2418</text><text x="646.9" y="578.3" font-size="7.6" text-anchor="middle" fill="#222">409</text><text x="667.5" y="578.3" font-size="7.6" text-anchor="middle" fill="#222">14</text><text x="660.5" y="561.3" font-size="7.3" fill="#222">ΔRRM1</text><line x1="666.3" y1="562.4" x2="658.7" y2="566.8" stroke="#333" stroke-width="0.6"/><text x="665.7" y="607.2" font-size="7.6" fill="#222">KO</text><line x1="652.6" y1="600.0" x2="664.0" y2="603.2" stroke="#333" stroke-width="0.6"/><text x="623.0" y="628.2" font-size="8.6" text-anchor="middle" fill="#262626">Upregulated</text><text transform="translate(0.20 663.30) scale(1.0 1)" font-size="13.0" fill="#1a1a1a" stroke="#1a1a1a" stroke-width="0.35">j</text><line x1="27.2" y1="664.0" x2="27.2" y2="868.4" stroke="#888" stroke-width="0.8"/><line x1="27.2" y1="868.4" x2="208.6" y2="868.4" stroke="#888" stroke-width="0.8"/><line x1="25.2" y1="868.4" x2="27.2" y2="868.4" stroke="#888" stroke-width="0.7"/><text x="24.4" y="870.6" font-size="6.3" text-anchor="end" fill="#444">0</text><line x1="25.2" y1="827.6" x2="27.2" y2="827.6" stroke="#888" stroke-width="0.7"/><text x="24.4" y="829.8" font-size="6.3" text-anchor="end" fill="#444">2</text><line x1="25.2" y1="786.8" x2="27.2" y2="786.8" stroke="#888" stroke-width="0.7"/><text x="24.4" y="789.0" font-size="6.3" text-anchor="end" fill="#444">4</text><line x1="25.2" y1="746.0" x2="27.2" y2="746.0" stroke="#888" stroke-width="0.7"/><text x="24.4" y="748.2" font-size="6.3" text-anchor="end" fill="#444">6</text><line x1="25.2" y1="705.2" x2="27.2" y2="705.2" stroke="#888" stroke-width="0.7"/><text x="24.4" y="707.4" font-size="6.3" text-anchor="end" fill="#444">8</text><line x1="25.2" y1="664.4" x2="27.2" y2="664.4" stroke="#888" stroke-width="0.7"/><text x="24.4" y="666.6" font-size="6.3" text-anchor="end" fill="#444">10</text><line x1="46.5" y1="868.4" x2="46.5" y2="869.9" stroke="#888" stroke-width="0.7"/><text x="46.5" y="877.0" font-size="6.3" text-anchor="middle" fill="#444">−1</text><line x1="97.1" y1="868.4" x2="97.1" y2="869.9" stroke="#888" stroke-width="0.7"/><text x="97.1" y="877.0" font-size="6.3" text-anchor="middle" fill="#444">0</text><line x1="147.7" y1="868.4" x2="147.7" y2="869.9" stroke="#888" stroke-width="0.7"/><text x="147.7" y="877.0" font-size="6.3" text-anchor="middle" fill="#444">1</text><line x1="207.5" y1="868.4" x2="207.5" y2="869.9" stroke="#888" stroke-width="0.7"/><text x="207.5" y="877.0" font-size="6.3" text-anchor="middle" fill="#444">2</text><text x="106.5" y="884.2" font-size="7.9" text-anchor="middle" fill="#333">log<tspan font-size="5.6" dy="2">2</tspan><tspan dy="-2"> fold change</tspan></text><text transform="translate(17.8 780.8) rotate(-90)" font-size="8.3" text-anchor="middle" fill="#333">− log<tspan font-size="5.6" dy="2">10</tspan><tspan dy="-2"> adjusted p−value</tspan></text><rect x="37.6" y="671.9" width="88.3" height="43.3" fill="#fff" stroke="#444" stroke-width="0.8"/><text x="82.3" y="686.0" font-size="8.6" text-anchor="middle" fill="#262626">SWI/SNF subunits</text><text x="82.3" y="695.8" font-size="8.6" text-anchor="middle" fill="#262626">m6A-RIP-seq</text><text x="82.3" y="705.9" font-size="8.6" text-anchor="middle" fill="#262626">(RBM15 KO / NT)</text><path d="M89.9 862.8h0M94.1 866.5h0M95.2 867.1h0M86.6 858.4h0M86.7 857.7h0M89.4 860.9h0M80.0 856.5h0M96.5 866.4h0M94.2 866.2h0M77.3 848.6h0M80.0 853.6h0M96.2 867.4h0M79.1 851.6h0M81.4 854.2h0M76.9 846.5h0M80.2 853.6h0M78.0 853.6h0M92.3 867.2h0M92.9 865.2h0M80.4 849.4h0M74.4 847.1h0M81.0 852.7h0M77.3 845.5h0M82.1 852.3h0M83.0 851.9h0M88.5 863.5h0M95.7 867.9h0M96.0 866.9h0M93.8 867.2h0M76.4 845.9h0M84.9 853.0h0M75.2 846.9h0M90.3 857.6h0M93.6 866.2h0M89.6 863.5h0M91.7 862.6h0M85.1 858.3h0M78.1 850.5h0M119.2 838.3h0M121.3 826.7h0M107.9 855.5h0M115.8 840.3h0M103.7 864.7h0M99.3 867.5h0M99.7 866.8h0M121.8 820.5h0M103.6 863.0h0M103.0 861.4h0M110.0 851.0h0M99.4 867.7h0M121.2 825.4h0M123.9 814.3h0M114.3 846.5h0M126.7 809.9h0M104.0 862.0h0M117.2 829.0h0M107.0 861.4h0M127.0 808.8h0M120.7 824.6h0M111.8 848.1h0M97.6 868.0h0M118.4 835.3h0M127.4 815.4h0M107.7 857.7h0M103.2 866.1h0M123.9 817.2h0M116.1 838.0h0M118.1 836.4h0M117.9 831.5h0M118.7 831.1h0M124.1 813.7h0M124.3 813.8h0M102.3 868.0h0M121.9 829.6h0M124.8 810.4h0M113.1 846.0h0M124.2 810.9h0M121.7 817.5h0M121.2 826.6h0M105.6 862.3h0M103.9 861.8h0M122.5 819.7h0M115.0 842.5h0M122.0 817.4h0M113.6 847.6h0M104.6 864.2h0M99.9 865.0h0M112.4 847.2h0M113.2 844.5h0M113.3 846.5h0M117.7 829.5h0M120.2 829.6h0M113.2 841.5h0M115.6 836.4h0M112.7 849.2h0M123.4 820.5h0M115.6 843.9h0M102.0 866.9h0M99.1 867.8h0M117.0 833.7h0M101.1 862.5h0M103.7 862.3h0M104.6 862.3h0M113.6 849.4h0M100.3 865.8h0M107.2 859.2h0M119.6 833.8h0M110.9 852.6h0M72.7 842.3h0M80.6 845.8h0M79.7 855.5h0M78.8 861.6h0M85.8 857.2h0M89.3 859.9h0M91.0 865.0h0M120.0 831.8h0M119.0 819.6h0M122.9 811.3h0M126.4 810.4h0M124.7 816.6h0M121.2 823.6h0M125.5 825.3h0" stroke="#d6d6d6" stroke-width="3.4" stroke-linecap="round" fill="none"/><path d="M136.9 768.0h0M145.2 777.5h0M153.9 783.3h0M135.7 779.4h0M135.2 781.5h0M132.2 784.7h0M134.3 786.0h0M133.4 788.9h0M134.0 790.6h0M128.2 794.7h0M131.2 795.5h0M130.8 807.0h0M129.9 808.2h0M135.7 807.0h0M162.7 825.9h0M129.6 834.4h0M145.2 684.0h0M142.0 707.2h0" stroke="#d45cb4" stroke-width="3.6" stroke-linecap="round" fill="none"/><path d="M64.3 821.7h0M66.0 821.7h0M68.0 821.7h0" stroke="#76cdd6" stroke-width="3.6" stroke-linecap="round" fill="none"/><text x="121.2" y="765.8" font-size="6.3" fill="#222">Smarcc1</text><text x="124.7" y="774.9" font-size="6.3" fill="#222">Smarce1</text><text x="96.1" y="778.9" font-size="6.3" fill="#222">Smarcc1</text><text x="100.1" y="785.0" font-size="6.3" fill="#222">Smarce1</text><text x="138.7" y="790.0" font-size="6.3" fill="#222">Smarcc1</text><text x="87.4" y="792.9" font-size="6.3" fill="#222">Smarcc1</text><text x="135.7" y="795.9" font-size="6.3" fill="#222">Smarcc1</text><text x="82.1" y="800.5" font-size="6.3" fill="#222">Smarce1</text><text x="132.2" y="802.6" font-size="6.3" fill="#222">Arid1a</text><text x="96.6" y="808.3" font-size="6.3" fill="#222">Smarcc1</text><text x="138.7" y="811.0" font-size="6.3" fill="#222">Pbrm1</text><text x="134.7" y="818.7" font-size="6.3" fill="#222">Pbrm1</text><text x="155.0" y="776.6" font-size="6.3" fill="#222">Arid2</text><text x="158.8" y="782.8" font-size="6.3" fill="#222">Arid1b</text><text x="161.1" y="824.0" font-size="6.3" fill="#222">Arid2</text><text x="132.2" y="836.7" font-size="6.3" fill="#222">Bcl7c</text><text x="64.8" y="819.6" font-size="6.3" fill="#222">Bcl7b</text><text x="52.9" y="829.2" font-size="6.3" fill="#222">Bcl7a</text><text x="149.3" y="687.0" font-size="6.3" fill="#222">Smarcc1</text><text x="146.1" y="711.0" font-size="6.3" fill="#222">Smarcc1</text><line x1="126.0" y1="778.0" x2="134.5" y2="781.0" stroke="#333" stroke-width="0.5"/><line x1="121.0" y1="789.5" x2="132.5" y2="789.0" stroke="#333" stroke-width="0.5"/><line x1="112.0" y1="798.0" x2="127.0" y2="795.5" stroke="#333" stroke-width="0.5"/><line x1="121.5" y1="804.5" x2="129.0" y2="806.5" stroke="#333" stroke-width="0.5"/><line x1="131.2" y1="810.0" x2="133.5" y2="814.0" stroke="#333" stroke-width="0.5"/><line x1="147.0" y1="776.5" x2="151.0" y2="775.0" stroke="#333" stroke-width="0.5"/><line x1="155.5" y1="782.5" x2="158.0" y2="781.0" stroke="#333" stroke-width="0.5"/><text transform="translate(210.40 662.80) scale(0.9 1)" font-size="13.4" fill="#1a1a1a" stroke="#1a1a1a" stroke-width="0.35">k</text><rect x="237.6" y="672.3" width="24.8" height="13.7" fill="#dcdcdb"/><rect x="262.4" y="672.3" width="24.8" height="13.7" fill="#dcdcdb"/><text x="235.3" y="681.4" font-size="7.0" text-anchor="end" fill="#262626">Actb</text><rect x="237.6" y="685.7" width="24.8" height="13.7" fill="#dcdcdb"/><rect x="262.4" y="685.7" width="24.8" height="13.7" fill="#dcdcdb"/><text x="235.3" y="694.8" font-size="7.0" text-anchor="end" fill="#262626">Actl6a</text><rect x="237.6" y="699.0" width="24.8" height="13.7" fill="#dcdcdb"/><rect x="262.4" y="699.0" width="24.8" height="13.7" fill="#dcdcdb"/><text x="235.3" y="708.1" font-size="7.0" text-anchor="end" fill="#262626">Actl6b</text><rect x="237.6" y="712.4" width="24.8" height="13.7" fill="#f07060"/><rect x="262.4" y="712.4" width="24.8" height="13.7" fill="#f07060"/><text x="235.3" y="721.5" font-size="7.0" text-anchor="end" fill="#262626">Arid1a</text><rect x="237.6" y="725.8" width="24.8" height="13.7" fill="#f07060"/><rect x="262.4" y="725.8" width="24.8" height="13.7" fill="#f07060"/><text x="235.3" y="734.9" font-size="7.0" text-anchor="end" fill="#262626">Arid1b</text><rect x="237.6" y="739.1" width="24.8" height="13.7" fill="#f07060"/><rect x="262.4" y="739.1" width="24.8" height="13.7" fill="#f07060"/><text x="235.3" y="748.2" font-size="7.0" text-anchor="end" fill="#262626">Arid2</text><rect x="237.6" y="752.5" width="24.8" height="13.7" fill="#dcdcdb"/><rect x="262.4" y="752.5" width="24.8" height="13.7" fill="#7fa2d8"/><text x="235.3" y="761.6" font-size="7.0" text-anchor="end" fill="#262626">Bcl7a</text><rect x="237.6" y="765.9" width="24.8" height="13.7" fill="#7fa2d8"/><rect x="262.4" y="765.9" width="24.8" height="13.7" fill="#7fa2d8"/><text x="235.3" y="775.0" font-size="7.0" text-anchor="end" fill="#262626">Bcl7b</text><rect x="237.6" y="779.3" width="24.8" height="13.7" fill="#f07060"/><rect x="262.4" y="779.3" width="24.8" height="13.7" fill="#f07060"/><text x="235.3" y="788.3" font-size="7.0" text-anchor="end" fill="#262626">Bcl7c</text><rect x="237.6" y="792.6" width="24.8" height="13.7" fill="#f07060"/><rect x="262.4" y="792.6" width="24.8" height="13.7" fill="#dcdcdb"/><text x="235.3" y="801.7" font-size="7.0" text-anchor="end" fill="#262626">Bicra</text><rect x="237.6" y="806.0" width="24.8" height="13.7" fill="#dcdcdb"/><rect x="262.4" y="806.0" width="24.8" height="13.7" fill="#dcdcdb"/><text x="235.3" y="815.1" font-size="7.0" text-anchor="end" fill="#262626">Bicral</text><rect x="237.6" y="819.4" width="24.8" height="13.7" fill="#dcdcdb"/><rect x="262.4" y="819.4" width="24.8" height="13.7" fill="#dcdcdb"/><text x="235.3" y="828.5" font-size="7.0" text-anchor="end" fill="#262626">Brd7</text><rect x="237.6" y="832.7" width="24.8" height="13.7" fill="#dcdcdb"/><rect x="262.4" y="832.7" width="24.8" height="13.7" fill="#dcdcdb"/><text x="235.3" y="841.8" font-size="7.0" text-anchor="end" fill="#262626">Brd9</text><rect x="237.6" y="846.1" width="24.8" height="13.7" fill="#dcdcdb"/><rect x="262.4" y="846.1" width="24.8" height="13.7" fill="#dcdcdb"/><text x="235.3" y="855.2" font-size="7.0" text-anchor="end" fill="#262626">Dpf1</text><rect x="237.6" y="859.5" width="24.8" height="13.7" fill="#7fa2d8"/><rect x="262.4" y="859.5" width="24.8" height="13.7" fill="#dcdcdb"/><text x="235.3" y="868.6" font-size="7.0" text-anchor="end" fill="#262626">Dpf2</text><line x1="262.4" y1="672.3" x2="262.4" y2="872.8" stroke="#9a9a9a" stroke-width="0.6"/><text x="249.2" y="666.3" font-size="8.5" text-anchor="middle" fill="#222">mRNA</text><text x="276.4" y="666.3" font-size="8.5" text-anchor="middle" fill="#222">m6A</text><rect x="330.3" y="671.9" width="24.5" height="13.6" fill="#dcdcdb"/><rect x="354.8" y="671.9" width="24.9" height="13.6" fill="#dcdcdb"/><text x="327.9" y="680.9" font-size="7.0" text-anchor="end" fill="#262626">Dpf3</text><rect x="330.3" y="685.1" width="24.5" height="13.6" fill="#dcdcdb"/><rect x="354.8" y="685.1" width="24.9" height="13.6" fill="#dcdcdb"/><text x="327.9" y="694.2" font-size="7.0" text-anchor="end" fill="#262626">Phf10</text><rect x="330.3" y="698.4" width="24.5" height="13.6" fill="#f07060"/><rect x="354.8" y="698.4" width="24.9" height="13.6" fill="#f07060"/><text x="327.9" y="707.4" font-size="7.0" text-anchor="end" fill="#262626">Pbrm1</text><rect x="330.3" y="711.6" width="24.5" height="13.6" fill="#dcdcdb"/><rect x="354.8" y="711.6" width="24.9" height="13.6" fill="#dcdcdb"/><text x="327.9" y="720.7" font-size="7.0" text-anchor="end" fill="#262626">Smarca2</text><rect x="330.3" y="724.9" width="24.5" height="13.6" fill="#dcdcdb"/><rect x="354.8" y="724.9" width="24.9" height="13.6" fill="#dcdcdb"/><text x="327.9" y="733.9" font-size="7.0" text-anchor="end" fill="#262626">Smarca4</text><rect x="330.3" y="738.1" width="24.5" height="13.6" fill="#7fa2d8"/><rect x="354.8" y="738.1" width="24.9" height="13.6" fill="#dcdcdb"/><text x="327.9" y="747.2" font-size="7.0" text-anchor="end" fill="#262626">Smarcb1</text><rect x="330.3" y="751.4" width="24.5" height="13.6" fill="#f07060"/><rect x="354.8" y="751.4" width="24.9" height="13.6" fill="#f07060"/><text x="327.9" y="760.4" font-size="7.0" text-anchor="end" fill="#262626">Smarcc1</text><rect x="330.3" y="764.6" width="24.5" height="13.6" fill="#f07060"/><rect x="354.8" y="764.6" width="24.9" height="13.6" fill="#dcdcdb"/><text x="327.9" y="773.7" font-size="7.0" text-anchor="end" fill="#262626">Smarcc2</text><rect x="330.3" y="777.9" width="24.5" height="13.6" fill="#dcdcdb"/><rect x="354.8" y="777.9" width="24.9" height="13.6" fill="#dcdcdb"/><text x="327.9" y="786.9" font-size="7.0" text-anchor="end" fill="#262626">Smarcd1</text><rect x="330.3" y="791.1" width="24.5" height="13.6" fill="#dcdcdb"/><rect x="354.8" y="791.1" width="24.9" height="13.6" fill="#dcdcdb"/><text x="327.9" y="800.2" font-size="7.0" text-anchor="end" fill="#262626">Smarcd2</text><rect x="330.3" y="804.4" width="24.5" height="13.6" fill="#7fa2d8"/><rect x="354.8" y="804.4" width="24.9" height="13.6" fill="#dcdcdb"/><text x="327.9" y="813.4" font-size="7.0" text-anchor="end" fill="#262626">Smarcd3</text><rect x="330.3" y="817.6" width="24.5" height="13.6" fill="#f07060"/><rect x="354.8" y="817.6" width="24.9" height="13.6" fill="#f07060"/><text x="327.9" y="826.7" font-size="7.0" text-anchor="end" fill="#262626">Smarce1</text><rect x="330.3" y="830.9" width="24.5" height="13.6" fill="#dcdcdb"/><rect x="354.8" y="830.9" width="24.9" height="13.6" fill="#dcdcdb"/><text x="327.9" y="839.9" font-size="7.0" text-anchor="end" fill="#262626">Ss18</text><rect x="330.3" y="844.1" width="24.5" height="13.6" fill="#dcdcdb"/><rect x="354.8" y="844.1" width="24.9" height="13.6" fill="#dcdcdb"/><text x="327.9" y="853.2" font-size="7.0" text-anchor="end" fill="#262626">Ss18l1</text><line x1="354.8" y1="671.9" x2="354.8" y2="857.4" stroke="#9a9a9a" stroke-width="0.6"/><text x="341.6" y="666.4" font-size="8.5" text-anchor="middle" fill="#222">mRNA</text><text x="368.8" y="666.4" font-size="8.5" text-anchor="middle" fill="#222">m6A</text><text x="355.0" y="870.2" font-size="7.3" text-anchor="middle" fill="#222">FDR&lt;0.05</text><rect x="330.3" y="872.7" width="24.7" height="14.0" fill="#7fa2d8"/><rect x="355.0" y="872.7" width="24.7" height="14.0" fill="#f07060"/><text x="342.6" y="882.6" font-size="7.1" text-anchor="middle" fill="#222">DOWN</text><text x="367.1" y="882.6" font-size="7.1" text-anchor="middle" fill="#222">UP</text><text transform="translate(389.60 662.20) scale(0.95 1)" font-size="12.8" fill="#1a1a1a" stroke="#1a1a1a" stroke-width="0.35">l</text><line x1="416.2" y1="652.0" x2="416.2" y2="710.3" stroke="#666" stroke-width="0.7"/><text x="413.2" y="655.9" font-size="6.2" text-anchor="end" fill="#222">2000</text><text x="413.2" y="710.7" font-size="6.2" text-anchor="end" fill="#222">0</text><rect x="424.2" y="653.4" width="1.5" height="56.9" fill="#f5a5a8"/><rect x="424.2" y="672.4" width="1.5" height="17.1" fill="#ee5560"/><rect x="424.2" y="679.0" width="1.5" height="31.3" fill="#aab8e4"/><rect x="444.1" y="669.2" width="1.5" height="41.1" fill="#f5a5a8"/><rect x="444.1" y="680.0" width="1.5" height="12.3" fill="#ee5560"/><rect x="444.1" y="687.7" width="1.5" height="22.6" fill="#aab8e4"/><rect x="462.6" y="667.8" width="1.5" height="42.5" fill="#f5a5a8"/><rect x="462.6" y="682.5" width="1.5" height="12.8" fill="#ee5560"/><rect x="462.6" y="686.9" width="1.5" height="23.4" fill="#aab8e4"/><rect x="469.8" y="659.0" width="1.5" height="51.3" fill="#f5a5a8"/><rect x="469.8" y="673.0" width="1.5" height="15.4" fill="#ee5560"/><rect x="469.8" y="682.1" width="1.5" height="28.2" fill="#aab8e4"/><rect x="484.4" y="661.1" width="1.5" height="49.2" fill="#f5a5a8"/><rect x="484.4" y="674.6" width="1.5" height="14.8" fill="#ee5560"/><rect x="484.4" y="683.2" width="1.5" height="27.1" fill="#aab8e4"/><rect x="517.8" y="682.9" width="1.5" height="27.4" fill="#f5a5a8"/><rect x="517.8" y="691.5" width="1.5" height="8.2" fill="#ee5560"/><rect x="517.8" y="695.2" width="1.5" height="15.1" fill="#aab8e4"/><rect x="523.5" y="690.5" width="1.5" height="19.8" fill="#f5a5a8"/><rect x="523.5" y="697.0" width="1.5" height="5.9" fill="#ee5560"/><rect x="523.5" y="699.4" width="1.5" height="10.9" fill="#aab8e4"/><rect x="535.4" y="699.7" width="1.5" height="10.6" fill="#f5a5a8"/><rect x="535.4" y="702.7" width="1.5" height="3.2" fill="#ee5560"/><rect x="535.4" y="704.5" width="1.5" height="5.8" fill="#aab8e4"/><rect x="542.0" y="704.2" width="1.5" height="6.1" fill="#f5a5a8"/><rect x="542.0" y="705.9" width="1.5" height="1.8" fill="#ee5560"/><rect x="542.0" y="706.9" width="1.5" height="3.4" fill="#aab8e4"/><rect x="548.5" y="704.8" width="1.5" height="5.5" fill="#f5a5a8"/><rect x="548.5" y="706.4" width="1.5" height="1.6" fill="#ee5560"/><rect x="548.5" y="707.3" width="1.5" height="3.0" fill="#aab8e4"/><rect x="566.6" y="703.4" width="1.5" height="6.9" fill="#f5a5a8"/><rect x="566.6" y="705.5" width="1.5" height="2.1" fill="#ee5560"/><rect x="566.6" y="706.5" width="1.5" height="3.8" fill="#aab8e4"/><rect x="599.6" y="702.0" width="1.5" height="8.3" fill="#f5a5a8"/><rect x="599.6" y="704.5" width="1.5" height="2.5" fill="#ee5560"/><rect x="599.6" y="705.7" width="1.5" height="4.6" fill="#aab8e4"/><rect x="608.9" y="687.7" width="1.5" height="22.6" fill="#f5a5a8"/><rect x="608.9" y="694.4" width="1.5" height="6.8" fill="#ee5560"/><rect x="608.9" y="697.9" width="1.5" height="12.4" fill="#aab8e4"/><rect x="638.1" y="677.7" width="1.5" height="32.6" fill="#f5a5a8"/><rect x="638.1" y="686.7" width="1.5" height="9.8" fill="#ee5560"/><rect x="638.1" y="692.4" width="1.5" height="17.9" fill="#aab8e4"/><rect x="649.2" y="657.8" width="1.5" height="52.5" fill="#f5a5a8"/><rect x="649.2" y="671.5" width="1.5" height="15.8" fill="#ee5560"/><rect x="649.2" y="681.4" width="1.5" height="28.9" fill="#aab8e4"/><rect x="660.0" y="653.5" width="1.5" height="56.8" fill="#f5a5a8"/><rect x="660.0" y="673.2" width="1.5" height="17.0" fill="#ee5560"/><rect x="660.0" y="679.1" width="1.5" height="31.2" fill="#aab8e4"/><line x1="416.2" y1="710.3" x2="668.8" y2="710.3" stroke="#444" stroke-width="0.8"/><rect x="423.8" y="711.9" width="2.4" height="6.3" fill="#b04a90"/><rect x="443.7" y="711.9" width="2.4" height="6.3" fill="#b04a90"/><rect x="462.1" y="711.9" width="2.4" height="6.3" fill="#b04a90"/><rect x="469.3" y="711.9" width="2.4" height="6.3" fill="#b04a90"/><rect x="484.0" y="711.9" width="2.4" height="6.3" fill="#b04a90"/><rect x="648.8" y="711.9" width="2.4" height="6.3" fill="#b04a90"/><rect x="659.6" y="711.9" width="2.4" height="6.3" fill="#b04a90"/><line x1="419.0" y1="721.5" x2="664.2" y2="721.5" stroke="#aeb8e6" stroke-width="1.5"/><line x1="423.0" y1="720.6" x2="423.0" y2="722.4" stroke="#3447b0" stroke-width="0.5"/><line x1="430.2" y1="720.6" x2="430.2" y2="722.4" stroke="#3447b0" stroke-width="0.5"/><line x1="437.4" y1="720.6" x2="437.4" y2="722.4" stroke="#3447b0" stroke-width="0.5"/><line x1="444.6" y1="720.6" x2="444.6" y2="722.4" stroke="#3447b0" stroke-width="0.5"/><line x1="451.8" y1="720.6" x2="451.8" y2="722.4" stroke="#3447b0" stroke-width="0.5"/><line x1="459.0" y1="720.6" x2="459.0" y2="722.4" stroke="#3447b0" stroke-width="0.5"/><line x1="466.2" y1="720.6" x2="466.2" y2="722.4" stroke="#3447b0" stroke-width="0.5"/><line x1="473.4" y1="720.6" x2="473.4" y2="722.4" stroke="#3447b0" stroke-width="0.5"/><line x1="480.6" y1="720.6" x2="480.6" y2="722.4" stroke="#3447b0" stroke-width="0.5"/><line x1="487.8" y1="720.6" x2="487.8" y2="722.4" stroke="#3447b0" stroke-width="0.5"/><line x1="495.0" y1="720.6" x2="495.0" y2="722.4" stroke="#3447b0" stroke-width="0.5"/><line x1="502.2" y1="720.6" x2="502.2" y2="722.4" stroke="#3447b0" stroke-width="0.5"/><line x1="509.4" y1="720.6" x2="509.4" y2="722.4" stroke="#3447b0" stroke-width="0.5"/><line x1="516.6" y1="720.6" x2="516.6" y2="722.4" stroke="#3447b0" stroke-width="0.5"/><line x1="523.8" y1="720.6" x2="523.8" y2="722.4" stroke="#3447b0" stroke-width="0.5"/><line x1="531.0" y1="720.6" x2="531.0" y2="722.4" stroke="#3447b0" stroke-width="0.5"/><line x1="538.2" y1="720.6" x2="538.2" y2="722.4" stroke="#3447b0" stroke-width="0.5"/><line x1="545.4" y1="720.6" x2="545.4" y2="722.4" stroke="#3447b0" stroke-width="0.5"/><line x1="552.6" y1="720.6" x2="552.6" y2="722.4" stroke="#3447b0" stroke-width="0.5"/><line x1="559.8" y1="720.6" x2="559.8" y2="722.4" stroke="#3447b0" stroke-width="0.5"/><line x1="567.0" y1="720.6" x2="567.0" y2="722.4" stroke="#3447b0" stroke-width="0.5"/><line x1="574.2" y1="720.6" x2="574.2" y2="722.4" stroke="#3447b0" stroke-width="0.5"/><line x1="581.4" y1="720.6" x2="581.4" y2="722.4" stroke="#3447b0" stroke-width="0.5"/><line x1="588.6" y1="720.6" x2="588.6" y2="722.4" stroke="#3447b0" stroke-width="0.5"/><line x1="595.8" y1="720.6" x2="595.8" y2="722.4" stroke="#3447b0" stroke-width="0.5"/><line x1="603.0" y1="720.6" x2="603.0" y2="722.4" stroke="#3447b0" stroke-width="0.5"/><line x1="610.2" y1="720.6" x2="610.2" y2="722.4" stroke="#3447b0" stroke-width="0.5"/><line x1="617.4" y1="720.6" x2="617.4" y2="722.4" stroke="#3447b0" stroke-width="0.5"/><line x1="624.6" y1="720.6" x2="624.6" y2="722.4" stroke="#3447b0" stroke-width="0.5"/><line x1="631.8" y1="720.6" x2="631.8" y2="722.4" stroke="#3447b0" stroke-width="0.5"/><line x1="639.0" y1="720.6" x2="639.0" y2="722.4" stroke="#3447b0" stroke-width="0.5"/><line x1="646.2" y1="720.6" x2="646.2" y2="722.4" stroke="#3447b0" stroke-width="0.5"/><line x1="653.4" y1="720.6" x2="653.4" y2="722.4" stroke="#3447b0" stroke-width="0.5"/><line x1="660.6" y1="720.6" x2="660.6" y2="722.4" stroke="#3447b0" stroke-width="0.5"/><rect x="424.4" y="719.3" width="1.2" height="4.4" fill="#3447b0"/><rect x="444.3" y="719.3" width="1.2" height="4.4" fill="#3447b0"/><rect x="462.7" y="719.3" width="1.2" height="4.4" fill="#3447b0"/><rect x="469.9" y="719.3" width="1.2" height="4.4" fill="#3447b0"/><rect x="484.6" y="719.3" width="1.2" height="4.4" fill="#3447b0"/><rect x="517.9" y="719.3" width="1.2" height="4.4" fill="#3447b0"/><rect x="523.6" y="719.3" width="1.2" height="4.4" fill="#3447b0"/><rect x="535.5" y="719.3" width="1.2" height="4.4" fill="#3447b0"/><rect x="542.1" y="719.3" width="1.2" height="4.4" fill="#3447b0"/><rect x="548.6" y="719.3" width="1.2" height="4.4" fill="#3447b0"/><rect x="566.8" y="719.3" width="1.2" height="4.4" fill="#3447b0"/><rect x="609.0" y="719.3" width="1.2" height="4.4" fill="#3447b0"/><rect x="638.3" y="719.3" width="1.2" height="4.4" fill="#3447b0"/><rect x="649.4" y="719.3" width="1.2" height="4.4" fill="#3447b0"/><rect x="660.2" y="719.3" width="1.2" height="4.4" fill="#3447b0"/><rect x="599.5" y="719.3" width="2.0" height="4.4" fill="#3447b0"/><text x="524.8" y="731.8" font-size="6.0" text-anchor="middle" fill="#222">chr9:110,166,802-110,206,699</text><text x="632.0" y="731.8" font-size="7.6" text-anchor="middle" fill="#222">Smarcc1</text><text x="599.6" y="665.5" font-size="8.3" fill="#f03848">m<tspan font-size="5.0" dy="-3">6</tspan><tspan dy="3">A KO</tspan></text><line x1="631.5" y1="662.0" x2="649.4" y2="667.8" stroke="#222" stroke-width="0.6"/><text x="600.4" y="686.3" font-size="8.3" fill="#5a8ad0">m<tspan font-size="5.0" dy="-3">6</tspan><tspan dy="3">A NT</tspan></text><line x1="631.5" y1="683.4" x2="649.4" y2="690.0" stroke="#222" stroke-width="0.6"/><line x1="415.8" y1="734.2" x2="415.8" y2="792.4" stroke="#666" stroke-width="0.7"/><text x="413.2" y="738.6" font-size="6.2" text-anchor="end" fill="#222">1200</text><text x="413.2" y="792.6" font-size="6.2" text-anchor="end" fill="#222">0</text><path d="M422.8,792.3 L422.8,775.8 L423.8,772.8 L424.9,767.2 L425.9,781.2 L425.9,792.3ZM429.8,792.3 L429.8,784.2 L430.9,769.5 L432.0,780.3 L432.0,792.3ZM436.0,792.3 L436.0,761.3 L437.3,756.9 L438.6,766.1 L438.6,792.3ZM497.8,792.3 L497.8,771.6 L499.0,769.6 L500.2,763.2 L501.4,773.8 L501.4,792.3ZM619.2,792.3 L619.2,784.7 L620.2,776.6 L621.1,775.6 L622.0,777.5 L623.0,785.6 L623.0,792.3ZM628.7,792.3 L628.7,757.8 L629.7,767.7 L630.7,765.8 L631.8,749.0 L632.8,776.6 L633.8,775.4 L633.8,792.3ZM646.3,792.3 L646.3,763.6 L647.3,771.6 L648.3,779.9 L649.3,762.1 L650.4,761.9 L651.4,779.4 L652.4,773.3 L652.4,792.3Z" fill="#a9c1e9"/><path d="M425.0,764.4V779.7M423.7,777.0V786.7M431.3,767.0V780.9M430.5,778.4V787.2M437.8,753.0V774.6M436.8,770.7V784.4M500.3,760.0V777.8M498.9,774.5V785.8M621.9,773.7V783.9M620.3,782.1V788.6M632.3,744.2V770.7M630.2,765.8V782.7M650.6,758.5V777.1M648.1,773.7V785.5" stroke="#f26670" stroke-width="0.7" fill="none"/><path d="M519,792.3 L521,791 L524,791.2 L526,792.3Z" fill="#f3a0a6"/><line x1="415.8" y1="792.3" x2="668.5" y2="792.3" stroke="#444" stroke-width="0.8"/><line x1="415.1" y1="804.3" x2="658.5" y2="804.3" stroke="#3447b0" stroke-width="0.9"/><line x1="419.1" y1="803.4" x2="419.1" y2="805.2" stroke="#3447b0" stroke-width="0.5"/><line x1="426.3" y1="803.4" x2="426.3" y2="805.2" stroke="#3447b0" stroke-width="0.5"/><line x1="433.5" y1="803.4" x2="433.5" y2="805.2" stroke="#3447b0" stroke-width="0.5"/><line x1="440.7" y1="803.4" x2="440.7" y2="805.2" stroke="#3447b0" stroke-width="0.5"/><line x1="447.9" y1="803.4" x2="447.9" y2="805.2" stroke="#3447b0" stroke-width="0.5"/><line x1="455.1" y1="803.4" x2="455.1" y2="805.2" stroke="#3447b0" stroke-width="0.5"/><line x1="462.3" y1="803.4" x2="462.3" y2="805.2" stroke="#3447b0" stroke-width="0.5"/><line x1="469.5" y1="803.4" x2="469.5" y2="805.2" stroke="#3447b0" stroke-width="0.5"/><line x1="476.7" y1="803.4" x2="476.7" y2="805.2" stroke="#3447b0" stroke-width="0.5"/><line x1="483.9" y1="803.4" x2="483.9" y2="805.2" stroke="#3447b0" stroke-width="0.5"/><line x1="491.1" y1="803.4" x2="491.1" y2="805.2" stroke="#3447b0" stroke-width="0.5"/><line x1="498.3" y1="803.4" x2="498.3" y2="805.2" stroke="#3447b0" stroke-width="0.5"/><line x1="505.5" y1="803.4" x2="505.5" y2="805.2" stroke="#3447b0" stroke-width="0.5"/><line x1="512.7" y1="803.4" x2="512.7" y2="805.2" stroke="#3447b0" stroke-width="0.5"/><line x1="519.9" y1="803.4" x2="519.9" y2="805.2" stroke="#3447b0" stroke-width="0.5"/><line x1="527.1" y1="803.4" x2="527.1" y2="805.2" stroke="#3447b0" stroke-width="0.5"/><line x1="534.3" y1="803.4" x2="534.3" y2="805.2" stroke="#3447b0" stroke-width="0.5"/><line x1="541.5" y1="803.4" x2="541.5" y2="805.2" stroke="#3447b0" stroke-width="0.5"/><line x1="548.7" y1="803.4" x2="548.7" y2="805.2" stroke="#3447b0" stroke-width="0.5"/><line x1="555.9" y1="803.4" x2="555.9" y2="805.2" stroke="#3447b0" stroke-width="0.5"/><line x1="563.1" y1="803.4" x2="563.1" y2="805.2" stroke="#3447b0" stroke-width="0.5"/><line x1="570.3" y1="803.4" x2="570.3" y2="805.2" stroke="#3447b0" stroke-width="0.5"/><line x1="577.5" y1="803.4" x2="577.5" y2="805.2" stroke="#3447b0" stroke-width="0.5"/><line x1="584.7" y1="803.4" x2="584.7" y2="805.2" stroke="#3447b0" stroke-width="0.5"/><line x1="591.9" y1="803.4" x2="591.9" y2="805.2" stroke="#3447b0" stroke-width="0.5"/><line x1="599.1" y1="803.4" x2="599.1" y2="805.2" stroke="#3447b0" stroke-width="0.5"/><line x1="606.3" y1="803.4" x2="606.3" y2="805.2" stroke="#3447b0" stroke-width="0.5"/><line x1="613.5" y1="803.4" x2="613.5" y2="805.2" stroke="#3447b0" stroke-width="0.5"/><line x1="620.7" y1="803.4" x2="620.7" y2="805.2" stroke="#3447b0" stroke-width="0.5"/><line x1="627.9" y1="803.4" x2="627.9" y2="805.2" stroke="#3447b0" stroke-width="0.5"/><line x1="635.1" y1="803.4" x2="635.1" y2="805.2" stroke="#3447b0" stroke-width="0.5"/><line x1="642.3" y1="803.4" x2="642.3" y2="805.2" stroke="#3447b0" stroke-width="0.5"/><line x1="649.5" y1="803.4" x2="649.5" y2="805.2" stroke="#3447b0" stroke-width="0.5"/><rect x="423.0" y="802.1" width="2.5" height="4.4" fill="#3447b0"/><rect x="427.3" y="802.1" width="1.4" height="4.4" fill="#3447b0"/><rect x="430.0" y="802.1" width="1.5" height="4.4" fill="#3447b0"/><rect x="436.0" y="802.1" width="2.6" height="4.4" fill="#3447b0"/><rect x="498.3" y="802.1" width="2.5" height="4.4" fill="#3447b0"/><rect x="619.5" y="802.1" width="1.5" height="4.4" fill="#3447b0"/><rect x="622.8" y="802.1" width="1.4" height="4.4" fill="#3447b0"/><rect x="628.0" y="802.1" width="1.5" height="4.4" fill="#3447b0"/><rect x="631.0" y="802.1" width="1.5" height="4.4" fill="#3447b0"/><rect x="647.7" y="802.8" width="10.8" height="3.0" fill="#3447b0"/><text x="482.0" y="814.8" font-size="6.0" fill="#222">chr9:21,676,477-21,705,430</text><text x="634.4" y="815.0" font-size="7.6" text-anchor="middle" fill="#222">Smarca4</text><text x="567.3" y="768.4" font-size="8.3" fill="#f03848">m<tspan font-size="5.0" dy="-3">6</tspan><tspan dy="3">A KO</tspan></text><line x1="600.2" y1="766.9" x2="621.6" y2="773.7" stroke="#222" stroke-width="0.6"/><text x="567.3" y="781.6" font-size="8.3" fill="#5a8ad0">m<tspan font-size="5.0" dy="-3">6</tspan><tspan dy="3">A NT</tspan></text><line x1="600.6" y1="779.3" x2="620.5" y2="786.1" stroke="#222" stroke-width="0.6"/><line x1="414.7" y1="818.8" x2="414.7" y2="876.5" stroke="#666" stroke-width="0.7"/><text x="412.2" y="822.7" font-size="6.2" text-anchor="end" fill="#222">200</text><text x="412.2" y="876.8" font-size="6.2" text-anchor="end" fill="#222">0</text><path d="M417.0,876.8V876.7M417.6,876.8V876.3M418.2,876.8V876.7M418.8,876.8V876.4M419.4,876.8V876.8M420.0,876.8V876.7M420.6,876.8V876.3M421.2,876.8V876.7M421.8,876.8V876.5M422.4,876.8V876.6M423.0,876.8V876.6M423.6,876.8V876.6M424.2,876.8V876.7M424.8,876.8V876.4M425.4,876.8V876.8M426.0,876.8V876.7M426.6,876.8V876.8M427.2,876.8V876.7M427.8,876.8V876.6M428.4,876.8V876.3M429.0,876.8V876.6M429.6,876.8V876.7M430.2,876.8V876.7M430.8,876.8V876.3M431.4,876.8V876.8M432.0,876.8V876.5M432.6,876.8V876.6M433.2,876.8V876.5M433.8,876.8V876.6M434.4,876.8V876.5M435.0,876.8V876.6M435.6,876.8V876.5M436.2,876.8V876.3M436.8,876.8V876.5M437.4,876.8V876.7M438.0,876.8V876.8M438.6,876.8V876.3M439.2,876.8V876.6M439.8,876.8V876.7M440.4,876.8V876.3M441.0,876.8V876.5M441.6,876.8V876.4M442.2,876.8V876.4M442.8,876.8V876.7M443.4,876.8V876.6M444.0,876.8V876.4M444.6,876.8V876.7M445.2,876.8V876.4M445.8,876.8V876.8M446.4,876.8V876.5M447.0,876.8V876.4M447.6,876.8V876.3M448.2,876.8V876.4M448.8,876.8V876.5M449.4,876.8V876.7M450.0,876.8V876.7M450.6,876.8V876.5M451.2,876.8V876.5M451.8,876.8V876.8M452.4,876.8V876.3M453.0,876.8V876.5M453.6,876.8V876.4M454.2,876.8V876.7M454.8,876.8V876.7M455.4,876.8V876.8M456.0,876.8V876.6M456.6,876.8V876.7M457.2,876.8V876.6M457.8,876.8V876.6M458.4,876.8V876.4M459.0,876.8V876.4M459.6,876.8V876.7M460.2,876.8V876.6M460.8,876.8V876.7M461.4,876.8V876.5M462.0,876.8V876.3M462.6,876.8V876.7M463.2,876.8V876.4M463.8,876.8V876.6M464.4,876.8V876.8M465.0,876.8V876.4M465.6,876.8V876.6M466.2,876.8V866.3M466.8,876.8V865.5M467.4,876.8V866.1M468.0,876.8V865.5M468.6,876.8V865.4M469.2,876.8V865.5M469.8,876.8V865.0M470.4,876.8V876.7M471.0,876.8V876.8M471.6,876.8V876.8M472.2,876.8V876.7M472.8,876.8V876.5M473.4,876.8V876.6M474.0,876.8V876.4M474.6,876.8V876.5M475.2,876.8V876.4M475.8,876.8V876.3M476.4,876.8V876.8M477.0,876.8V876.8M477.6,876.8V876.7M478.2,876.8V876.6M478.8,876.8V876.5M479.4,876.8V876.4M480.0,876.8V876.6M480.6,876.8V876.3M481.2,876.8V876.8M481.8,876.8V876.4M482.4,876.8V876.7M483.0,876.8V876.4M483.6,876.8V876.8M484.2,876.8V876.3M484.8,876.8V876.4M485.4,876.8V876.3M486.0,876.8V876.5M486.6,876.8V876.7M487.2,876.8V876.3M487.8,876.8V876.6M488.4,876.8V876.8M489.0,876.8V876.5M489.6,876.8V876.6M490.2,876.8V876.6M490.8,876.8V876.7M491.4,876.8V876.7M492.0,876.8V876.5M492.6,876.8V876.6M493.2,876.8V876.7M493.8,876.8V876.6M494.4,876.8V876.4M495.0,876.8V876.4M495.6,876.8V876.6M496.2,876.8V876.6M496.8,876.8V876.6M497.4,876.8V876.7M498.0,876.8V876.7M498.6,876.8V876.6M499.2,876.8V876.7M499.8,876.8V876.4M500.4,876.8V876.4M501.0,876.8V876.5M501.6,876.8V876.8M502.2,876.8V876.6M502.8,876.8V876.6M503.4,876.8V876.8M504.0,876.8V876.3M504.6,876.8V876.4M505.2,876.8V863.7M505.8,876.8V862.9M506.4,876.8V864.8M507.0,876.8V876.7M507.6,876.8V876.5M508.2,876.8V876.4M508.8,876.8V876.5M509.4,876.8V876.8M510.0,876.8V876.5M510.6,876.8V876.3M511.2,876.8V876.4M511.8,876.8V876.3M512.4,876.8V876.3M513.0,876.8V876.7M513.6,876.8V876.7M514.2,876.8V876.5M514.8,876.8V876.3M515.4,876.8V876.6M516.0,876.8V876.3M516.6,876.8V876.4M517.2,876.8V876.5M517.8,876.8V876.5M518.4,876.8V876.3M519.0,876.8V876.4M519.6,876.8V876.7M520.2,876.8V876.4M520.8,876.8V876.7M521.4,876.8V876.6M522.0,876.8V876.3M522.6,876.8V876.4M523.2,876.8V876.6M523.8,876.8V876.7M524.4,876.8V876.5M525.0,876.8V876.4M525.6,876.8V876.5M526.2,876.8V876.3M526.8,876.8V876.4M527.4,876.8V876.4M528.0,876.8V876.5M528.6,876.8V876.6M529.2,876.8V876.6M529.8,876.8V876.6M530.4,876.8V876.5M531.0,876.8V876.4M531.6,876.8V876.7M532.2,876.8V876.8M532.8,876.8V876.4M533.4,876.8V876.7M534.0,876.8V876.6M534.6,876.8V876.7M535.2,876.8V876.4M535.8,876.8V876.7M536.4,876.8V876.7M537.0,876.8V876.4M537.6,876.8V876.5M538.2,876.8V876.7M538.8,876.8V876.4M539.4,876.8V876.6M540.0,876.8V876.6M540.6,876.8V876.3M541.2,876.8V876.4M541.8,876.8V876.4M542.4,876.8V876.7M543.0,876.8V876.4M543.6,876.8V876.5M544.2,876.8V876.4M544.8,876.8V876.6M545.4,876.8V876.4M546.0,876.8V876.4M546.6,876.8V876.6M547.2,876.8V876.5M547.8,876.8V876.4M548.4,876.8V876.3M549.0,876.8V876.3M549.6,876.8V876.4M550.2,876.8V876.7M550.8,876.8V876.5M551.4,876.8V876.5M552.0,876.8V876.8M552.6,876.8V876.6M553.2,876.8V876.4M553.8,876.8V876.3M554.4,876.8V876.3M555.0,876.8V876.8M555.6,876.8V876.5M556.2,876.8V876.4M556.8,876.8V876.5M557.4,876.8V876.6M558.0,876.8V876.8M558.6,876.8V876.3M559.2,876.8V876.4M559.8,876.8V876.5M560.4,876.8V876.6M561.0,876.8V876.4M561.6,876.8V876.4M562.2,876.8V876.4M562.8,876.8V876.5M563.4,876.8V876.6M564.0,876.8V876.7M564.6,876.8V876.6M565.2,876.8V876.6M565.8,876.8V876.5M566.4,876.8V876.7M567.0,876.8V876.4M567.6,876.8V876.6M568.2,876.8V876.7M568.8,876.8V876.7M569.4,876.8V876.6M570.0,876.8V876.6M570.6,876.8V876.4M571.2,876.8V876.8M571.8,876.8V876.7M572.4,876.8V876.7M573.0,876.8V876.7M573.6,876.8V876.4M574.2,876.8V876.7M574.8,876.8V876.8M575.4,876.8V876.5M576.0,876.8V876.4M576.6,876.8V876.4M577.2,876.8V876.5M577.8,876.8V876.6M578.4,876.8V876.4M579.0,876.8V876.4M579.6,876.8V876.6M580.2,876.8V876.5M580.8,876.8V876.3M581.4,876.8V876.3M582.0,876.8V876.3M582.6,876.8V876.7M583.2,876.8V876.6M583.8,876.8V876.6M584.4,876.8V876.7M585.0,876.8V876.4M585.6,876.8V876.8M586.2,876.8V876.4M586.8,876.8V876.5M587.4,876.8V876.5M588.0,876.8V876.6M588.6,876.8V876.3M589.2,876.8V876.5M589.8,876.8V876.4M590.4,876.8V876.3M591.0,876.8V869.4M591.6,876.8V868.8M592.2,876.8V869.8M592.8,876.8V870.1M593.4,876.8V876.4M594.0,876.8V876.5M594.6,876.8V876.6M595.2,876.8V876.5M595.8,876.8V876.6M596.4,876.8V876.7M597.0,876.8V876.4M597.6,876.8V876.6M598.2,876.8V876.3M598.8,876.8V876.5M599.4,876.8V876.3M600.0,876.8V876.7M600.6,876.8V876.7M601.2,876.8V876.5M601.8,876.8V876.4M602.4,876.8V876.4M603.0,876.8V876.5M603.6,876.8V876.7M604.2,876.8V876.6M604.8,876.8V876.8M605.4,876.8V876.6M606.0,876.8V876.3M606.6,876.8V876.6M607.2,876.8V876.5M607.8,876.8V876.5M608.4,876.8V876.7M609.0,876.8V876.5M609.6,876.8V876.8M610.2,876.8V876.7M610.8,876.8V876.5M611.4,876.8V876.7M612.0,876.8V876.3M612.6,876.8V876.6M613.2,876.8V876.5M613.8,876.8V876.3M614.4,876.8V876.7M615.0,876.8V876.3M615.6,876.8V876.8M616.2,876.8V876.5M616.8,876.8V876.5M617.4,876.8V876.3M618.0,876.8V876.6M618.6,876.8V876.3M619.2,876.8V876.5M619.8,876.8V876.6M620.4,876.8V876.7M621.0,876.8V876.7M621.6,876.8V876.6M622.2,876.8V876.6M622.8,876.8V876.6M623.4,876.8V876.4M624.0,876.8V876.6M624.6,876.8V876.5M625.2,876.8V876.8M625.8,876.8V876.7M626.4,876.8V876.4M627.0,876.8V876.4M627.6,876.8V876.6M628.2,876.8V876.8M628.8,876.8V876.7M629.4,876.8V876.6M630.0,876.8V876.6M630.6,876.8V876.5M631.2,876.8V876.6M631.8,876.8V869.5M632.4,876.8V869.2M633.0,876.8V869.2M633.6,876.8V869.3M634.2,876.8V876.5M634.8,876.8V876.7M635.4,876.8V876.4M636.0,876.8V876.7M636.6,876.8V876.4M637.2,876.8V876.6M637.8,876.8V876.5M638.4,876.8V876.6M639.0,876.8V876.5M639.6,876.8V876.6M640.2,876.8V867.7M640.8,876.8V867.3M641.4,876.8V876.6M642.0,876.8V876.5M642.6,876.8V876.6M643.2,876.8V876.6M643.8,876.8V876.6M644.4,876.8V870.3M645.0,876.8V875.2M645.6,876.8V875.1M646.2,876.8V868.2M646.8,876.8V868.6M647.4,876.8V864.2M648.0,876.8V868.4M648.6,876.8V860.3M649.2,876.8V857.8M649.8,876.8V837.9M650.4,876.8V836.9M651.0,876.8V840.0M651.6,876.8V832.7M652.2,876.8V833.2M652.8,876.8V841.0M653.4,876.8V846.1M654.0,876.8V854.9M654.6,876.8V855.0M655.2,876.8V858.9M655.8,876.8V871.2M656.4,876.8V868.5M657.0,876.8V869.3M657.6,876.8V870.9M658.2,876.8V874.3M658.8,876.8V874.9M659.4,876.8V876.8M660.0,876.8V876.8M660.6,876.8V876.6M661.2,876.8V876.5M661.8,876.8V876.7M662.4,876.8V876.6M663.0,876.8V876.5M663.6,876.8V876.7M664.2,876.8V876.5M664.8,876.8V876.5M665.4,876.8V876.6" stroke="#96c2ee" stroke-width="0.65" fill="none"/><path d="M417.0,876.8V876.5M417.6,876.8V876.5M418.2,876.8V876.7M418.8,876.8V876.2M419.4,876.8V876.8M420.0,876.8V876.4M420.6,876.8V876.2M421.2,876.8V876.7M421.8,876.8V876.4M422.4,876.8V876.4M423.0,876.8V876.8M423.6,876.8V876.5M424.2,876.8V876.3M424.8,876.8V876.5M425.4,876.8V876.3M426.0,876.8V876.7M426.6,876.8V876.6M427.2,876.8V876.7M427.8,876.8V876.4M428.4,876.8V876.2M429.0,876.8V876.4M429.6,876.8V876.3M430.2,876.8V876.5M430.8,876.8V876.3M431.4,876.8V876.7M432.0,876.8V876.6M432.6,876.8V876.3M433.2,876.8V876.3M433.8,876.8V876.5M434.4,876.8V876.7M435.0,876.8V876.6M435.6,876.8V876.7M436.2,876.8V876.6M436.8,876.8V876.2M437.4,876.8V876.7M438.0,876.8V876.2M438.6,876.8V876.2M439.2,876.8V876.8M439.8,876.8V876.5M440.4,876.8V876.5M441.0,876.8V876.8M441.6,876.8V876.5M442.2,876.8V876.2M442.8,876.8V876.7M443.4,876.8V876.4M444.0,876.8V876.7M444.6,876.8V876.4M445.2,876.8V876.2M445.8,876.8V876.7M446.4,876.8V876.8M447.0,876.8V876.7M447.6,876.8V876.4M448.2,876.8V876.8M448.8,876.8V876.7M449.4,876.8V876.5M450.0,876.8V876.2M450.6,876.8V876.5M451.2,876.8V876.5M451.8,876.8V876.4M452.4,876.8V876.7M453.0,876.8V876.4M453.6,876.8V876.7M454.2,876.8V876.4M454.8,876.8V876.1M455.4,876.8V876.8M456.0,876.8V876.4M456.6,876.8V876.4M457.2,876.8V876.7M457.8,876.8V876.6M458.4,876.8V876.1M459.0,876.8V876.1M459.6,876.8V876.7M460.2,876.8V876.3M460.8,876.8V876.1M461.4,876.8V876.6M462.0,876.8V876.4M462.6,876.8V876.8M463.2,876.8V876.5M463.8,876.8V876.3M464.4,876.8V876.4M465.0,876.8V876.3M465.6,876.8V876.7M466.2,876.8V870.4M466.8,876.8V869.2M467.4,876.8V869.9M468.0,876.8V870.2M468.6,876.8V870.3M469.2,876.8V868.9M469.8,876.8V869.9M470.4,876.8V876.8M471.0,876.8V876.2M471.6,876.8V876.6M472.2,876.8V876.5M472.8,876.8V876.7M473.4,876.8V876.5M474.0,876.8V876.6M474.6,876.8V876.7M475.2,876.8V876.4M475.8,876.8V876.7M476.4,876.8V876.3M477.0,876.8V876.8M477.6,876.8V876.3M478.2,876.8V876.2M478.8,876.8V876.5M479.4,876.8V876.3M480.0,876.8V876.6M480.6,876.8V876.3M481.2,876.8V876.5M481.8,876.8V876.6M482.4,876.8V876.1M483.0,876.8V876.5M483.6,876.8V876.5M484.2,876.8V876.2M484.8,876.8V876.5M485.4,876.8V876.3M486.0,876.8V876.7M486.6,876.8V876.2M487.2,876.8V876.6M487.8,876.8V876.8M488.4,876.8V876.1M489.0,876.8V876.7M489.6,876.8V876.1M490.2,876.8V876.1M490.8,876.8V876.4M491.4,876.8V876.8M492.0,876.8V876.8M492.6,876.8V876.7M493.2,876.8V876.5M493.8,876.8V876.4M494.4,876.8V876.1M495.0,876.8V876.6M495.6,876.8V876.7M496.2,876.8V876.4M496.8,876.8V876.7M497.4,876.8V876.7M498.0,876.8V876.4M498.6,876.8V876.3M499.2,876.8V876.8M499.8,876.8V876.5M500.4,876.8V876.3M501.0,876.8V876.3M501.6,876.8V876.5M502.2,876.8V876.2M502.8,876.8V876.7M503.4,876.8V876.3M504.0,876.8V876.3M504.6,876.8V876.2M505.2,876.8V866.4M505.8,876.8V867.8M506.4,876.8V868.0M507.0,876.8V876.4M507.6,876.8V876.7M508.2,876.8V876.4M508.8,876.8V876.7M509.4,876.8V876.3M510.0,876.8V876.6M510.6,876.8V876.8M511.2,876.8V876.7M511.8,876.8V876.5M512.4,876.8V876.4M513.0,876.8V876.5M513.6,876.8V876.7M514.2,876.8V876.5M514.8,876.8V876.1M515.4,876.8V876.4M516.0,876.8V876.1M516.6,876.8V876.8M517.2,876.8V876.1M517.8,876.8V876.2M518.4,876.8V876.4M519.0,876.8V876.4M519.6,876.8V876.4M520.2,876.8V876.2M520.8,876.8V876.8M521.4,876.8V876.4M522.0,876.8V876.4M522.6,876.8V876.6M523.2,876.8V876.3M523.8,876.8V876.3M524.4,876.8V876.7M525.0,876.8V876.3M525.6,876.8V876.5M526.2,876.8V876.5M526.8,876.8V876.4M527.4,876.8V876.8M528.0,876.8V876.4M528.6,876.8V876.5M529.2,876.8V876.2M529.8,876.8V876.6M530.4,876.8V876.2M531.0,876.8V876.3M531.6,876.8V876.4M532.2,876.8V876.2M532.8,876.8V876.8M533.4,876.8V876.4M534.0,876.8V876.4M534.6,876.8V876.3M535.2,876.8V876.5M535.8,876.8V876.8M536.4,876.8V876.7M537.0,876.8V876.4M537.6,876.8V876.7M538.2,876.8V876.8M538.8,876.8V876.6M539.4,876.8V876.5M540.0,876.8V876.4M540.6,876.8V876.8M541.2,876.8V876.3M541.8,876.8V876.6M542.4,876.8V876.3M543.0,876.8V876.8M543.6,876.8V876.1M544.2,876.8V876.4M544.8,876.8V876.1M545.4,876.8V876.1M546.0,876.8V876.2M546.6,876.8V876.7M547.2,876.8V876.6M547.8,876.8V876.6M548.4,876.8V876.3M549.0,876.8V876.7M549.6,876.8V876.6M550.2,876.8V876.7M550.8,876.8V876.7M551.4,876.8V876.1M552.0,876.8V876.1M552.6,876.8V876.5M553.2,876.8V876.3M553.8,876.8V876.5M554.4,876.8V876.4M555.0,876.8V876.5M555.6,876.8V876.4M556.2,876.8V876.6M556.8,876.8V876.6M557.4,876.8V876.4M558.0,876.8V876.7M558.6,876.8V876.5M559.2,876.8V876.1M559.8,876.8V876.8M560.4,876.8V876.7M561.0,876.8V876.2M561.6,876.8V876.8M562.2,876.8V876.6M562.8,876.8V876.2M563.4,876.8V876.4M564.0,876.8V876.6M564.6,876.8V876.8M565.2,876.8V876.6M565.8,876.8V876.6M566.4,876.8V876.2M567.0,876.8V876.1M567.6,876.8V876.2M568.2,876.8V876.2M568.8,876.8V876.1M569.4,876.8V876.2M570.0,876.8V876.2M570.6,876.8V876.1M571.2,876.8V876.7M571.8,876.8V876.6M572.4,876.8V876.6M573.0,876.8V876.4M573.6,876.8V876.5M574.2,876.8V876.6M574.8,876.8V876.2M575.4,876.8V876.5M576.0,876.8V876.7M576.6,876.8V876.6M577.2,876.8V876.5M577.8,876.8V876.4M578.4,876.8V876.4M579.0,876.8V876.5M579.6,876.8V876.7M580.2,876.8V876.5M580.8,876.8V876.6M581.4,876.8V876.7M582.0,876.8V876.4M582.6,876.8V876.7M583.2,876.8V876.3M583.8,876.8V876.3M584.4,876.8V876.7M585.0,876.8V876.4M585.6,876.8V876.6M586.2,876.8V876.5M586.8,876.8V876.4M587.4,876.8V876.3M588.0,876.8V876.2M588.6,876.8V876.3M589.2,876.8V876.7M589.8,876.8V876.4M590.4,876.8V876.6M591.0,876.8V872.0M591.6,876.8V870.9M592.2,876.8V871.1M592.8,876.8V870.3M593.4,876.8V876.6M594.0,876.8V876.2M594.6,876.8V876.4M595.2,876.8V876.7M595.8,876.8V876.3M596.4,876.8V876.6M597.0,876.8V876.4M597.6,876.8V876.8M598.2,876.8V876.8M598.8,876.8V876.2M599.4,876.8V876.8M600.0,876.8V876.7M600.6,876.8V876.7M601.2,876.8V876.7M601.8,876.8V876.2M602.4,876.8V876.1M603.0,876.8V876.3M603.6,876.8V876.5M604.2,876.8V876.2M604.8,876.8V876.4M605.4,876.8V876.7M606.0,876.8V876.3M606.6,876.8V876.5M607.2,876.8V876.6M607.8,876.8V876.6M608.4,876.8V876.5M609.0,876.8V876.7M609.6,876.8V876.4M610.2,876.8V876.2M610.8,876.8V876.4M611.4,876.8V876.8M612.0,876.8V876.3M612.6,876.8V876.8M613.2,876.8V876.5M613.8,876.8V876.2M614.4,876.8V876.3M615.0,876.8V876.2M615.6,876.8V876.3M616.2,876.8V876.6M616.8,876.8V876.7M617.4,876.8V876.5M618.0,876.8V876.3M618.6,876.8V876.6M619.2,876.8V876.6M619.8,876.8V876.3M620.4,876.8V876.6M621.0,876.8V876.4M621.6,876.8V876.4M622.2,876.8V876.1M622.8,876.8V876.8M623.4,876.8V876.7M624.0,876.8V876.3M624.6,876.8V876.3M625.2,876.8V876.7M625.8,876.8V876.7M626.4,876.8V876.7M627.0,876.8V876.4M627.6,876.8V876.2M628.2,876.8V876.6M628.8,876.8V876.7M629.4,876.8V876.3M630.0,876.8V876.5M630.6,876.8V876.2M631.2,876.8V876.1M631.8,876.8V869.6M632.4,876.8V870.1M633.0,876.8V870.6M633.6,876.8V871.6M634.2,876.8V876.2M634.8,876.8V876.5M635.4,876.8V876.5M636.0,876.8V876.4M636.6,876.8V876.1M637.2,876.8V876.4M637.8,876.8V876.2M638.4,876.8V876.1M639.0,876.8V876.7M639.6,876.8V876.6M640.2,876.8V868.3M640.8,876.8V868.6M641.4,876.8V876.1M642.0,876.8V876.7M642.6,876.8V876.4M643.2,876.8V876.1M643.8,876.8V876.4M644.4,876.8V868.5M645.0,876.8V874.5M645.6,876.8V868.2M646.2,876.8V866.2M646.8,876.8V868.6M647.4,876.8V866.4M648.0,876.8V857.3M648.6,876.8V852.3M649.2,876.8V860.1M649.8,876.8V854.4M650.4,876.8V852.3M651.0,876.8V848.9M651.6,876.8V845.0M652.2,876.8V851.8M652.8,876.8V855.2M653.4,876.8V863.0M654.0,876.8V866.3M654.6,876.8V864.5M655.2,876.8V866.7M655.8,876.8V872.2M656.4,876.8V868.4M657.0,876.8V875.9M657.6,876.8V876.0M658.2,876.8V874.4M658.8,876.8V875.2M659.4,876.8V876.8M660.0,876.8V876.5M660.6,876.8V876.7M661.2,876.8V876.6M661.8,876.8V876.6M662.4,876.8V876.7M663.0,876.8V876.4M663.6,876.8V876.1M664.2,876.8V876.5M664.8,876.8V876.4M665.4,876.8V876.6" stroke="#e9707a" stroke-width="0.65" fill="none"/><line x1="414.7" y1="876.8" x2="667.6" y2="876.8" stroke="#666" stroke-width="0.8"/><rect x="649.3" y="879.5" width="9.7" height="5.9" fill="#74cdd3" stroke="#5aa" stroke-width="0.4"/><line x1="466.2" y1="889.6" x2="659.0" y2="889.6" stroke="#3447b0" stroke-width="0.9"/><line x1="470.2" y1="888.7" x2="470.2" y2="890.5" stroke="#3447b0" stroke-width="0.5"/><line x1="477.4" y1="888.7" x2="477.4" y2="890.5" stroke="#3447b0" stroke-width="0.5"/><line x1="484.6" y1="888.7" x2="484.6" y2="890.5" stroke="#3447b0" stroke-width="0.5"/><line x1="491.8" y1="888.7" x2="491.8" y2="890.5" stroke="#3447b0" stroke-width="0.5"/><line x1="499.0" y1="888.7" x2="499.0" y2="890.5" stroke="#3447b0" stroke-width="0.5"/><line x1="506.2" y1="888.7" x2="506.2" y2="890.5" stroke="#3447b0" stroke-width="0.5"/><line x1="513.4" y1="888.7" x2="513.4" y2="890.5" stroke="#3447b0" stroke-width="0.5"/><line x1="520.6" y1="888.7" x2="520.6" y2="890.5" stroke="#3447b0" stroke-width="0.5"/><line x1="527.8" y1="888.7" x2="527.8" y2="890.5" stroke="#3447b0" stroke-width="0.5"/><line x1="535.0" y1="888.7" x2="535.0" y2="890.5" stroke="#3447b0" stroke-width="0.5"/><line x1="542.2" y1="888.7" x2="542.2" y2="890.5" stroke="#3447b0" stroke-width="0.5"/><line x1="549.4" y1="888.7" x2="549.4" y2="890.5" stroke="#3447b0" stroke-width="0.5"/><line x1="556.6" y1="888.7" x2="556.6" y2="890.5" stroke="#3447b0" stroke-width="0.5"/><line x1="563.8" y1="888.7" x2="563.8" y2="890.5" stroke="#3447b0" stroke-width="0.5"/><line x1="571.0" y1="888.7" x2="571.0" y2="890.5" stroke="#3447b0" stroke-width="0.5"/><line x1="578.2" y1="888.7" x2="578.2" y2="890.5" stroke="#3447b0" stroke-width="0.5"/><line x1="585.4" y1="888.7" x2="585.4" y2="890.5" stroke="#3447b0" stroke-width="0.5"/><line x1="592.6" y1="888.7" x2="592.6" y2="890.5" stroke="#3447b0" stroke-width="0.5"/><line x1="599.8" y1="888.7" x2="599.8" y2="890.5" stroke="#3447b0" stroke-width="0.5"/><line x1="607.0" y1="888.7" x2="607.0" y2="890.5" stroke="#3447b0" stroke-width="0.5"/><line x1="614.2" y1="888.7" x2="614.2" y2="890.5" stroke="#3447b0" stroke-width="0.5"/><line x1="621.4" y1="888.7" x2="621.4" y2="890.5" stroke="#3447b0" stroke-width="0.5"/><line x1="628.6" y1="888.7" x2="628.6" y2="890.5" stroke="#3447b0" stroke-width="0.5"/><line x1="635.8" y1="888.7" x2="635.8" y2="890.5" stroke="#3447b0" stroke-width="0.5"/><line x1="643.0" y1="888.7" x2="643.0" y2="890.5" stroke="#3447b0" stroke-width="0.5"/><line x1="650.2" y1="888.7" x2="650.2" y2="890.5" stroke="#3447b0" stroke-width="0.5"/><rect x="505.0" y="887.4" width="1.5" height="4.4" fill="#3447b0"/><rect x="591.0" y="887.4" width="1.5" height="4.4" fill="#3447b0"/><rect x="631.5" y="887.4" width="3.0" height="4.4" fill="#3447b0"/><rect x="639.6" y="887.4" width="1.4" height="4.4" fill="#3447b0"/><rect x="645.4" y="888.1" width="13.6" height="3.0" fill="#3447b0"/><polygon points="466.2,889.6 469.2,887.6 469.2,891.6" fill="#3447b0"/><text x="481.5" y="900.9" font-size="6.0" fill="#222">chr5:135,164,752-135,182,430</text><text x="631.8" y="901.0" font-size="7.6" text-anchor="middle" fill="#222">Bcl7b</text><text x="597.9" y="838.3" font-size="8.3" fill="#5a8ad0">m<tspan font-size="5.0" dy="-3">6</tspan><tspan dy="3">A NT</tspan></text><line x1="628.4" y1="834.9" x2="650.0" y2="841.7" stroke="#222" stroke-width="0.6"/><text x="595.6" y="862.5" font-size="8.3" fill="#f03848">m<tspan font-size="5.0" dy="-3">6</tspan><tspan dy="3">A KO</tspan></text><line x1="627.3" y1="861.0" x2="648.8" y2="867.0" stroke="#222" stroke-width="0.6"/><rect x="435.0" y="829.7" width="10.0" height="4.8" fill="#d35ead"/><rect x="435.0" y="840.7" width="10.0" height="4.8" fill="#6fcbd0"/><text x="447.6" y="835.2" font-size="8.5" fill="#333">upregualted m<tspan font-size="5" dy="-3">6</tspan><tspan dy="3">A</tspan></text><text x="447.6" y="846.1" font-size="8.5" fill="#333">downregualted m<tspan font-size="5" dy="-3">6</tspan><tspan dy="3">A</tspan></text>
</svg>
</body></html>
